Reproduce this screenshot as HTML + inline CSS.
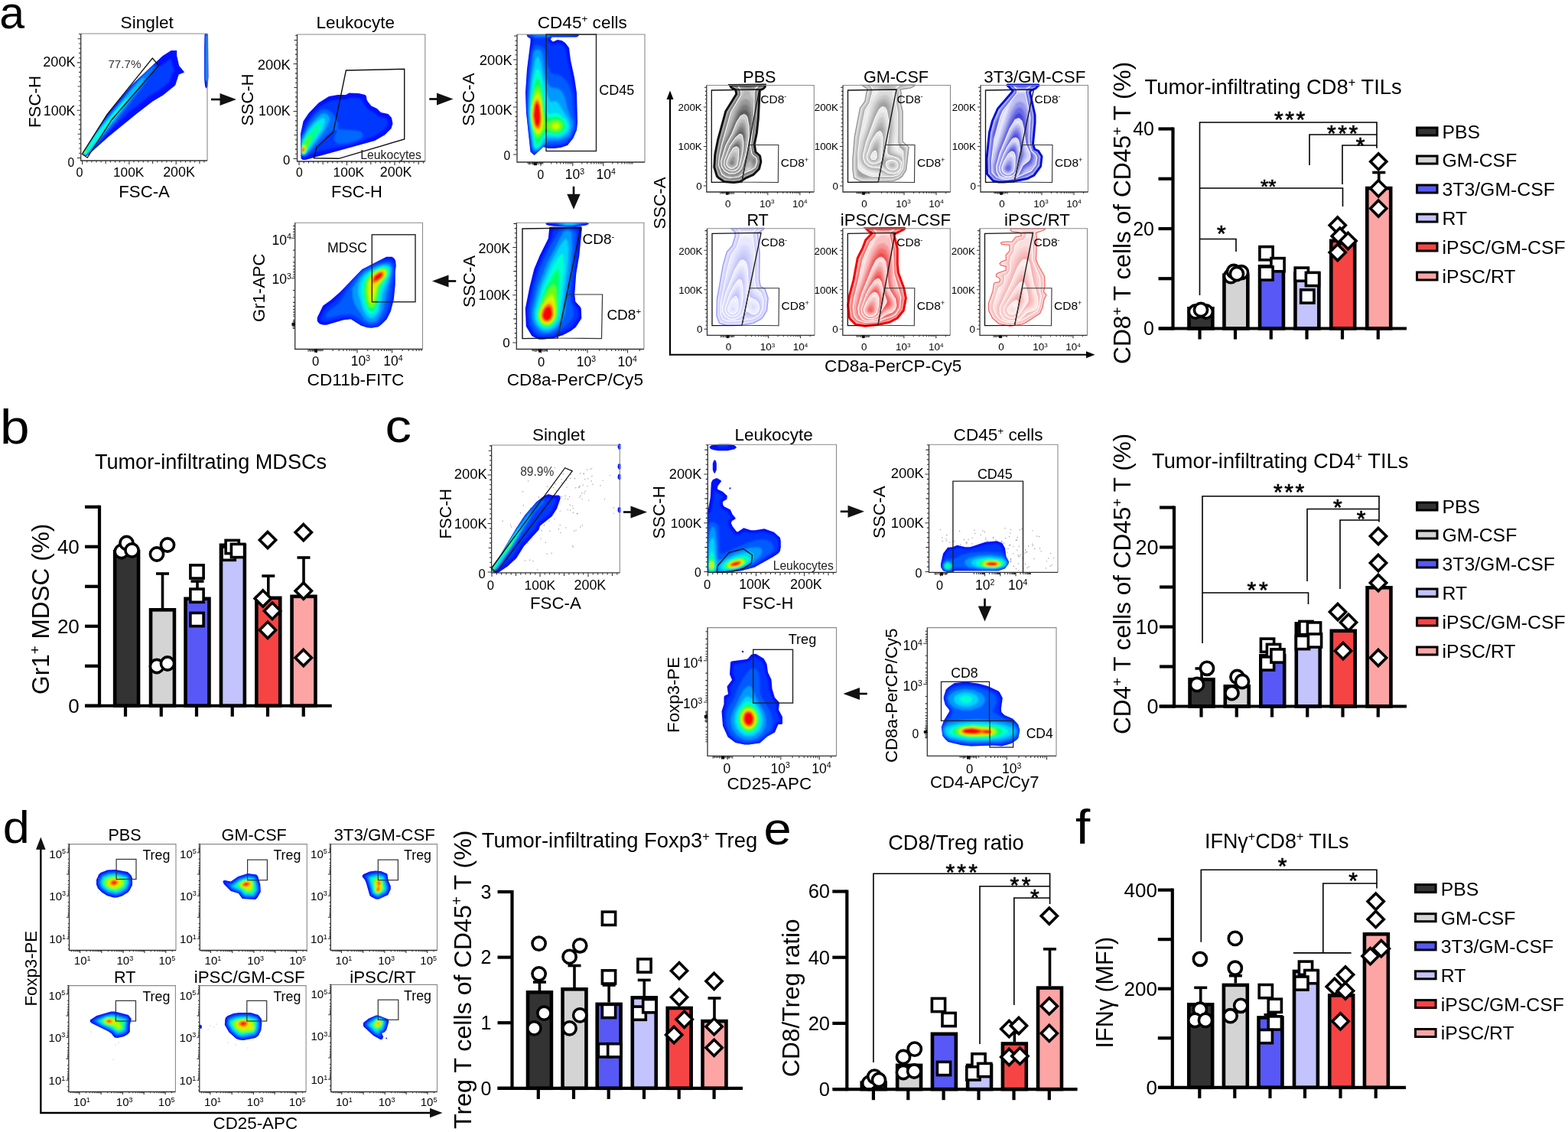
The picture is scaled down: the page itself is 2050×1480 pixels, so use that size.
<!DOCTYPE html><html><head><meta charset="utf-8"><title>Figure</title><style>html,body{margin:0;padding:0;background:#fff}svg{display:block}</style></head><body>
<svg width="2050" height="1480" viewBox="0 0 2050 1480" style="font-family:'Liberation Sans',Arial,sans-serif">
<rect width="2050" height="1480" fill="#fff"/>
<defs><filter id="bl" x="-5%" y="-5%" width="110%" height="110%"><feGaussianBlur stdDeviation="1.3"/></filter></defs>
<path d="M112.2 204.0 110.2 203.5 108.2 200.0 140.2 149.0 172.7 110.5 212.7 73.0 223.7 66.0 231.2 66.0 231.2 73.0 234.2 86.0 241.2 94.5 233.7 97.5 229.2 111.5 213.2 124.5 199.7 132.5 177.7 149.5 142.2 178.5 114.2 203.5 112.2 204.0Z" fill="#0010ff" fill-rule="evenodd"/>
<clipPath id="c1"><path d="M112.2 204.0 110.2 203.5 108.2 200.0 140.2 149.0 172.7 110.5 212.7 73.0 223.7 66.0 231.2 66.0 231.2 73.0 234.2 86.0 241.2 94.5 233.7 97.5 229.2 111.5 213.2 124.5 199.7 132.5 177.7 149.5 142.2 178.5 114.2 203.5 112.2 204.0Z" clip-rule="evenodd"/></clipPath>
<g clip-path="url(#c1)"><g filter="url(#bl)">
<path d="M112.2 203.8 110.2 203.4 108.3 200.0 137.1 154.5 173.2 110.5 203.7 82.5 208.2 86.1 210.2 86.3 223.2 76.5 226.3 88.5 227.9 91.5 225.4 95.5 221.5 107.0 208.7 117.2 194.7 125.8 166.7 148.1 146.7 167.5 118.3 199.5 114.2 203.2 112.2 203.8Z" fill="#003eff" fill-rule="evenodd"/>
<path d="M112.2 203.6 110.2 203.2 108.4 200.0 130.7 165.0 179.7 105.7 189.2 95.5 199.2 86.4 202.0 85.0 202.7 87.7 190.8 107.5 151.7 158.0 114.5 202.5 112.2 203.6Z" fill="#0077ff" fill-rule="evenodd"/>
<path d="M110.7 203.5 108.4 200.0 123.7 176.0 173.6 115.5 185.2 103.3 189.2 100.9 187.5 105.5 181.7 115.0 164.0 138.5 113.7 201.9 110.7 203.5Z" fill="#00c3ff" fill-rule="evenodd"/>
<path d="M111.2 202.6 110.2 202.7 108.5 200.0 117.7 185.5 147.2 149.1 161.2 133.3 168.2 126.7 166.2 131.1 153.3 149.5 113.4 201.0 111.2 202.6Z" fill="#00ffe0" fill-rule="evenodd"/>
<path d="M111.2 201.7 108.7 201.0 110.1 197.5 121.2 185.1 115.5 194.0 113.1 200.0 111.2 201.7Z" fill="#07ff55" fill-rule="evenodd"/>
<path d="M110.2 201.0 108.7 200.0 111.8 196.5 112.5 199.0 110.2 201.0Z" fill="#89ff00" fill-rule="evenodd"/>
<path d="M110.2 199.6 109.7 198.8 110.6 198.5 110.2 199.6Z" fill="#eff200" fill-rule="evenodd"/>
</g></g>
<path d="M270.0 115.5 269.0 115.0 268.0 112.0 267.0 102.0 267.0 64.5 267.5 45.5 268.5 44.0 271.0 44.0 272.0 45.5 272.5 100.0 271.5 113.0 270.0 115.5Z" fill="#0010ff" fill-rule="evenodd"/>
<clipPath id="c2"><path d="M270.0 115.5 269.0 115.0 268.0 112.0 267.0 102.0 267.0 64.5 267.5 45.5 268.5 44.0 271.0 44.0 272.0 45.5 272.5 100.0 271.5 113.0 270.0 115.5Z" clip-rule="evenodd"/></clipPath>
<g clip-path="url(#c2)"><g filter="url(#bl)">
<path d="M270.0 107.2 268.2 106.0 267.8 101.5 268.0 46.0 269.5 44.4 271.3 46.0 271.3 105.0 270.0 107.2Z" fill="#003eff" fill-rule="evenodd"/>
<path d="M270.0 106.3 268.6 105.5 268.4 101.0 268.5 46.0 269.5 44.9 270.8 46.5 270.8 105.0 270.0 106.3Z" fill="#0077ff" fill-rule="evenodd"/>
<path d="M270.0 105.7 269.0 105.0 268.8 101.0 269.5 45.4 270.3 46.5 270.0 105.7Z" fill="#00c3ff" fill-rule="evenodd"/>
</g></g>
<path d="M105.7,44.0 H271.0 V210.0" fill="none" stroke="#8a8a8a" stroke-width="1.1"/>
<path d="M105.7,44.0 V210.0 H271.0" fill="none" stroke="#333" stroke-width="1.3"/>
<path d="M107.6,210.0v5 M113.7,210.0v2.6 M119.9,210.0v2.6 M126.0,210.0v2.6 M132.1,210.0v2.6 M138.2,210.0v4 M144.4,210.0v2.6 M150.5,210.0v2.6 M156.6,210.0v2.6 M162.8,210.0v2.6 M168.9,210.0v5 M175.0,210.0v2.6 M181.2,210.0v2.6 M187.3,210.0v2.6 M193.4,210.0v2.6 M199.6,210.0v4 M205.7,210.0v2.6 M211.8,210.0v2.6 M217.9,210.0v2.6 M224.1,210.0v2.6 M230.2,210.0v5 M236.3,210.0v2.6 M242.5,210.0v2.6 M248.6,210.0v2.6 M254.7,210.0v2.6 M260.9,210.0v4 M267.0,210.0v2.6" stroke="#333" stroke-width="1.1" fill="none"/>
<path d="M105.7,206.5h-5 M105.7,200.3h-2.6 M105.7,194.0h-2.6 M105.7,187.8h-2.6 M105.7,181.6h-2.6 M105.7,175.3h-4 M105.7,169.1h-2.6 M105.7,162.9h-2.6 M105.7,156.7h-2.6 M105.7,150.4h-2.6 M105.7,144.2h-5 M105.7,138.0h-2.6 M105.7,131.7h-2.6 M105.7,125.5h-2.6 M105.7,119.3h-2.6 M105.7,113.0h-4 M105.7,106.8h-2.6 M105.7,100.6h-2.6 M105.7,94.4h-2.6 M105.7,88.1h-2.6 M105.7,81.9h-5 M105.7,75.7h-2.6 M105.7,69.4h-2.6 M105.7,63.2h-2.6 M105.7,57.0h-2.6 M105.7,50.7h-4 M105.7,44.5h-2.6" stroke="#333" stroke-width="1.1" fill="none"/>
<path d="M107.3,201.4 L140.2,149.4 L199.3,76.1 L207.6,85.5 L146.1,156.5 L114.2,206.2 Z" fill="none" stroke="#111" stroke-width="1.3"/>
<text x="141.4" y="88.5" font-size="15.19" fill="#333">77.7%</text>
<text x="56.3" y="87.0" font-size="18.11" fill="#000">200K</text>
<text x="56.8" y="151.0" font-size="17.89" fill="#000">100K</text>
<text x="88.4" y="217.5" font-size="15.59" fill="#000">0</text>
<text x="99.4" y="231.2" font-size="16.16" fill="#000">0</text>
<text x="147.9" y="231.2" font-size="17.31" fill="#000">100K</text>
<text x="213.2" y="231.2" font-size="17.87" fill="#000">200K</text>
<text x="155.3" y="257.8" font-size="22.19" fill="#000">FSC-A</text>
<text transform="translate(52.5,167.1) rotate(-90)" x="0.0" y="0" font-size="22.31" fill="#000">FSC-H</text>
<text x="157.6" y="37.0" font-size="22.63" fill="#000">Singlet</text>
<path d="M399.5 209.0 395.5 209.0 393.5 207.0 393.0 175.0 396.5 158.5 403.5 148.0 416.5 134.5 430.0 126.0 441.5 124.0 452.0 124.0 456.5 121.5 469.0 122.0 477.5 124.0 479.0 126.0 479.5 130.0 481.0 133.0 485.5 138.5 493.0 142.0 498.0 147.0 507.5 149.0 512.0 154.0 513.5 161.5 511.5 168.0 503.0 176.5 490.0 184.0 399.5 209.0Z" fill="#0010ff" fill-rule="evenodd"/>
<clipPath id="c3"><path d="M399.5 209.0 395.5 209.0 393.5 207.0 393.0 175.0 396.5 158.5 403.5 148.0 416.5 134.5 430.0 126.0 441.5 124.0 452.0 124.0 456.5 121.5 469.0 122.0 477.5 124.0 479.0 126.0 479.5 130.0 481.0 133.0 485.5 138.5 493.0 142.0 498.0 147.0 507.5 149.0 512.0 154.0 513.5 161.5 511.5 168.0 503.0 176.5 490.0 184.0 399.5 209.0Z" clip-rule="evenodd"/></clipPath>
<g clip-path="url(#c3)"><g filter="url(#bl)">
<path d="M398.0 206.1 396.0 206.1 393.9 204.5 393.3 181.0 393.5 176.5 399.7 161.5 407.5 150.0 414.6 142.5 418.9 139.0 432.0 131.8 443.5 129.9 453.0 129.9 458.5 127.5 467.0 128.0 473.0 129.5 475.8 136.0 481.5 143.0 489.9 147.5 494.0 151.8 504.4 154.5 506.0 156.1 507.1 160.5 506.0 165.0 500.0 171.0 488.5 178.3 461.0 188.8 421.0 196.6 406.0 201.9 398.0 206.1Z" fill="#0039ff" fill-rule="evenodd"/>
<path d="M398.5 204.2 394.0 203.2 393.5 181.5 403.7 160.5 410.5 151.8 419.0 143.9 423.0 143.1 427.5 143.6 431.5 145.5 434.9 148.5 438.4 153.5 441.6 161.0 442.0 169.1 466.5 170.7 471.9 172.5 474.3 175.0 474.3 177.5 472.4 180.5 465.5 183.7 454.5 186.9 442.5 188.1 438.5 185.7 437.0 182.0 437.6 178.0 440.9 170.0 436.0 170.4 427.5 176.2 409.5 194.9 398.5 204.2Z" fill="#0068ff" fill-rule="evenodd"/>
<path d="M398.0 203.1 394.0 202.1 393.7 197.5 394.1 184.5 397.7 176.5 403.5 166.1 414.0 154.2 420.5 148.7 424.0 148.2 427.0 149.0 430.1 152.0 431.1 156.5 425.5 169.0 417.1 181.0 401.0 201.0 398.0 203.1Z" fill="#00acff" fill-rule="evenodd"/>
<path d="M398.0 202.1 395.0 201.9 393.9 200.0 394.0 189.2 396.3 182.5 402.0 172.5 411.8 160.5 419.0 155.4 424.0 154.3 424.8 159.5 422.1 168.0 400.0 200.5 398.0 202.1Z" fill="#00e9f0" fill-rule="evenodd"/>
<path d="M397.5 201.5 394.0 200.2 393.8 197.0 394.0 191.3 397.4 183.5 401.0 177.4 414.4 163.0 416.0 162.3 418.0 162.8 419.0 165.5 416.0 171.5 399.8 199.5 397.5 201.5Z" fill="#00ff9a" fill-rule="evenodd"/>
<path d="M397.5 200.8 395.5 200.7 394.0 199.2 394.4 192.0 401.0 181.1 407.0 177.1 407.8 178.5 407.0 181.5 399.3 199.0 397.5 200.8Z" fill="#3bff31" fill-rule="evenodd"/>
<path d="M397.5 200.0 396.0 200.2 394.5 199.0 394.0 195.2 396.0 190.6 399.0 189.3 400.0 190.6 400.0 194.5 398.9 198.5 397.5 200.0Z" fill="#acff00" fill-rule="evenodd"/>
<path d="M397.0 199.5 395.0 198.7 394.4 196.5 395.5 192.5 397.5 191.1 398.8 192.0 399.2 195.0 398.4 198.0 397.0 199.5Z" fill="#f4e200" fill-rule="evenodd"/>
<path d="M397.0 198.7 395.5 198.3 394.9 196.5 395.5 193.8 397.0 192.4 398.5 195.0 397.0 198.7Z" fill="#ff7900" fill-rule="evenodd"/>
<path d="M397.0 197.6 396.0 197.6 395.6 196.5 397.0 193.9 397.7 195.5 397.0 197.6Z" fill="#ff0000" fill-rule="evenodd"/>
</g></g>
<path d="M388.5,45.0 H555.8 V211.0" fill="none" stroke="#8a8a8a" stroke-width="1.1"/>
<path d="M388.5,45.0 V211.0 H555.8" fill="none" stroke="#333" stroke-width="1.3"/>
<path d="M391.0,211.0v5 M397.2,211.0v2.6 M403.5,211.0v2.6 M409.8,211.0v2.6 M416.0,211.0v2.6 M422.2,211.0v4 M428.5,211.0v2.6 M434.8,211.0v2.6 M441.0,211.0v2.6 M447.2,211.0v2.6 M453.5,211.0v5 M459.8,211.0v2.6 M466.0,211.0v2.6 M472.2,211.0v2.6 M478.5,211.0v2.6 M484.8,211.0v4 M491.0,211.0v2.6 M497.2,211.0v2.6 M503.5,211.0v2.6 M509.8,211.0v2.6 M516.0,211.0v5 M522.2,211.0v2.6 M528.5,211.0v2.6 M534.8,211.0v2.6 M541.0,211.0v2.6 M547.2,211.0v4 M553.5,211.0v2.6" stroke="#333" stroke-width="1.1" fill="none"/>
<path d="M388.5,207.5h-5 M388.5,201.3h-2.6 M388.5,195.1h-2.6 M388.5,188.9h-2.6 M388.5,182.7h-2.6 M388.5,176.5h-4 M388.5,170.3h-2.6 M388.5,164.1h-2.6 M388.5,157.9h-2.6 M388.5,151.7h-2.6 M388.5,145.5h-5 M388.5,139.3h-2.6 M388.5,133.1h-2.6 M388.5,126.9h-2.6 M388.5,120.7h-2.6 M388.5,114.5h-4 M388.5,108.3h-2.6 M388.5,102.1h-2.6 M388.5,95.9h-2.6 M388.5,89.7h-2.6 M388.5,83.5h-5 M388.5,77.3h-2.6 M388.5,71.1h-2.6 M388.5,64.9h-2.6 M388.5,58.7h-2.6 M388.5,52.5h-4 M388.5,46.3h-2.6" stroke="#333" stroke-width="1.1" fill="none"/>
<path d="M410.4,206.7 L414.0,192.5 L435.8,172.4 L452.4,92.0 L528.7,90.3 L528.7,181.9 L442.9,207.3 Z" fill="none" stroke="#111" stroke-width="1.4"/>
<text x="471.3" y="207.9" font-size="15.75" fill="#222">Leukocytes</text>
<text x="336.8" y="90.5" font-size="18.44" fill="#000">200K</text>
<text x="338.0" y="151.2" font-size="17.89" fill="#000">100K</text>
<text x="370.1" y="215.0" font-size="16.63" fill="#000">0</text>
<text x="386.9" y="230.5" font-size="15.68" fill="#000">0</text>
<text x="435.6" y="230.5" font-size="17.35" fill="#000">100K</text>
<text x="496.8" y="230.5" font-size="17.89" fill="#000">200K</text>
<text x="432.9" y="257.5" font-size="21.90" fill="#000">FSC-H</text>
<text transform="translate(331.2,164.6) rotate(-90)" x="0.0" y="0" font-size="21.91" fill="#000">SSC-H</text>
<text x="413.6" y="37.0" font-size="22.47" fill="#000">Leukocyte</text>
<path d="M698.5 203.0 693.5 198.5 688.0 147.5 687.0 121.0 689.0 90.5 693.5 55.0 693.5 50.5 689.5 48.0 688.5 45.0 756.0 44.5 757.0 46.5 754.0 48.5 721.5 48.5 720.0 51.0 720.0 52.0 723.0 54.5 729.0 52.0 734.5 53.0 739.0 56.0 744.0 62.5 746.0 78.5 751.0 101.5 754.0 121.5 755.0 160.0 754.0 170.0 749.5 180.5 742.0 190.0 733.0 193.0 724.5 194.0 717.0 194.0 710.5 192.0 698.5 203.0Z" fill="#0010ff" fill-rule="evenodd"/>
<clipPath id="c4"><path d="M698.5 203.0 693.5 198.5 688.0 147.5 687.0 121.0 689.0 90.5 693.5 55.0 693.5 50.5 689.5 48.0 688.5 45.0 756.0 44.5 757.0 46.5 754.0 48.5 721.5 48.5 720.0 51.0 720.0 52.0 723.0 54.5 729.0 52.0 734.5 53.0 739.0 56.0 744.0 62.5 746.0 78.5 751.0 101.5 754.0 121.5 755.0 160.0 754.0 170.0 749.5 180.5 742.0 190.0 733.0 193.0 724.5 194.0 717.0 194.0 710.5 192.0 698.5 203.0Z" clip-rule="evenodd"/></clipPath>
<g clip-path="url(#c4)"><g filter="url(#bl)">
<path d="M700.0 201.5 698.5 201.8 696.4 200.5 694.0 197.4 688.4 147.5 687.6 127.0 689.5 98.5 692.8 70.0 697.2 52.0 696.0 49.5 690.0 48.0 689.1 45.0 755.8 45.0 756.6 46.5 754.0 48.0 721.5 48.2 717.0 50.0 716.0 52.0 716.9 54.5 721.0 58.1 725.0 58.5 729.5 56.5 733.0 57.1 737.0 59.8 739.9 64.0 742.1 79.0 747.8 103.0 751.3 122.5 754.1 162.0 753.3 169.5 748.3 180.0 741.0 187.9 729.0 191.4 715.0 192.9 710.5 191.8 700.0 201.5Z" fill="#0035ff" fill-rule="evenodd"/>
<path d="M715.0 49.0 699.5 49.2 691.5 46.0 693.2 45.0 716.5 44.8 744.8 45.0 751.7 46.0 743.5 47.2 721.0 47.7 715.0 49.0ZM700.5 199.0 698.5 199.3 696.4 197.5 693.9 189.5 690.0 157.0 689.6 127.0 692.4 92.0 695.8 67.0 699.0 59.7 703.0 58.9 708.5 60.7 712.6 65.5 716.5 86.8 719.5 94.2 722.5 96.5 730.5 98.1 735.5 100.7 740.2 105.5 744.1 112.0 748.0 123.5 749.1 142.5 751.4 161.0 751.3 166.5 749.6 172.0 746.1 178.5 740.0 185.0 731.5 187.9 715.5 189.3 709.5 192.1 703.0 198.4 700.5 199.0Z" fill="#005bff" fill-rule="evenodd"/>
<path d="M717.0 47.5 701.5 47.6 697.2 46.5 698.0 45.6 708.5 45.1 716.5 45.0 719.9 46.0 717.0 47.5ZM700.5 197.0 698.0 196.6 695.8 191.5 691.2 156.5 690.8 136.5 692.7 108.0 697.2 71.5 698.5 66.5 703.0 64.4 706.5 65.7 708.5 68.9 713.0 97.0 716.5 109.6 719.5 113.9 730.0 115.9 733.5 118.5 736.1 122.0 739.0 129.0 742.4 144.5 748.7 159.0 749.0 165.5 745.8 174.5 744.0 177.4 740.5 180.2 731.0 183.8 717.0 184.2 711.5 188.5 706.5 194.7 700.5 197.0Z" fill="#009aff" fill-rule="evenodd"/>
<path d="M702.0 195.1 699.0 194.9 697.4 191.5 692.6 161.0 691.7 146.0 692.8 123.0 695.6 100.0 699.5 80.5 701.5 75.0 703.0 73.8 704.5 75.5 706.5 81.6 714.0 118.0 718.0 131.1 720.0 133.4 726.0 132.3 729.5 134.2 743.3 156.5 745.5 165.0 743.7 171.5 738.6 177.0 730.0 180.3 715.0 180.2 712.6 182.5 706.6 192.5 702.0 195.1Z" fill="#00d5f9" fill-rule="evenodd"/>
<path d="M702.5 193.1 700.1 193.0 698.8 191.0 693.5 161.0 692.6 145.5 693.5 130.7 697.4 104.5 700.0 93.8 701.5 90.6 703.0 89.7 705.5 93.3 708.1 103.0 715.5 147.0 718.0 149.0 727.0 147.6 732.5 149.7 739.7 157.0 741.6 161.0 742.2 165.0 741.5 168.5 739.6 172.0 733.5 176.4 727.5 177.7 716.5 176.2 713.0 177.3 710.4 180.5 706.0 190.5 702.5 193.1Z" fill="#00ffd3" fill-rule="evenodd"/>
<path d="M703.5 190.0 702.5 190.0 701.0 187.0 696.0 170.0 693.8 156.0 693.5 145.5 694.4 133.5 698.5 111.4 700.9 103.5 703.0 101.5 705.5 105.0 708.0 114.3 712.5 147.4 714.0 152.8 716.5 154.7 726.0 152.6 731.5 153.7 737.0 158.5 739.1 164.5 737.1 170.5 731.5 174.4 725.0 175.0 715.5 172.6 712.5 173.5 709.0 178.0 703.5 190.0Z" fill="#00ff60" fill-rule="evenodd"/>
<path d="M703.5 180.6 702.0 180.2 700.5 178.2 697.0 169.4 695.1 160.5 694.2 149.5 694.8 139.0 697.0 126.8 700.5 114.6 703.0 111.7 705.2 114.5 707.6 123.0 711.5 152.8 713.5 159.5 715.5 161.0 723.0 156.9 728.5 156.4 733.8 159.5 735.9 164.5 734.0 169.5 728.0 172.4 722.5 171.7 714.0 167.3 703.5 180.6Z" fill="#66ff13" fill-rule="evenodd"/>
<path d="M704.0 175.5 701.0 174.4 698.0 168.4 695.9 160.0 695.0 151.0 695.4 141.5 697.0 132.4 700.0 123.2 702.5 120.1 705.0 122.4 707.7 131.5 710.6 160.5 709.0 168.5 706.5 173.1 704.0 175.5ZM727.0 169.0 723.4 168.0 721.4 165.0 722.6 162.0 726.5 160.3 730.2 161.5 731.8 164.5 730.5 167.7 727.0 169.0Z" fill="#c9ff00" fill-rule="evenodd"/>
<path d="M704.0 171.7 701.0 170.8 698.5 166.2 696.6 159.0 695.8 151.0 697.5 135.0 700.0 128.3 702.5 126.0 705.0 128.5 706.9 134.5 708.8 154.5 708.1 165.0 706.5 169.0 704.0 171.7Z" fill="#f8d500" fill-rule="evenodd"/>
<path d="M703.0 168.6 700.5 167.0 698.5 162.8 696.6 150.0 698.3 136.5 700.5 131.5 702.5 130.4 704.5 132.4 706.1 137.0 707.7 153.0 706.6 164.0 705.0 167.3 703.0 168.6Z" fill="#ff6d00" fill-rule="evenodd"/>
<path d="M703.5 165.2 701.5 165.0 699.5 162.1 697.4 151.5 698.5 139.8 700.0 135.9 702.0 134.1 703.5 134.9 705.0 138.0 706.6 148.5 706.2 159.5 703.5 165.2Z" fill="#ff0000" fill-rule="evenodd"/>
</g></g>
<path d="M676.0,45.0 H843.0 V212.0" fill="none" stroke="#8a8a8a" stroke-width="1.1"/>
<path d="M676.0,45.0 V212.0 H843.0" fill="none" stroke="#333" stroke-width="1.3"/>
<path d="M676.0,202.0h-5 M676.0,195.8h-2.6 M676.0,189.6h-2.6 M676.0,183.4h-2.6 M676.0,177.2h-2.6 M676.0,171.0h-4 M676.0,164.8h-2.6 M676.0,158.6h-2.6 M676.0,152.4h-2.6 M676.0,146.2h-2.6 M676.0,140.0h-5 M676.0,133.8h-2.6 M676.0,127.6h-2.6 M676.0,121.4h-2.6 M676.0,115.2h-2.6 M676.0,109.0h-4 M676.0,102.8h-2.6 M676.0,96.6h-2.6 M676.0,90.4h-2.6 M676.0,84.2h-2.6 M676.0,78.0h-5 M676.0,71.8h-2.6 M676.0,65.6h-2.6 M676.0,59.4h-2.6 M676.0,53.2h-2.6 M676.0,47.0h-4" stroke="#333" stroke-width="1.1" fill="none"/>
<path d="M720.8,212.0v2.6 M727.8,212.0v2.6 M732.8,212.0v2.6 M736.7,212.0v2.6 M739.9,212.0v2.6 M742.6,212.0v2.6 M744.9,212.0v2.6 M746.9,212.0v2.6 M760.8,212.0v2.6 M767.8,212.0v2.6 M772.8,212.0v2.6 M776.7,212.0v2.6 M779.9,212.0v2.6 M782.6,212.0v2.6 M784.9,212.0v2.6 M786.9,212.0v2.6 M800.8,212.0v2.6 M807.8,212.0v2.6 M812.8,212.0v2.6 M816.7,212.0v2.6 M819.9,212.0v2.6 M822.6,212.0v2.6 M824.9,212.0v2.6 M826.9,212.0v2.6 M748.8,212.0v5 M788.8,212.0v5 M707.0,212.0v5" stroke="#333" stroke-width="1.1" fill="none"/>
<path d="M690.0,212.0v2.4 M691.6,212.0v3.3 M692.7,212.0v2.9 M693.9,212.0v3.1 M695.5,212.0v2.3 M696.4,212.0v3.4 M697.6,212.0v3.3 M698.5,212.0v2.8 M700.0,212.0v2.5 M701.7,212.0v3.5 M702.6,212.0v2.2 M703.9,212.0v3.5 M705.1,212.0v2.5 M706.4,212.0v2.2 M707.5,212.0v2.8 M708.8,212.0v2.5 M709.8,212.0v2.5" stroke="#222" stroke-width="0.9" fill="none"/>
<rect x="698.0" y="212.0" width="4" height="4.2" fill="#111"/>
<rect x="714.00" y="45.00" width="65.50" height="152.50" fill="none" stroke="#222" stroke-width="1.4"/>
<text x="783.3" y="123.8" font-size="18.01" fill="#000">CD45</text>
<text x="626.8" y="85.0" font-size="18.44" fill="#000">200K</text>
<text x="626.8" y="150.0" font-size="18.44" fill="#000">100K</text>
<text x="658.6" y="208.8" font-size="15.68" fill="#000">0</text>
<text x="702.4" y="233.8" font-size="15.68" fill="#000">0</text>
<text x="738.8" y="233.8" font-size="17.50" fill="#000">10<tspan font-size="10.5" dy="-6.3">3</tspan></text>
<text x="779.5" y="233.8" font-size="17.50" fill="#000">10<tspan font-size="10.5" dy="-6.3">4</tspan></text>
<text transform="translate(619.5,164.7) rotate(-90)" x="0.0" y="0" font-size="22.72" fill="#000">SSC-A</text>
<text x="702.8" y="37.0" font-size="22.55" fill="#000">CD45<tspan font-size="13.5" dy="-8.1">+</tspan><tspan dy="8.1"> cells</tspan></text>
<path d="M485.7 428.8 480.2 428.3 472.2 425.8 458.7 417.3 449.2 418.3 427.2 424.8 422.2 424.8 417.7 423.3 415.7 421.3 414.7 419.3 414.7 415.3 422.2 399.8 432.7 392.3 444.7 381.8 473.2 352.3 505.2 335.8 512.7 335.8 515.7 338.3 517.2 341.3 517.7 347.8 516.7 355.3 516.7 372.3 514.7 392.3 510.7 407.3 505.7 417.3 499.7 423.3 494.7 427.3 485.7 428.8Z" fill="#0010ff" fill-rule="evenodd"/>
<clipPath id="c5"><path d="M485.7 428.8 480.2 428.3 472.2 425.8 458.7 417.3 449.2 418.3 427.2 424.8 422.2 424.8 417.7 423.3 415.7 421.3 414.7 419.3 414.7 415.3 422.2 399.8 432.7 392.3 444.7 381.8 473.2 352.3 505.2 335.8 512.7 335.8 515.7 338.3 517.2 341.3 517.7 347.8 516.7 355.3 516.7 372.3 514.7 392.3 510.7 407.3 505.7 417.3 499.7 423.3 494.7 427.3 485.7 428.8Z" clip-rule="evenodd"/></clipPath>
<g clip-path="url(#c5)"><g filter="url(#bl)">
<path d="M485.7 428.3 480.7 427.7 472.7 424.5 458.7 415.3 448.7 415.5 425.7 421.1 419.7 419.6 418.6 416.8 422.5 407.8 426.0 402.3 437.9 393.3 446.3 383.8 453.2 373.8 473.2 352.6 497.7 340.3 507.7 337.9 511.7 338.7 515.9 343.8 516.8 347.3 516.8 354.8 513.2 391.3 510.5 401.3 507.0 411.3 500.1 420.8 494.2 426.2 485.7 428.3Z" fill="#0035ff" fill-rule="evenodd"/>
<path d="M488.2 424.3 484.2 424.8 476.7 422.0 464.2 413.1 459.2 410.8 448.2 411.2 427.7 415.9 426.2 414.5 426.0 412.3 429.8 406.8 443.7 396.3 462.0 367.8 473.7 353.9 482.7 349.0 493.7 344.8 505.7 341.7 510.2 342.0 513.5 346.3 514.6 353.8 508.3 394.3 504.0 408.3 500.7 414.3 493.7 422.0 488.2 424.3Z" fill="#005bff" fill-rule="evenodd"/>
<path d="M484.7 421.3 481.2 420.5 476.7 417.6 464.3 398.8 461.1 388.8 460.6 377.3 469.9 362.8 476.2 356.0 484.7 351.1 495.2 346.6 503.2 344.6 508.2 344.5 509.9 345.3 512.0 349.3 512.3 356.3 500.9 403.3 497.8 411.3 494.5 416.8 490.7 420.2 484.7 421.3Z" fill="#009aff" fill-rule="evenodd"/>
<path d="M487.7 415.9 484.2 416.1 480.7 414.2 477.4 410.3 474.3 404.3 468.5 385.3 468.1 378.3 469.1 371.8 472.6 363.8 476.9 358.8 481.2 355.6 496.2 348.0 502.2 346.5 506.2 346.9 509.2 348.2 510.7 351.3 510.0 359.8 501.7 380.3 495.5 406.3 491.8 412.8 487.7 415.9Z" fill="#00d5f9" fill-rule="evenodd"/>
<path d="M486.7 411.3 483.7 411.0 480.7 408.6 476.0 399.3 472.5 382.8 473.5 370.8 477.5 362.3 483.9 355.8 496.7 349.2 501.2 348.3 505.2 348.7 509.2 351.9 508.7 359.3 499.3 377.3 493.2 404.3 490.2 409.1 486.7 411.3Z" fill="#00ffd3" fill-rule="evenodd"/>
<path d="M486.7 406.9 484.2 406.7 481.7 404.7 477.5 395.3 475.4 380.8 476.8 369.3 481.0 361.3 487.7 355.1 496.7 350.6 504.2 350.1 507.7 353.3 507.5 358.3 497.5 374.8 492.2 399.8 489.7 404.7 486.7 406.9Z" fill="#00ff60" fill-rule="evenodd"/>
<path d="M486.7 402.4 484.5 402.3 482.3 400.3 479.1 391.8 477.8 379.3 479.4 368.3 483.2 361.3 489.2 355.6 496.7 351.8 503.2 351.4 506.1 353.8 506.1 358.3 503.8 362.8 495.3 374.3 490.9 396.3 489.1 400.3 486.7 402.4Z" fill="#66ff13" fill-rule="evenodd"/>
<path d="M485.7 397.4 482.6 394.3 480.6 385.8 480.6 374.3 482.2 366.3 485.8 360.3 491.2 355.6 497.7 352.7 502.7 352.8 504.9 355.3 504.4 359.3 492.9 374.3 489.2 393.0 487.7 396.1 485.7 397.4Z" fill="#c9ff00" fill-rule="evenodd"/>
<path d="M486.2 388.0 484.6 387.3 483.6 382.3 483.5 369.8 484.8 364.3 487.9 359.8 492.7 355.8 497.7 353.8 501.7 354.0 503.5 356.3 502.9 359.8 499.7 364.3 489.9 374.3 486.2 388.0Z" fill="#f8d500" fill-rule="evenodd"/>
<path d="M488.7 370.3 486.7 369.5 486.1 366.8 489.0 360.3 495.7 355.5 498.7 354.9 501.2 355.7 501.8 358.8 499.6 362.8 494.2 367.5 488.7 370.3Z" fill="#ff6d00" fill-rule="evenodd"/>
<path d="M490.7 366.8 489.2 366.3 488.7 364.3 491.2 359.8 495.9 356.8 499.7 357.1 500.1 359.3 498.2 362.5 494.2 365.6 490.7 366.8Z" fill="#ff0000" fill-rule="evenodd"/>
</g></g>
<path d="M385.7,291.3 H552.5 V456.5" fill="none" stroke="#8a8a8a" stroke-width="1.1"/>
<path d="M385.7,291.3 V456.5 H552.5" fill="none" stroke="#333" stroke-width="1.3"/>
<path d="M385.7,295.4h-2.6 M385.7,299.6h-2.6 M385.7,303.1h-2.6 M385.7,306.2h-2.6 M385.7,308.8h-2.6 M385.7,327.1h-2.6 M385.7,336.3h-2.6 M385.7,342.9h-2.6 M385.7,347.9h-2.6 M385.7,352.1h-2.6 M385.7,355.6h-2.6 M385.7,358.7h-2.6 M385.7,361.3h-2.6 M385.7,379.6h-2.6 M385.7,388.8h-2.6 M385.7,395.4h-2.6 M385.7,400.4h-2.6 M385.7,404.6h-2.6 M385.7,408.1h-2.6 M385.7,411.2h-2.6 M385.7,413.8h-2.6 M385.7,311.2h-5 M385.7,363.8h-5" stroke="#333" stroke-width="1.1" fill="none"/>
<path d="M435.2,456.5v2.6 M443.2,456.5v2.6 M448.9,456.5v2.6 M453.3,456.5v2.6 M456.9,456.5v2.6 M460.0,456.5v2.6 M462.6,456.5v2.6 M464.9,456.5v2.6 M480.7,456.5v2.6 M488.7,456.5v2.6 M494.4,456.5v2.6 M498.8,456.5v2.6 M502.4,456.5v2.6 M505.5,456.5v2.6 M508.1,456.5v2.6 M510.4,456.5v2.6 M526.2,456.5v2.6 M534.2,456.5v2.6 M539.9,456.5v2.6 M544.3,456.5v2.6 M547.9,456.5v2.6 M551.0,456.5v2.6 M467.0,456.5v5 M512.5,456.5v5 M413.8,456.5v5" stroke="#333" stroke-width="1.1" fill="none"/>
<path d="M403.0,456.5v3.5 M404.7,456.5v2.2 M405.6,456.5v3.4 M407.1,456.5v3.1 M408.3,456.5v3.0 M409.6,456.5v3.0 M410.7,456.5v2.8 M411.9,456.5v3.2 M413.6,456.5v3.5 M414.9,456.5v2.8 M416.0,456.5v2.2 M417.0,456.5v2.8 M418.1,456.5v2.7 M419.7,456.5v2.9 M421.1,456.5v2.5 M422.0,456.5v2.6" stroke="#222" stroke-width="0.9" fill="none"/>
<rect x="411.0" y="456.5" width="4" height="4.2" fill="#111"/>
<path d="M385.7,418.0h-2.5 M385.7,419.3h-2.7 M385.7,420.7h-3.1 M385.7,421.7h-2.2 M385.7,423.2h-2.5 M385.7,424.3h-3.6 M385.7,425.6h-3.4 M385.7,426.9h-3.1 M385.7,427.9h-3.1 M385.7,429.5h-2.9" stroke="#222" stroke-width="0.9" fill="none"/>
<rect x="381.5" y="422.0" width="4.2" height="4" fill="#111"/>
<rect x="486.30" y="306.80" width="56.70" height="87.90" fill="none" stroke="#222" stroke-width="1.4"/>
<text x="428.0" y="329.8" font-size="17.67" fill="#000">MDSC</text>
<text x="355.5" y="319.5" font-size="17.50" fill="#000">10<tspan font-size="10.5" dy="-6.3">4</tspan></text>
<text x="355.5" y="371.2" font-size="17.50" fill="#000">10<tspan font-size="10.5" dy="-6.3">3</tspan></text>
<text x="408.1" y="478.0" font-size="16.63" fill="#000">0</text>
<text x="458.8" y="478.0" font-size="17.50" fill="#000">10<tspan font-size="10.5" dy="-6.3">3</tspan></text>
<text x="501.2" y="478.0" font-size="17.50" fill="#000">10<tspan font-size="10.5" dy="-6.3">4</tspan></text>
<text x="401.6" y="503.8" font-size="22.69" fill="#000">CD11b-FITC</text>
<text transform="translate(345.5,420.9) rotate(-90)" x="0.0" y="0" font-size="22.04" fill="#000">Gr1-APC</text>
<path d="M752.3 296.3 724.3 295.8 717.3 294.8 714.3 293.8 713.3 292.3 715.3 290.8 744.3 290.8 767.8 290.8 769.8 292.3 769.3 293.3 765.3 294.8 752.3 296.3ZM710.3 443.8 704.3 443.8 695.3 439.3 687.8 426.8 686.8 403.3 692.3 375.8 698.3 351.8 705.8 333.8 716.8 311.8 718.3 296.8 759.8 296.3 760.8 297.3 760.8 299.8 757.3 334.3 753.3 357.8 751.3 384.3 752.3 394.3 758.8 401.3 759.8 403.8 760.3 416.3 752.8 427.8 746.3 432.8 735.8 438.3 723.3 442.3 710.3 443.8Z" fill="#0010ff" fill-rule="evenodd"/>
<clipPath id="c6"><path d="M752.3 296.3 724.3 295.8 717.3 294.8 714.3 293.8 713.3 292.3 715.3 290.8 744.3 290.8 767.8 290.8 769.8 292.3 769.3 293.3 765.3 294.8 752.3 296.3ZM710.3 443.8 704.3 443.8 695.3 439.3 687.8 426.8 686.8 403.3 692.3 375.8 698.3 351.8 705.8 333.8 716.8 311.8 718.3 296.8 759.8 296.3 760.8 297.3 760.8 299.8 757.3 334.3 753.3 357.8 751.3 384.3 752.3 394.3 758.8 401.3 759.8 403.8 760.3 416.3 752.8 427.8 746.3 432.8 735.8 438.3 723.3 442.3 710.3 443.8Z" clip-rule="evenodd"/></clipPath>
<g clip-path="url(#c6)"><g filter="url(#bl)">
<path d="M750.8 295.8 734.4 295.8 721.3 293.3 718.3 291.3 761.3 291.0 766.8 291.3 767.9 292.3 764.8 293.9 750.8 295.8ZM709.3 441.4 705.3 441.0 698.3 437.2 690.9 425.3 689.4 404.3 696.0 372.8 702.8 350.3 707.9 337.8 721.0 311.3 722.9 301.3 736.5 296.8 747.8 296.8 756.5 300.8 755.0 327.8 748.7 384.3 749.6 395.3 755.7 405.3 756.0 414.8 748.2 426.8 735.3 434.4 720.3 440.5 709.3 441.4Z" fill="#0035ff" fill-rule="evenodd"/>
<path d="M744.8 295.3 731.8 294.3 726.0 292.8 725.6 291.8 753.8 291.1 762.5 291.3 763.3 292.3 757.8 294.1 744.8 295.3ZM717.3 437.8 706.3 437.8 700.3 434.5 698.5 432.3 694.1 424.8 692.5 414.3 692.9 402.8 699.0 373.8 705.1 353.8 711.0 339.3 722.3 316.8 730.2 303.3 738.3 299.4 744.3 299.1 753.1 303.3 751.9 327.3 745.6 381.8 746.2 395.3 749.3 402.3 749.6 412.3 746.4 419.3 733.4 431.3 722.8 436.4 717.3 437.8Z" fill="#005bff" fill-rule="evenodd"/>
<path d="M750.3 294.3 737.8 294.4 731.8 293.4 730.0 292.3 731.6 291.3 744.3 291.1 757.6 291.3 759.2 292.3 757.6 293.3 750.3 294.3ZM717.3 434.9 712.3 435.2 707.8 433.9 703.8 431.2 700.0 426.8 697.4 421.8 695.7 415.8 695.3 409.8 696.2 403.8 703.1 374.8 715.5 343.3 736.6 303.3 740.3 301.7 743.8 301.8 747.5 303.8 747.9 325.3 745.9 351.8 741.8 379.3 739.2 407.8 736.1 417.3 730.8 425.8 724.3 431.8 717.3 434.9Z" fill="#009aff" fill-rule="evenodd"/>
<path d="M749.8 293.8 739.3 293.9 733.4 292.3 736.1 291.3 744.3 291.2 752.6 291.3 755.6 292.3 749.8 293.8ZM716.3 431.8 708.8 430.8 702.3 424.9 698.7 415.8 698.9 405.8 706.9 375.8 719.3 345.3 731.8 321.7 737.3 314.0 740.3 312.5 741.9 315.3 743.2 324.8 741.6 350.8 734.1 410.3 732.0 417.8 728.1 424.3 722.3 429.5 716.3 431.8Z" fill="#00d5f9" fill-rule="evenodd"/>
<path d="M748.3 293.3 740.3 293.3 737.2 292.3 744.3 291.3 751.7 292.3 748.3 293.3ZM716.8 429.3 709.8 428.6 704.3 424.0 701.0 416.3 700.9 407.3 710.0 376.8 723.0 347.3 730.8 334.9 734.8 331.6 736.3 332.8 737.0 335.8 737.4 350.3 731.2 411.8 729.5 417.8 726.0 423.3 721.8 427.1 716.8 429.3Z" fill="#00ffd3" fill-rule="evenodd"/>
<path d="M716.8 427.3 710.8 426.9 705.7 422.8 702.6 415.8 702.5 408.3 713.3 377.2 724.3 357.4 727.3 353.2 729.3 352.0 730.8 354.8 731.3 365.3 729.4 411.3 727.9 416.8 724.9 421.8 721.2 425.3 716.8 427.3Z" fill="#00ff60" fill-rule="evenodd"/>
<path d="M714.8 425.8 709.8 424.4 706.2 420.8 704.1 415.3 704.0 408.8 707.0 399.3 716.6 378.8 720.8 373.5 723.8 371.9 726.1 374.3 727.4 380.8 728.3 402.3 727.5 412.3 725.9 417.3 722.8 421.8 718.8 424.8 714.8 425.8Z" fill="#66ff13" fill-rule="evenodd"/>
<path d="M716.8 423.9 712.3 423.8 708.3 421.1 705.8 416.3 705.2 410.3 707.1 403.3 710.8 395.8 716.8 387.3 720.8 384.6 723.2 386.8 725.0 392.8 726.4 401.8 726.3 409.8 725.4 414.8 723.4 418.8 720.3 422.1 716.8 423.9Z" fill="#c9ff00" fill-rule="evenodd"/>
<path d="M716.3 422.4 712.3 422.1 709.2 419.8 706.9 415.3 706.6 410.3 708.3 404.2 711.8 398.0 715.8 393.7 719.3 392.5 721.8 394.3 723.8 398.8 724.8 410.8 722.1 418.3 719.3 421.0 716.3 422.4Z" fill="#f8d500" fill-rule="evenodd"/>
<path d="M715.8 420.8 712.3 420.3 709.8 418.3 708.2 414.8 707.9 410.8 709.2 405.8 711.8 401.2 715.3 397.8 718.3 397.0 720.8 398.6 722.5 401.8 723.4 411.3 720.8 417.7 715.8 420.8Z" fill="#ff6d00" fill-rule="evenodd"/>
<path d="M716.8 418.9 713.8 419.1 711.3 417.6 709.7 414.8 709.2 411.3 712.3 403.5 714.8 401.2 717.3 400.4 719.3 401.3 720.7 403.3 722.0 409.8 720.7 415.3 716.8 418.9Z" fill="#ff0000" fill-rule="evenodd"/>
</g></g>
<path d="M675.3,291.3 H841.9 V456.5" fill="none" stroke="#8a8a8a" stroke-width="1.1"/>
<path d="M675.3,291.3 V456.5 H841.9" fill="none" stroke="#333" stroke-width="1.3"/>
<path d="M675.3,448.0h-5 M675.3,441.8h-2.6 M675.3,435.6h-2.6 M675.3,429.3h-2.6 M675.3,423.1h-2.6 M675.3,416.9h-4 M675.3,410.6h-2.6 M675.3,404.4h-2.6 M675.3,398.2h-2.6 M675.3,392.0h-2.6 M675.3,385.8h-5 M675.3,379.5h-2.6 M675.3,373.3h-2.6 M675.3,367.1h-2.6 M675.3,360.9h-2.6 M675.3,354.6h-4 M675.3,348.4h-2.6 M675.3,342.2h-2.6 M675.3,335.9h-2.6 M675.3,329.7h-2.6 M675.3,323.5h-5 M675.3,317.3h-2.6 M675.3,311.0h-2.6 M675.3,304.8h-2.6 M675.3,298.6h-2.6 M675.3,292.4h-4" stroke="#333" stroke-width="1.1" fill="none"/>
<path d="M731.3,456.5v2.6 M740.5,456.5v2.6 M747.1,456.5v2.6 M752.2,456.5v2.6 M756.4,456.5v2.6 M759.9,456.5v2.6 M762.9,456.5v2.6 M765.6,456.5v2.6 M783.8,456.5v2.6 M793.0,456.5v2.6 M799.6,456.5v2.6 M804.7,456.5v2.6 M808.9,456.5v2.6 M812.4,456.5v2.6 M815.4,456.5v2.6 M818.1,456.5v2.6 M836.3,456.5v2.6 M768.0,456.5v5 M820.5,456.5v5 M707.5,456.5v5" stroke="#333" stroke-width="1.1" fill="none"/>
<path d="M696.0,456.5v2.5 M697.0,456.5v2.7 M698.0,456.5v2.3 M699.2,456.5v3.5 M700.8,456.5v3.3 M701.8,456.5v2.9 M703.0,456.5v2.4 M704.0,456.5v2.5 M705.6,456.5v3.4 M707.1,456.5v3.3 M708.2,456.5v2.6 M709.6,456.5v3.2 M711.2,456.5v3.4 M712.1,456.5v3.0 M713.6,456.5v2.9 M714.6,456.5v2.8 M715.6,456.5v3.5" stroke="#222" stroke-width="0.9" fill="none"/>
<rect x="704.0" y="456.5" width="4" height="4.2" fill="#111"/>
<path d="M683.0,299.0 L759.2,297.9 L729.0,442.0 L683.0,442.6 Z" fill="none" stroke="#111" stroke-width="1.4"/>
<path d="M741.7,385.0 L787.6,385.0 L786.5,442.6 L729.0,442.0 Z" fill="none" stroke="#333" stroke-width="1.2"/>
<text x="761.5" y="319.4" font-size="19.00" fill="#000">CD8<tspan font-size="11.4" dy="-6.8">-</tspan></text>
<text x="793.4" y="417.6" font-size="19.00" fill="#000">CD8<tspan font-size="11.4" dy="-6.8">+</tspan></text>
<text x="625.5" y="331.2" font-size="17.89" fill="#000">200K</text>
<text x="625.5" y="391.8" font-size="17.89" fill="#000">100K</text>
<text x="657.3" y="453.8" font-size="17.11" fill="#000">0</text>
<text x="703.1" y="478.8" font-size="16.63" fill="#000">0</text>
<text x="753.8" y="478.8" font-size="17.50" fill="#000">10<tspan font-size="10.5" dy="-6.3">3</tspan></text>
<text x="807.5" y="478.8" font-size="17.50" fill="#000">10<tspan font-size="10.5" dy="-6.3">4</tspan></text>
<text x="662.8" y="503.8" font-size="22.58" fill="#000">CD8a-PerCP/Cy5</text>
<text transform="translate(621.2,402.1) rotate(-90)" x="0.0" y="0" font-size="22.30" fill="#000">SSC-A</text>
<line x1="276.00" y1="130.00" x2="289.50" y2="130.00" stroke="#000" stroke-width="2.6"/>
<path d="M287.5,122.0 L309.0,130.0 L287.5,138.0 Z" fill="#111"/>
<line x1="561.25" y1="129.50" x2="573.00" y2="129.50" stroke="#000" stroke-width="2.6"/>
<path d="M571.0,121.5 L592.5,129.5 L571.0,137.5 Z" fill="#111"/>
<line x1="750.00" y1="243.75" x2="750.00" y2="255.75" stroke="#000" stroke-width="2.6"/>
<path d="M741.3,253.8 L750.0,273.8 L758.7,253.8 Z" fill="#111"/>
<line x1="584.50" y1="367.50" x2="596.25" y2="367.50" stroke="#000" stroke-width="2.6"/>
<path d="M586.5,359.5 L565.0,367.5 L586.5,375.5 Z" fill="#111"/>
<path d="M959.3 238.5 946.8 237.5 938.8 232.0 937.3 230.0 933.8 218.5 934.8 202.0 938.8 182.0 948.8 145.5 962.8 123.0 961.8 117.5 956.3 114.5 954.3 111.5 1000.3 111.0 1000.3 113.5 997.8 116.0 993.3 118.0 991.3 155.0 989.3 174.0 986.3 188.5 987.8 198.5 993.3 203.5 993.8 205.0 994.8 211.5 992.8 219.5 992.3 221.0 984.8 228.5 975.3 232.5 967.8 237.5 959.3 238.5Z" fill="#d6d6d6" fill-rule="evenodd"/>
<clipPath id="c7"><path d="M959.3 238.5 946.8 237.5 938.8 232.0 937.3 230.0 933.8 218.5 934.8 202.0 938.8 182.0 948.8 145.5 962.8 123.0 961.8 117.5 956.3 114.5 954.3 111.5 1000.3 111.0 1000.3 113.5 997.8 116.0 993.3 118.0 991.3 155.0 989.3 174.0 986.3 188.5 987.8 198.5 993.3 203.5 993.8 205.0 994.8 211.5 992.8 219.5 992.3 221.0 984.8 228.5 975.3 232.5 967.8 237.5 959.3 238.5Z" clip-rule="evenodd"/></clipPath>
<g clip-path="url(#c7)"><g filter="url(#bl)">
<path d="M958.8 237.3 947.3 236.2 939.3 230.7 934.8 217.9 935.8 202.5 938.9 187.5 950.1 146.0 963.8 123.0 962.5 117.0 956.3 113.8 955.1 111.5 1000.0 111.5 998.4 114.5 992.4 117.5 991.6 121.0 990.5 154.5 988.6 173.5 985.8 188.5 987.4 198.5 992.9 203.5 993.4 205.0 994.4 211.5 992.4 219.5 991.9 221.0 984.7 227.5 976.8 230.3 967.3 236.2 958.8 237.3Z" fill="#b7b7b7" fill-rule="evenodd"/>
<path d="M958.3 236.0 947.8 234.9 940.3 229.7 936.5 219.5 936.0 215.0 937.1 203.0 941.2 183.0 951.5 146.5 965.0 123.5 963.6 116.5 956.7 111.5 998.7 111.5 997.3 113.9 991.3 116.9 990.3 120.5 989.2 154.0 987.4 173.0 984.7 188.5 986.6 199.0 991.1 203.0 992.4 205.5 993.4 211.0 991.6 219.0 989.8 221.8 983.8 226.4 977.3 228.6 966.8 234.9 958.3 236.0Z" fill="#989898" fill-rule="evenodd"/>
<path d="M958.3 234.6 948.3 233.7 941.3 228.8 937.1 215.5 938.2 203.5 941.3 188.5 953.2 145.5 966.4 123.5 965.1 116.5 958.4 111.5 997.2 111.5 996.3 112.9 990.3 116.3 989.0 120.0 988.0 153.5 986.2 172.5 983.5 188.5 985.3 199.5 990.4 204.0 991.4 206.0 992.2 211.0 990.5 218.5 988.8 221.0 983.3 225.0 976.4 227.5 966.8 233.4 958.3 234.6Z" fill="#7a7a7a" fill-rule="evenodd"/>
<path d="M957.8 233.5 948.3 232.3 942.3 228.0 938.3 215.5 939.4 203.5 942.6 188.5 954.5 146.0 967.7 124.0 967.1 117.5 961.1 111.5 995.4 111.5 989.1 116.0 987.6 120.0 986.8 153.5 985.1 172.5 982.4 188.5 984.0 200.0 989.7 205.0 990.3 206.5 991.0 211.0 989.9 216.0 988.6 219.5 982.3 223.9 975.8 226.3 966.3 232.3 957.8 233.5Z" fill="#5b5b5b" fill-rule="evenodd"/>
<path d="M959.8 232.0 954.3 232.4 948.8 231.3 943.8 227.8 939.3 216.0 940.4 204.0 943.7 189.0 955.7 146.5 969.1 124.0 968.5 117.5 963.6 111.5 992.4 111.5 987.6 116.0 986.2 120.0 985.6 153.0 981.2 191.0 982.8 200.6 984.3 202.9 989.0 206.5 989.8 210.5 989.2 214.0 987.3 218.9 981.8 222.5 975.3 225.1 965.8 231.2 959.8 232.0Z" fill="#d6d6d6" fill-rule="evenodd"/>
<path d="M959.3 231.5 954.3 231.8 948.8 230.7 944.3 227.5 939.8 216.0 940.9 204.0 944.2 189.0 954.6 155.0 959.0 142.5 969.1 126.0 972.0 119.5 969.3 117.6 964.7 111.5 991.1 111.5 986.3 116.9 982.0 118.0 980.1 119.5 982.5 126.0 985.3 130.4 985.5 134.5 983.9 168.0 980.7 192.0 982.3 201.1 983.9 203.5 988.3 206.5 989.2 210.5 988.7 213.5 987.1 218.0 985.3 219.5 981.8 221.6 979.8 218.9 978.3 218.4 973.0 225.5 969.0 228.5 965.3 230.7 959.3 231.5Z" fill="#b7b7b7" fill-rule="evenodd"/>
<path d="M982.3 116.0 968.8 115.7 965.6 111.5 989.9 111.5 986.8 115.4 982.3 116.0ZM958.8 231.0 950.3 229.8 943.3 224.8 940.3 216.5 941.4 204.0 945.3 187.3 952.4 172.5 961.9 145.0 968.8 132.6 972.3 130.0 975.8 129.6 978.8 131.1 981.1 134.0 984.3 144.5 983.3 168.0 980.2 192.0 981.7 201.5 983.4 204.0 987.8 207.0 988.5 211.5 986.5 217.5 984.3 219.2 980.8 210.9 979.3 209.9 970.1 225.5 964.8 229.4 958.8 231.0Z" fill="#989898" fill-rule="evenodd"/>
<path d="M981.8 115.0 970.8 114.8 968.0 114.0 967.1 112.5 971.1 111.5 983.9 111.5 988.3 112.8 987.2 114.0 981.8 115.0ZM958.8 229.5 950.8 228.4 944.3 223.7 940.8 216.5 941.2 208.5 946.0 190.0 954.2 173.5 964.7 146.0 970.3 138.1 974.8 136.4 977.1 137.5 979.0 140.0 982.2 149.5 982.8 167.5 979.8 188.0 979.4 199.5 970.6 222.5 965.3 227.4 958.8 229.5ZM985.8 216.8 984.2 211.0 985.3 206.4 987.1 207.5 987.9 210.5 985.8 216.8Z" fill="#7a7a7a" fill-rule="evenodd"/>
<path d="M979.8 114.0 974.4 114.0 972.0 113.0 977.3 112.1 982.9 113.0 979.8 114.0ZM960.3 228.1 952.8 227.8 946.3 224.1 942.4 218.0 941.8 210.5 947.4 190.5 955.9 174.0 962.8 156.0 968.4 146.0 973.8 143.2 975.8 144.1 978.6 147.5 980.4 158.0 980.8 178.5 979.0 190.5 977.2 200.5 970.7 220.0 966.3 225.3 960.3 228.1Z" fill="#5b5b5b" fill-rule="evenodd"/>
<path d="M960.3 227.0 953.3 226.9 947.2 223.5 943.3 217.5 942.8 210.5 948.8 190.5 957.4 174.5 963.3 159.9 968.3 152.2 972.8 149.8 975.3 151.4 976.8 154.0 978.9 165.0 979.1 179.0 976.2 198.5 969.6 220.0 965.8 224.4 960.3 227.0Z" fill="#d6d6d6" fill-rule="evenodd"/>
<path d="M960.3 226.1 953.8 226.1 947.9 223.0 944.3 217.5 943.7 211.0 950.2 190.0 958.8 175.0 965.3 160.8 968.8 156.4 971.8 155.2 973.8 156.2 975.3 158.7 977.3 169.0 977.7 178.5 975.1 198.0 968.8 219.5 965.3 223.6 960.3 226.1Z" fill="#b7b7b7" fill-rule="evenodd"/>
<path d="M958.8 225.5 952.8 225.0 947.8 221.7 944.8 216.5 944.6 210.5 951.3 190.2 965.8 164.4 968.8 161.1 971.3 160.5 973.3 162.2 974.6 165.5 976.2 177.5 973.9 198.5 968.2 219.0 964.3 223.4 958.8 225.5Z" fill="#989898" fill-rule="evenodd"/>
<path d="M959.8 224.6 953.8 224.5 948.8 221.6 945.6 216.5 945.3 211.0 952.3 190.5 965.8 168.7 968.3 166.2 970.3 165.8 972.8 168.7 974.7 177.5 973.0 198.0 967.6 218.5 964.3 222.4 959.8 224.6Z" fill="#7a7a7a" fill-rule="evenodd"/>
<path d="M958.8 224.1 953.8 223.7 949.2 221.0 946.4 216.5 946.0 211.0 953.1 191.0 964.1 175.0 967.3 171.6 969.3 171.0 971.3 173.0 972.9 177.5 972.0 198.0 967.0 218.0 963.7 222.0 958.8 224.1Z" fill="#5b5b5b" fill-rule="evenodd"/>
<path d="M957.3 223.5 952.8 222.6 948.8 219.6 946.8 215.5 946.8 210.5 954.2 191.0 961.8 180.3 966.7 176.0 968.3 175.6 970.3 177.4 971.8 186.5 971.2 197.0 968.9 208.5 966.9 216.5 965.3 219.5 961.8 222.4 957.3 223.5Z" fill="#d6d6d6" fill-rule="evenodd"/>
<path d="M959.3 222.6 954.3 222.5 950.3 220.2 947.6 216.0 947.3 211.5 955.0 191.5 961.8 182.5 966.8 179.9 969.0 181.5 970.3 186.0 970.3 196.5 969.3 202.5 965.8 217.5 963.3 220.6 959.3 222.6Z" fill="#b7b7b7" fill-rule="evenodd"/>
<path d="M958.8 222.0 954.3 221.8 950.5 219.5 948.3 216.0 947.9 211.5 955.8 192.0 961.8 184.8 965.8 182.9 968.0 184.5 969.2 189.0 969.4 196.5 968.1 205.0 965.0 217.5 962.3 220.5 958.8 222.0Z" fill="#989898" fill-rule="evenodd"/>
<path d="M957.8 221.5 953.8 220.9 950.4 218.5 948.7 215.0 948.7 211.0 956.7 192.5 961.8 187.1 965.3 186.0 967.3 188.5 968.3 196.0 965.8 212.5 963.3 218.8 957.8 221.5Z" fill="#7a7a7a" fill-rule="evenodd"/>
<path d="M959.3 220.6 955.3 220.7 951.8 219.0 949.7 216.0 949.1 212.0 957.7 193.0 961.3 189.8 963.8 188.9 965.8 190.4 967.2 195.5 966.3 206.0 964.1 216.5 962.2 219.0 959.3 220.6Z" fill="#5b5b5b" fill-rule="evenodd"/>
<path d="M958.8 220.0 955.3 220.1 952.3 218.5 950.2 215.5 949.8 212.0 953.8 202.4 958.7 194.0 962.8 191.9 964.8 193.3 965.8 195.5 965.1 208.5 963.4 216.5 958.8 220.0Z" fill="#d6d6d6" fill-rule="evenodd"/>
<path d="M958.8 218.7 955.8 218.8 953.3 217.7 951.6 215.5 951.1 212.5 956.3 201.9 958.8 198.9 961.3 197.9 963.4 201.5 963.2 211.0 962.1 216.0 958.8 218.7Z" fill="#b7b7b7" fill-rule="evenodd"/>
<path d="M958.8 217.1 954.8 216.9 952.5 213.0 955.8 206.7 959.3 204.0 961.0 206.0 961.5 211.5 961.0 215.0 958.8 217.1Z" fill="#989898" fill-rule="evenodd"/>
<path d="M958.3 215.0 956.3 215.3 954.6 213.5 954.9 212.0 957.3 210.2 959.2 212.5 958.3 215.0Z" fill="#7a7a7a" fill-rule="evenodd"/>
</g>
<path d="M959.8 232.0 954.3 232.4 948.8 231.3 943.8 227.8 939.3 216.0 940.4 204.0 943.7 189.0 955.7 146.5 969.1 124.0 968.5 117.5 963.6 111.5 992.4 111.5 987.6 116.0 986.2 120.0 985.6 153.0 981.2 191.0 982.8 200.6 984.3 202.9 989.0 206.5 989.8 210.5 989.2 214.0 987.3 218.9 981.8 222.5 975.3 225.1 965.8 231.2 959.8 232.0Z" fill="none" stroke="#ffffff" stroke-width="1.1"/>
<path d="M960.3 227.0 953.3 226.9 947.2 223.5 943.3 217.5 942.8 210.5 948.8 190.5 957.4 174.5 963.3 159.9 968.3 152.2 972.8 149.8 975.3 151.4 976.8 154.0 978.9 165.0 979.1 179.0 976.2 198.5 969.6 220.0 965.8 224.4 960.3 227.0Z" fill="none" stroke="#ffffff" stroke-width="1.1"/>
<path d="M957.3 223.5 952.8 222.6 948.8 219.6 946.8 215.5 946.8 210.5 954.2 191.0 961.8 180.3 966.7 176.0 968.3 175.6 970.3 177.4 971.8 186.5 971.2 197.0 968.9 208.5 966.9 216.5 965.3 219.5 961.8 222.4 957.3 223.5Z" fill="none" stroke="#ffffff" stroke-width="1.1"/>
<path d="M958.8 220.0 955.3 220.1 952.3 218.5 950.2 215.5 949.8 212.0 953.8 202.4 958.7 194.0 962.8 191.9 964.8 193.3 965.8 195.5 965.1 208.5 963.4 216.5 958.8 220.0Z" fill="none" stroke="#ffffff" stroke-width="1.1"/>
</g>
<path d="M959.3 238.5 946.8 237.5 938.8 232.0 937.3 230.0 933.8 218.5 934.8 202.0 938.8 182.0 948.8 145.5 962.8 123.0 961.8 117.5 956.3 114.5 954.3 111.5 1000.3 111.0 1000.3 113.5 997.8 116.0 993.3 118.0 991.3 155.0 989.3 174.0 986.3 188.5 987.8 198.5 993.3 203.5 993.8 205.0 994.8 211.5 992.8 219.5 992.3 221.0 984.8 228.5 975.3 232.5 967.8 237.5 959.3 238.5Z" fill="none" stroke="#111111" stroke-width="3.0"/>
<path d="M923.8,111.5 H1064.3 V251.0" fill="none" stroke="#8a8a8a" stroke-width="1.1"/>
<path d="M923.8,111.5 V251.0 H1064.3" fill="none" stroke="#333" stroke-width="1.3"/>
<path d="M923.8,243.0h-4 M923.8,237.8h-2 M923.8,232.7h-2 M923.8,227.6h-2 M923.8,222.4h-2 M923.8,217.2h-3 M923.8,212.1h-2 M923.8,206.9h-2 M923.8,201.8h-2 M923.8,196.7h-2 M923.8,191.5h-4 M923.8,186.3h-2 M923.8,181.2h-2 M923.8,176.1h-2 M923.8,170.9h-2 M923.8,165.8h-3 M923.8,160.6h-2 M923.8,155.4h-2 M923.8,150.3h-2 M923.8,145.2h-2 M923.8,140.0h-4 M923.8,134.8h-2 M923.8,129.7h-2 M923.8,124.6h-2 M923.8,119.4h-2 M923.8,114.2h-3" stroke="#333" stroke-width="1.1" fill="none"/>
<path d="M974.4,251.0v2 M981.8,251.0v2 M987.1,251.0v2 M991.2,251.0v2 M994.5,251.0v2 M997.3,251.0v2 M999.7,251.0v2 M1001.9,251.0v2 M1016.4,251.0v2 M1023.8,251.0v2 M1029.1,251.0v2 M1033.2,251.0v2 M1036.5,251.0v2 M1039.3,251.0v2 M1041.7,251.0v2 M1043.9,251.0v2 M1058.4,251.0v2 M1003.8,251.0v4 M1045.8,251.0v4 M950.8,251.0v4" stroke="#333" stroke-width="1.1" fill="none"/>
<path d="M941.8,251.0v2.7 M943.4,251.0v2.3 M944.5,251.0v1.9 M945.7,251.0v2.4 M946.8,251.0v2.1 M948.0,251.0v2.2 M949.4,251.0v2.1 M950.4,251.0v2.9 M951.6,251.0v2.8 M952.6,251.0v2.7 M953.8,251.0v2.9 M954.7,251.0v2.8 M956.3,251.0v2.9 M957.8,251.0v2.7 M959.4,251.0v2.9" stroke="#222" stroke-width="0.9" fill="none"/>
<rect x="948.8" y="251.0" width="4" height="3.6" fill="#111"/>
<path d="M930.3,118.0 L992.8,117.0 L969.8,238.0 L930.3,238.3 Z" fill="none" stroke="#111" stroke-width="1.3"/>
<path d="M979.3,189.5 L1017.8,189.5 L1017.3,238.5 L969.8,238.0 Z" fill="none" stroke="#333" stroke-width="1.1"/>
<text x="994.3" y="135.0" font-size="15.50" fill="#000">CD8<tspan font-size="9.3" dy="-5.6">-</tspan></text>
<text x="1020.8" y="217.5" font-size="15.50" fill="#000">CD8<tspan font-size="9.3" dy="-5.6">+</tspan></text>
<text x="886.5" y="145.3" font-size="13.40" fill="#000">200K</text>
<text x="886.5" y="196.3" font-size="13.40" fill="#000">100K</text>
<text x="910.3" y="247.8" font-size="13.40" fill="#000">0</text>
<text x="948.1" y="271.0" font-size="13.40" fill="#000">0</text>
<text x="993.1" y="271.0" font-size="13.40" fill="#000">10<tspan font-size="8.0" dy="-4.8">3</tspan></text>
<text x="1036.1" y="271.0" font-size="13.40" fill="#000">10<tspan font-size="8.0" dy="-4.8">4</tspan></text>
<text x="971.3" y="108.0" font-size="21.60" fill="#000">PBS</text>
<path d="M1148.0 237.5 1126.0 237.5 1116.5 232.5 1115.0 221.5 1115.0 208.0 1117.5 178.0 1124.5 141.5 1131.0 132.5 1133.0 120.5 1134.5 117.5 1133.5 115.5 1127.0 111.5 1195.5 111.0 1196.0 111.5 1195.0 112.5 1190.0 115.0 1177.0 117.0 1178.0 121.5 1177.5 135.0 1180.0 145.5 1180.0 185.0 1188.0 192.5 1184.5 222.5 1179.5 230.5 1175.5 233.5 1168.0 236.5 1148.0 237.5Z" fill="#f0f0f0" fill-rule="evenodd"/>
<clipPath id="c8"><path d="M1148.0 237.5 1126.0 237.5 1116.5 232.5 1115.0 221.5 1115.0 208.0 1117.5 178.0 1124.5 141.5 1131.0 132.5 1133.0 120.5 1134.5 117.5 1133.5 115.5 1127.0 111.5 1195.5 111.0 1196.0 111.5 1195.0 112.5 1190.0 115.0 1177.0 117.0 1178.0 121.5 1177.5 135.0 1180.0 145.5 1180.0 185.0 1188.0 192.5 1184.5 222.5 1179.5 230.5 1175.5 233.5 1168.0 236.5 1148.0 237.5Z" clip-rule="evenodd"/></clipPath>
<g clip-path="url(#c8)"><g filter="url(#bl)">
<path d="M1147.5 236.0 1127.0 236.1 1117.9 231.5 1116.4 220.5 1116.3 209.0 1118.9 178.5 1126.0 142.0 1132.1 133.0 1135.7 117.5 1135.3 116.0 1128.5 111.5 1194.6 111.5 1189.5 114.3 1176.5 116.5 1175.9 118.5 1176.8 122.5 1176.4 135.0 1178.8 146.5 1178.6 185.0 1179.5 187.0 1186.6 193.5 1184.1 222.5 1178.7 230.5 1172.5 233.7 1167.5 235.5 1147.5 236.0Z" fill="#dcdcdc" fill-rule="evenodd"/>
<path d="M1147.0 234.6 1127.5 234.6 1120.0 231.3 1117.8 220.0 1118.1 199.5 1120.2 179.0 1127.3 142.5 1133.4 133.5 1137.1 118.0 1136.5 115.5 1131.1 111.5 1191.4 111.5 1189.0 113.0 1176.2 115.5 1174.5 118.5 1175.4 122.5 1175.1 135.0 1177.4 146.5 1177.3 185.5 1178.5 188.0 1185.1 194.0 1183.0 222.0 1177.0 230.4 1169.5 233.5 1167.0 234.3 1147.0 234.6Z" fill="#c8c8c8" fill-rule="evenodd"/>
<path d="M1167.0 233.0 1127.5 233.2 1120.8 230.0 1119.2 220.0 1119.0 209.5 1121.6 179.5 1128.7 143.0 1134.7 134.0 1138.5 118.0 1137.6 115.0 1133.7 111.5 1187.4 111.5 1175.5 114.7 1173.6 116.5 1173.1 119.0 1174.0 123.0 1173.8 135.5 1176.0 147.0 1175.9 185.5 1177.5 189.0 1183.7 194.5 1182.7 218.0 1181.0 223.5 1176.5 229.3 1167.0 233.0Z" fill="#b4b4b4" fill-rule="evenodd"/>
<path d="M1166.5 232.0 1128.0 231.8 1122.2 229.0 1120.6 219.5 1120.2 210.0 1122.9 180.0 1130.1 143.5 1135.9 134.5 1139.8 119.0 1139.3 115.5 1136.3 111.5 1181.2 111.5 1174.0 114.5 1172.3 116.5 1171.8 119.5 1172.7 123.5 1172.5 135.5 1174.7 147.5 1174.5 185.5 1176.1 189.5 1182.2 195.0 1181.7 217.5 1180.7 222.0 1175.8 228.5 1166.5 232.0Z" fill="#a0a0a0" fill-rule="evenodd"/>
<path d="M1167.5 230.5 1140.6 230.5 1137.0 229.8 1128.0 225.9 1123.5 222.1 1122.0 219.5 1121.9 200.0 1124.2 180.0 1131.4 144.0 1137.1 135.0 1141.3 119.0 1140.9 116.0 1138.3 111.5 1175.9 111.5 1171.5 115.5 1170.4 119.0 1171.3 123.5 1171.2 135.5 1173.4 147.5 1173.1 186.0 1175.3 193.0 1180.5 197.4 1181.1 214.0 1180.1 221.0 1176.2 226.5 1174.0 228.4 1167.5 230.5Z" fill="#f0f0f0" fill-rule="evenodd"/>
<path d="M1167.5 230.0 1154.8 230.0 1148.0 226.7 1134.0 223.6 1126.9 218.5 1122.5 210.4 1122.5 200.5 1124.8 185.5 1131.6 165.0 1139.1 135.0 1144.4 125.5 1149.1 120.5 1148.1 118.0 1141.5 115.7 1139.2 111.5 1174.2 111.5 1167.0 120.0 1166.9 123.5 1169.8 130.0 1171.5 140.5 1171.1 171.0 1168.2 192.0 1170.4 197.0 1179.5 202.6 1180.6 214.0 1179.5 221.0 1176.8 225.0 1174.5 227.6 1167.5 230.0Z" fill="#dcdcdc" fill-rule="evenodd"/>
<path d="M1160.5 117.0 1151.0 116.2 1144.0 114.5 1141.6 113.0 1145.0 111.5 1173.0 111.5 1170.0 115.6 1160.5 117.0ZM1167.5 229.5 1159.0 229.5 1149.5 224.5 1139.0 222.8 1134.0 221.0 1127.2 215.0 1124.3 207.0 1124.3 202.5 1127.7 185.0 1134.4 166.0 1143.0 135.5 1149.5 126.8 1155.5 123.7 1159.5 124.3 1163.0 127.0 1167.7 138.0 1168.1 170.5 1165.3 190.0 1165.6 196.0 1167.5 198.8 1176.0 203.0 1179.5 206.0 1180.1 213.5 1179.0 221.0 1174.0 227.3 1167.5 229.5Z" fill="#c8c8c8" fill-rule="evenodd"/>
<path d="M1159.5 115.5 1151.0 114.7 1147.5 113.0 1152.3 111.5 1167.0 111.5 1171.6 112.5 1170.0 114.2 1159.5 115.5ZM1165.5 229.5 1159.5 228.0 1149.7 222.5 1139.5 221.1 1134.0 219.1 1128.3 213.5 1125.9 206.5 1129.7 185.5 1146.0 136.5 1149.0 132.4 1155.5 129.1 1158.0 129.5 1160.5 131.4 1163.6 135.5 1164.6 139.0 1165.8 170.5 1163.2 190.5 1163.2 197.5 1165.5 200.4 1176.5 205.3 1179.0 207.6 1179.4 209.5 1179.4 217.0 1177.2 223.0 1173.6 227.0 1165.5 229.5Z" fill="#b4b4b4" fill-rule="evenodd"/>
<path d="M1162.0 114.0 1156.5 114.0 1154.2 113.0 1159.5 112.3 1165.1 113.0 1162.0 114.0ZM1169.0 228.1 1161.0 227.1 1150.0 220.9 1140.5 219.9 1135.5 218.3 1130.3 214.0 1127.4 207.5 1127.4 202.5 1131.2 186.0 1143.5 150.4 1149.6 136.5 1154.0 133.6 1158.0 134.3 1160.7 137.0 1163.1 150.0 1163.9 170.5 1161.5 190.5 1161.3 199.0 1163.5 201.6 1174.5 205.6 1178.8 210.0 1179.0 217.0 1178.0 221.0 1173.5 226.6 1169.0 228.1Z" fill="#a0a0a0" fill-rule="evenodd"/>
<path d="M1168.5 227.0 1161.0 225.9 1150.8 219.5 1141.0 218.8 1136.0 217.2 1131.0 213.0 1128.6 207.0 1128.6 202.5 1132.7 186.0 1144.7 153.5 1149.5 143.8 1152.0 141.0 1154.5 139.9 1157.0 141.1 1159.0 144.3 1161.6 157.5 1162.2 170.5 1159.3 196.5 1159.7 200.5 1162.0 203.0 1174.0 206.7 1178.6 212.0 1177.5 221.1 1174.0 225.2 1168.5 227.0Z" fill="#f0f0f0" fill-rule="evenodd"/>
<path d="M1168.5 226.0 1161.0 224.7 1151.5 218.2 1141.5 217.8 1136.9 216.5 1132.4 213.0 1129.7 207.5 1129.7 202.5 1134.2 185.5 1147.0 153.9 1150.5 148.3 1153.5 146.4 1155.5 147.0 1157.5 150.0 1160.0 162.5 1160.5 170.5 1157.8 197.5 1158.3 202.0 1160.5 204.3 1169.0 205.8 1173.0 207.4 1176.1 210.0 1178.0 213.5 1178.1 217.0 1176.5 221.5 1173.0 224.6 1168.5 226.0Z" fill="#dcdcdc" fill-rule="evenodd"/>
<path d="M1168.5 225.0 1161.5 223.9 1152.0 216.7 1142.5 216.9 1137.5 215.7 1133.2 212.5 1130.7 207.5 1130.7 202.5 1135.4 186.0 1147.5 158.5 1150.0 154.7 1152.5 152.9 1154.5 153.4 1156.5 156.7 1158.9 169.5 1156.4 198.5 1156.9 203.5 1159.5 205.9 1167.5 206.5 1172.0 208.0 1175.2 210.5 1177.0 214.0 1177.1 217.5 1175.5 221.1 1172.5 223.7 1168.5 225.0Z" fill="#c8c8c8" fill-rule="evenodd"/>
<path d="M1168.5 224.1 1164.5 223.9 1161.0 222.5 1153.0 215.1 1143.0 215.9 1138.0 214.9 1134.0 212.0 1131.7 207.5 1131.7 202.5 1136.6 186.0 1147.5 163.9 1151.5 159.4 1153.0 159.5 1154.5 161.0 1157.0 169.5 1155.0 200.5 1155.9 206.0 1158.0 207.7 1166.0 207.3 1170.5 208.3 1174.0 210.7 1175.9 214.0 1176.0 217.5 1174.6 220.5 1172.0 222.8 1168.5 224.1Z" fill="#b4b4b4" fill-rule="evenodd"/>
<path d="M1169.0 223.0 1165.0 223.1 1161.0 221.3 1154.5 212.5 1145.5 214.8 1140.5 214.7 1135.8 212.5 1132.8 208.0 1132.5 203.0 1137.7 186.5 1145.0 172.3 1148.3 167.5 1151.0 165.7 1152.5 166.1 1154.4 168.5 1155.2 175.0 1155.0 190.5 1153.7 201.5 1154.3 208.0 1156.0 210.4 1166.0 208.3 1170.0 209.2 1173.0 211.1 1174.9 214.5 1174.8 218.0 1172.5 221.3 1169.0 223.0Z" fill="#a0a0a0" fill-rule="evenodd"/>
<path d="M1144.0 214.0 1139.5 213.6 1136.0 211.5 1133.7 208.0 1133.3 203.5 1138.8 187.0 1142.0 180.8 1147.0 173.4 1150.5 171.6 1152.8 174.5 1153.8 181.0 1152.4 209.0 1150.0 212.1 1144.0 214.0ZM1169.0 222.0 1164.5 222.0 1160.5 219.5 1158.1 215.0 1159.4 211.5 1162.5 209.9 1166.5 209.4 1170.0 210.2 1172.4 212.0 1173.9 215.0 1173.7 218.0 1171.9 220.5 1169.0 222.0Z" fill="#f0f0f0" fill-rule="evenodd"/>
<path d="M1144.5 213.0 1140.5 212.9 1136.8 211.0 1134.7 208.0 1134.2 204.0 1140.2 187.0 1145.5 178.9 1149.0 176.6 1151.1 178.5 1152.2 184.5 1151.0 207.5 1149.2 211.0 1144.5 213.0ZM1168.5 221.1 1164.5 220.9 1161.1 218.5 1159.8 215.0 1161.3 212.0 1167.0 210.5 1171.8 213.0 1172.9 215.5 1172.5 217.8 1171.0 219.8 1168.5 221.1Z" fill="#dcdcdc" fill-rule="evenodd"/>
<path d="M1144.5 212.1 1140.6 212.0 1137.5 210.4 1135.5 207.5 1135.1 204.0 1141.6 187.5 1145.5 182.7 1148.0 181.6 1149.9 184.0 1151.0 189.5 1149.8 207.0 1148.4 210.0 1144.5 212.1ZM1168.0 220.0 1164.5 219.6 1162.0 217.5 1161.5 214.5 1163.1 212.5 1167.5 211.7 1171.0 214.0 1171.3 217.5 1168.0 220.0Z" fill="#c8c8c8" fill-rule="evenodd"/>
<path d="M1144.5 211.0 1141.5 211.2 1138.5 210.0 1136.5 207.5 1136.0 204.5 1143.3 188.5 1146.5 186.6 1149.1 189.5 1148.7 206.5 1147.5 209.2 1144.5 211.0ZM1168.0 218.5 1166.0 218.6 1164.0 217.5 1163.3 215.5 1164.0 214.0 1166.5 213.1 1169.0 214.0 1169.9 216.5 1168.0 218.5Z" fill="#b4b4b4" fill-rule="evenodd"/>
<path d="M1144.0 210.0 1141.5 210.1 1139.0 209.0 1137.4 207.0 1137.1 204.5 1141.5 195.1 1143.5 192.7 1145.5 191.8 1147.4 196.0 1147.5 206.5 1146.5 208.5 1144.0 210.0Z" fill="#a0a0a0" fill-rule="evenodd"/>
<path d="M1144.0 208.6 1140.0 208.2 1138.3 205.0 1141.0 199.6 1144.0 197.3 1145.5 199.2 1146.1 205.5 1144.0 208.6Z" fill="#f0f0f0" fill-rule="evenodd"/>
</g>
<path d="M1167.5 230.5 1140.6 230.5 1137.0 229.8 1128.0 225.9 1123.5 222.1 1122.0 219.5 1121.9 200.0 1124.2 180.0 1131.4 144.0 1137.1 135.0 1141.3 119.0 1140.9 116.0 1138.3 111.5 1175.9 111.5 1171.5 115.5 1170.4 119.0 1171.3 123.5 1171.2 135.5 1173.4 147.5 1173.1 186.0 1175.3 193.0 1180.5 197.4 1181.1 214.0 1180.1 221.0 1176.2 226.5 1174.0 228.4 1167.5 230.5Z" fill="none" stroke="#ffffff" stroke-width="1.1"/>
<path d="M1168.5 227.0 1161.0 225.9 1150.8 219.5 1141.0 218.8 1136.0 217.2 1131.0 213.0 1128.6 207.0 1128.6 202.5 1132.7 186.0 1144.7 153.5 1149.5 143.8 1152.0 141.0 1154.5 139.9 1157.0 141.1 1159.0 144.3 1161.6 157.5 1162.2 170.5 1159.3 196.5 1159.7 200.5 1162.0 203.0 1174.0 206.7 1178.6 212.0 1177.5 221.1 1174.0 225.2 1168.5 227.0Z" fill="none" stroke="#ffffff" stroke-width="1.1"/>
<path d="M1144.0 214.0 1139.5 213.6 1136.0 211.5 1133.7 208.0 1133.3 203.5 1138.8 187.0 1142.0 180.8 1147.0 173.4 1150.5 171.6 1152.8 174.5 1153.8 181.0 1152.4 209.0 1150.0 212.1 1144.0 214.0ZM1169.0 222.0 1164.5 222.0 1160.5 219.5 1158.1 215.0 1159.4 211.5 1162.5 209.9 1166.5 209.4 1170.0 210.2 1172.4 212.0 1173.9 215.0 1173.7 218.0 1171.9 220.5 1169.0 222.0Z" fill="none" stroke="#ffffff" stroke-width="1.1"/>
<path d="M1144.0 208.6 1140.0 208.2 1138.3 205.0 1141.0 199.6 1144.0 197.3 1145.5 199.2 1146.1 205.5 1144.0 208.6Z" fill="none" stroke="#ffffff" stroke-width="1.1"/>
</g>
<path d="M1148.0 237.5 1126.0 237.5 1116.5 232.5 1115.0 221.5 1115.0 208.0 1117.5 178.0 1124.5 141.5 1131.0 132.5 1133.0 120.5 1134.5 117.5 1133.5 115.5 1127.0 111.5 1195.5 111.0 1196.0 111.5 1195.0 112.5 1190.0 115.0 1177.0 117.0 1178.0 121.5 1177.5 135.0 1180.0 145.5 1180.0 185.0 1188.0 192.5 1184.5 222.5 1179.5 230.5 1175.5 233.5 1168.0 236.5 1148.0 237.5Z" fill="none" stroke="#9a9a9a" stroke-width="1.6"/>
<path d="M1102.0,111.5 H1242.5 V251.0" fill="none" stroke="#8a8a8a" stroke-width="1.1"/>
<path d="M1102.0,111.5 V251.0 H1242.5" fill="none" stroke="#333" stroke-width="1.3"/>
<path d="M1102.0,243.0h-4 M1102.0,237.8h-2 M1102.0,232.7h-2 M1102.0,227.6h-2 M1102.0,222.4h-2 M1102.0,217.2h-3 M1102.0,212.1h-2 M1102.0,206.9h-2 M1102.0,201.8h-2 M1102.0,196.7h-2 M1102.0,191.5h-4 M1102.0,186.3h-2 M1102.0,181.2h-2 M1102.0,176.1h-2 M1102.0,170.9h-2 M1102.0,165.8h-3 M1102.0,160.6h-2 M1102.0,155.4h-2 M1102.0,150.3h-2 M1102.0,145.2h-2 M1102.0,140.0h-4 M1102.0,134.8h-2 M1102.0,129.7h-2 M1102.0,124.6h-2 M1102.0,119.4h-2 M1102.0,114.2h-3" stroke="#333" stroke-width="1.1" fill="none"/>
<path d="M1152.6,251.0v2 M1160.0,251.0v2 M1165.3,251.0v2 M1169.4,251.0v2 M1172.7,251.0v2 M1175.5,251.0v2 M1177.9,251.0v2 M1180.1,251.0v2 M1194.6,251.0v2 M1202.0,251.0v2 M1207.3,251.0v2 M1211.4,251.0v2 M1214.7,251.0v2 M1217.5,251.0v2 M1219.9,251.0v2 M1222.1,251.0v2 M1236.6,251.0v2 M1182.0,251.0v4 M1224.0,251.0v4 M1129.0,251.0v4" stroke="#333" stroke-width="1.1" fill="none"/>
<path d="M1120.0,251.0v2.4 M1121.3,251.0v2.0 M1122.7,251.0v2.3 M1124.0,251.0v2.5 M1124.9,251.0v2.1 M1126.1,251.0v2.8 M1127.6,251.0v2.2 M1128.5,251.0v2.2 M1129.9,251.0v2.5 M1131.6,251.0v2.3 M1132.9,251.0v2.8 M1134.1,251.0v2.3 M1135.5,251.0v2.5 M1136.8,251.0v2.5" stroke="#222" stroke-width="0.9" fill="none"/>
<rect x="1127.0" y="251.0" width="4" height="3.6" fill="#111"/>
<path d="M1108.5,118.0 L1172.0,117.0 L1148.2,238.0 L1108.5,238.3 Z" fill="none" stroke="#111" stroke-width="1.3"/>
<path d="M1157.5,189.5 L1196.0,189.5 L1195.5,238.5 L1148.2,238.0 Z" fill="none" stroke="#333" stroke-width="1.1"/>
<text x="1172.5" y="135.0" font-size="15.50" fill="#000">CD8<tspan font-size="9.3" dy="-5.6">-</tspan></text>
<text x="1199.0" y="217.5" font-size="15.50" fill="#000">CD8<tspan font-size="9.3" dy="-5.6">+</tspan></text>
<text x="1064.7" y="145.3" font-size="13.40" fill="#000">200K</text>
<text x="1064.7" y="196.3" font-size="13.40" fill="#000">100K</text>
<text x="1088.5" y="247.8" font-size="13.40" fill="#000">0</text>
<text x="1126.3" y="271.0" font-size="13.40" fill="#000">0</text>
<text x="1171.3" y="271.0" font-size="13.40" fill="#000">10<tspan font-size="8.0" dy="-4.8">3</tspan></text>
<text x="1214.3" y="271.0" font-size="13.40" fill="#000">10<tspan font-size="8.0" dy="-4.8">4</tspan></text>
<text x="1128.9" y="108.0" font-size="21.60" fill="#000">GM-CSF</text>
<path d="M1313.0 238.0 1305.5 238.0 1298.5 236.5 1290.5 227.5 1290.0 208.0 1293.5 173.0 1297.5 158.0 1304.5 142.0 1324.0 119.5 1324.0 118.5 1317.0 111.5 1317.5 111.0 1357.5 111.0 1358.0 111.5 1354.0 115.5 1347.5 118.5 1346.5 121.0 1353.0 150.5 1353.0 160.5 1350.5 188.0 1352.5 195.0 1357.5 197.5 1362.0 204.5 1360.5 217.5 1352.0 229.0 1343.0 233.5 1328.0 236.5 1313.0 238.0Z" fill="#e6e6fa" fill-rule="evenodd"/>
<clipPath id="c9"><path d="M1313.0 238.0 1305.5 238.0 1298.5 236.5 1290.5 227.5 1290.0 208.0 1293.5 173.0 1297.5 158.0 1304.5 142.0 1324.0 119.5 1324.0 118.5 1317.0 111.5 1317.5 111.0 1357.5 111.0 1358.0 111.5 1354.0 115.5 1347.5 118.5 1346.5 121.0 1353.0 150.5 1353.0 160.5 1350.5 188.0 1352.5 195.0 1357.5 197.5 1362.0 204.5 1360.5 217.5 1352.0 229.0 1343.0 233.5 1328.0 236.5 1313.0 238.0Z" clip-rule="evenodd"/></clipPath>
<g clip-path="url(#c9)"><g filter="url(#bl)">
<path d="M1313.0 237.7 1305.6 237.5 1299.0 235.4 1291.8 227.0 1291.3 209.0 1294.9 174.0 1299.0 158.5 1306.0 142.5 1324.8 120.0 1324.7 118.0 1317.5 111.4 1357.5 111.5 1354.0 115.1 1347.0 117.8 1345.5 119.5 1352.0 151.0 1350.1 188.0 1352.1 195.0 1357.8 199.0 1360.8 205.0 1359.2 217.0 1351.9 227.5 1342.5 232.3 1328.0 236.2 1313.0 237.7Z" fill="#bdbdf3" fill-rule="evenodd"/>
<path d="M1318.0 237.1 1306.5 236.5 1299.5 234.2 1293.1 226.5 1292.7 209.5 1296.4 174.5 1300.4 159.0 1307.4 143.0 1326.1 120.5 1326.0 117.5 1320.6 113.5 1319.3 111.5 1355.6 111.5 1353.5 114.1 1346.0 117.0 1344.2 120.0 1350.7 151.5 1348.7 182.0 1349.1 188.0 1351.5 195.6 1356.5 199.5 1359.5 205.5 1357.9 216.5 1352.0 225.5 1350.0 227.0 1342.0 231.0 1327.5 235.7 1318.0 237.1Z" fill="#9494ec" fill-rule="evenodd"/>
<path d="M1319.0 236.0 1309.5 235.9 1300.0 232.9 1294.4 226.0 1294.0 209.5 1297.8 174.5 1301.8 159.5 1308.6 144.0 1327.5 120.6 1327.1 117.0 1322.3 113.5 1321.1 111.5 1353.8 111.5 1352.0 113.5 1344.0 117.1 1342.8 120.0 1349.4 152.0 1347.5 181.5 1347.9 188.0 1350.5 196.1 1355.7 200.5 1358.2 206.0 1356.7 216.0 1349.5 225.7 1341.5 229.7 1327.0 234.8 1319.0 236.0Z" fill="#6c6ce4" fill-rule="evenodd"/>
<path d="M1321.0 235.0 1312.0 235.3 1307.0 234.4 1300.5 231.8 1295.8 226.0 1295.3 210.0 1299.2 175.0 1303.3 159.5 1309.9 144.5 1328.8 121.0 1328.6 117.0 1322.9 111.5 1351.9 111.5 1343.0 116.5 1341.4 120.0 1348.1 152.5 1346.3 181.5 1346.8 188.5 1349.8 197.0 1354.9 201.5 1356.9 206.0 1355.4 215.5 1349.0 224.5 1327.0 233.8 1321.0 235.0Z" fill="#4343dd" fill-rule="evenodd"/>
<path d="M1317.0 234.6 1309.5 233.9 1302.5 231.4 1297.0 225.5 1296.6 210.0 1300.0 182.1 1308.0 153.0 1311.0 145.5 1330.0 121.5 1330.0 117.0 1324.7 111.5 1349.3 111.5 1341.3 116.5 1340.0 120.0 1346.9 152.5 1345.2 181.5 1345.7 188.5 1348.8 197.5 1353.8 202.0 1355.6 206.0 1354.1 215.5 1348.0 223.6 1326.5 233.0 1317.0 234.6Z" fill="#e6e6fa" fill-rule="evenodd"/>
<path d="M1339.0 117.5 1331.0 117.4 1325.5 111.5 1347.9 111.5 1339.0 117.5ZM1317.5 234.1 1308.5 233.2 1301.1 230.0 1297.4 225.0 1297.0 215.2 1300.3 198.5 1319.7 139.5 1326.5 127.0 1330.5 122.3 1333.0 121.2 1336.5 121.1 1339.5 122.2 1340.0 123.5 1346.3 152.5 1344.6 181.5 1345.2 189.0 1348.5 198.0 1353.5 202.6 1355.0 206.0 1354.7 209.5 1353.5 215.3 1348.0 222.5 1326.5 232.5 1317.5 234.1Z" fill="#bdbdf3" fill-rule="evenodd"/>
<path d="M1340.5 115.8 1330.5 115.7 1326.4 111.5 1346.6 111.5 1340.5 115.8ZM1320.0 233.5 1311.0 233.4 1301.5 229.6 1299.1 224.0 1298.8 217.5 1302.9 199.0 1321.5 146.4 1327.9 135.5 1331.0 133.2 1334.5 132.5 1339.3 135.5 1342.6 143.0 1344.7 159.5 1344.5 188.5 1347.8 198.0 1353.1 203.0 1353.3 208.0 1352.2 212.5 1349.8 216.5 1340.0 222.5 1336.1 227.5 1326.5 232.1 1320.0 233.5Z" fill="#9494ec" fill-rule="evenodd"/>
<path d="M1341.5 114.6 1330.0 114.6 1327.6 112.0 1345.0 112.0 1341.5 114.6ZM1321.5 233.0 1311.0 233.0 1303.3 230.0 1300.8 224.5 1300.4 218.0 1304.7 199.5 1321.0 155.8 1327.5 143.6 1330.5 140.8 1333.5 140.0 1337.3 142.5 1340.0 149.0 1341.8 159.0 1344.1 189.0 1347.2 198.0 1351.3 202.5 1351.2 207.0 1348.5 213.8 1339.0 219.9 1334.4 227.5 1326.5 231.6 1321.5 233.0Z" fill="#6c6ce4" fill-rule="evenodd"/>
<path d="M1339.0 113.5 1332.9 113.0 1340.2 113.0 1339.0 113.5ZM1316.5 233.1 1311.0 232.5 1305.3 230.5 1302.0 224.0 1301.8 217.0 1306.3 199.5 1319.5 165.4 1327.5 150.7 1330.5 147.9 1333.0 147.6 1336.0 150.2 1338.8 158.0 1341.9 183.5 1345.7 196.0 1349.0 201.5 1349.0 207.0 1346.5 212.2 1337.5 218.4 1332.6 228.0 1326.0 231.4 1316.5 233.1Z" fill="#4343dd" fill-rule="evenodd"/>
<path d="M1318.0 232.5 1311.0 232.1 1306.6 230.5 1303.2 224.5 1302.7 217.5 1307.5 200.0 1320.5 168.2 1327.5 156.6 1332.0 155.1 1335.6 158.5 1338.1 168.5 1340.9 188.5 1346.4 200.5 1346.8 206.0 1344.8 210.0 1337.0 216.0 1330.9 228.5 1326.0 231.0 1318.0 232.5Z" fill="#e6e6fa" fill-rule="evenodd"/>
<path d="M1320.5 232.0 1316.0 232.3 1308.5 231.0 1304.3 225.0 1303.6 218.0 1308.7 200.0 1321.0 171.6 1326.0 163.8 1330.5 161.5 1333.5 163.4 1335.6 168.0 1339.1 189.0 1343.4 201.0 1343.7 204.5 1342.4 207.5 1336.0 214.5 1329.8 228.5 1320.5 232.0Z" fill="#bdbdf3" fill-rule="evenodd"/>
<path d="M1321.0 231.6 1315.5 231.9 1309.2 230.5 1305.2 225.0 1304.5 218.0 1309.9 200.0 1321.5 174.8 1326.0 168.1 1330.0 166.2 1332.8 168.5 1334.8 173.5 1339.6 203.0 1329.5 227.5 1326.0 230.2 1321.0 231.6Z" fill="#9494ec" fill-rule="evenodd"/>
<path d="M1317.0 231.5 1311.0 230.8 1308.0 228.2 1305.4 223.0 1305.3 217.5 1310.8 200.5 1316.5 188.2 1324.5 173.9 1327.0 171.5 1329.5 171.0 1332.5 174.3 1335.2 184.0 1336.9 199.0 1336.2 206.5 1330.2 224.5 1328.2 228.0 1325.0 230.1 1317.0 231.5Z" fill="#6c6ce4" fill-rule="evenodd"/>
<path d="M1320.0 231.0 1313.5 230.9 1309.8 229.0 1306.5 224.0 1306.0 218.0 1311.6 201.0 1316.7 190.5 1324.5 177.9 1328.5 175.6 1331.0 177.7 1333.5 184.0 1335.0 197.5 1334.6 206.0 1328.6 226.0 1325.6 229.5 1320.0 231.0Z" fill="#4343dd" fill-rule="evenodd"/>
<path d="M1321.0 230.5 1314.0 230.6 1310.5 228.7 1307.2 224.0 1306.6 218.5 1312.6 201.0 1317.5 191.5 1323.9 182.0 1328.0 180.3 1330.5 182.3 1331.6 184.5 1333.3 196.0 1333.2 206.0 1328.4 225.0 1325.0 229.1 1321.0 230.5Z" fill="#e6e6fa" fill-rule="evenodd"/>
<path d="M1316.5 230.5 1312.5 229.3 1309.0 226.0 1307.4 222.0 1307.5 217.5 1313.5 201.5 1318.0 193.1 1323.0 186.5 1327.5 184.4 1330.7 190.0 1332.0 199.5 1331.9 206.0 1328.6 222.5 1327.0 226.0 1324.0 229.0 1316.5 230.5Z" fill="#bdbdf3" fill-rule="evenodd"/>
<path d="M1319.5 230.0 1315.0 229.7 1311.0 227.4 1308.5 223.5 1307.9 218.5 1312.0 207.2 1317.5 196.3 1322.0 190.2 1326.0 188.2 1328.5 190.1 1330.2 195.5 1330.8 205.0 1329.9 212.0 1326.9 225.0 1323.6 228.5 1319.5 230.0Z" fill="#9494ec" fill-rule="evenodd"/>
<path d="M1318.5 229.5 1314.5 228.9 1311.0 226.5 1309.0 223.0 1308.6 218.5 1316.0 201.0 1321.5 193.3 1325.5 191.6 1327.0 192.6 1328.4 195.5 1329.7 204.5 1327.7 220.0 1325.0 226.5 1322.0 228.6 1318.5 229.5Z" fill="#6c6ce4" fill-rule="evenodd"/>
<path d="M1320.5 228.5 1316.5 228.8 1312.5 227.0 1309.8 223.5 1309.2 219.0 1316.9 201.5 1321.5 196.0 1324.5 194.9 1327.0 197.5 1328.4 204.0 1327.8 214.5 1326.0 224.0 1323.5 227.0 1320.5 228.5Z" fill="#4343dd" fill-rule="evenodd"/>
<path d="M1320.0 228.0 1316.0 228.0 1312.5 226.1 1310.3 223.0 1309.8 219.0 1313.0 210.9 1318.0 202.1 1321.5 198.8 1323.5 198.2 1325.5 199.7 1327.1 204.0 1326.7 217.0 1325.0 224.4 1320.0 228.0Z" fill="#e6e6fa" fill-rule="evenodd"/>
<path d="M1320.5 226.5 1317.0 226.9 1314.0 225.7 1311.7 223.0 1311.0 219.5 1316.0 209.1 1318.5 206.2 1322.0 204.0 1324.7 208.5 1325.2 217.5 1324.3 223.0 1320.5 226.5Z" fill="#bdbdf3" fill-rule="evenodd"/>
<path d="M1319.0 225.5 1316.5 225.4 1314.1 224.0 1312.4 219.5 1316.5 212.1 1320.5 209.6 1322.0 210.5 1323.0 212.7 1323.4 221.5 1322.0 224.0 1319.0 225.5Z" fill="#9494ec" fill-rule="evenodd"/>
<path d="M1318.0 224.0 1315.0 222.6 1314.0 219.5 1317.0 215.4 1319.5 214.5 1321.2 216.5 1321.9 221.0 1320.5 223.1 1318.0 224.0Z" fill="#6c6ce4" fill-rule="evenodd"/>
<path d="M1318.5 221.2 1317.0 220.9 1317.0 219.5 1319.0 219.9 1318.5 221.2Z" fill="#4343dd" fill-rule="evenodd"/>
</g>
<path d="M1317.0 234.6 1309.5 233.9 1302.5 231.4 1297.0 225.5 1296.6 210.0 1300.0 182.1 1308.0 153.0 1311.0 145.5 1330.0 121.5 1330.0 117.0 1324.7 111.5 1349.3 111.5 1341.3 116.5 1340.0 120.0 1346.9 152.5 1345.2 181.5 1345.7 188.5 1348.8 197.5 1353.8 202.0 1355.6 206.0 1354.1 215.5 1348.0 223.6 1326.5 233.0 1317.0 234.6Z" fill="none" stroke="#ffffff" stroke-width="1.1"/>
<path d="M1318.0 232.5 1311.0 232.1 1306.6 230.5 1303.2 224.5 1302.7 217.5 1307.5 200.0 1320.5 168.2 1327.5 156.6 1332.0 155.1 1335.6 158.5 1338.1 168.5 1340.9 188.5 1346.4 200.5 1346.8 206.0 1344.8 210.0 1337.0 216.0 1330.9 228.5 1326.0 231.0 1318.0 232.5Z" fill="none" stroke="#ffffff" stroke-width="1.1"/>
<path d="M1321.0 230.5 1314.0 230.6 1310.5 228.7 1307.2 224.0 1306.6 218.5 1312.6 201.0 1317.5 191.5 1323.9 182.0 1328.0 180.3 1330.5 182.3 1331.6 184.5 1333.3 196.0 1333.2 206.0 1328.4 225.0 1325.0 229.1 1321.0 230.5Z" fill="none" stroke="#ffffff" stroke-width="1.1"/>
<path d="M1320.0 228.0 1316.0 228.0 1312.5 226.1 1310.3 223.0 1309.8 219.0 1313.0 210.9 1318.0 202.1 1321.5 198.8 1323.5 198.2 1325.5 199.7 1327.1 204.0 1326.7 217.0 1325.0 224.4 1320.0 228.0Z" fill="none" stroke="#ffffff" stroke-width="1.1"/>
</g>
<path d="M1313.0 238.0 1305.5 238.0 1298.5 236.5 1290.5 227.5 1290.0 208.0 1293.5 173.0 1297.5 158.0 1304.5 142.0 1324.0 119.5 1324.0 118.5 1317.0 111.5 1317.5 111.0 1357.5 111.0 1358.0 111.5 1354.0 115.5 1347.5 118.5 1346.5 121.0 1353.0 150.5 1353.0 160.5 1350.5 188.0 1352.5 195.0 1357.5 197.5 1362.0 204.5 1360.5 217.5 1352.0 229.0 1343.0 233.5 1328.0 236.5 1313.0 238.0Z" fill="none" stroke="#0010d8" stroke-width="3.0"/>
<path d="M1282.0,111.5 H1422.5 V251.0" fill="none" stroke="#8a8a8a" stroke-width="1.1"/>
<path d="M1282.0,111.5 V251.0 H1422.5" fill="none" stroke="#333" stroke-width="1.3"/>
<path d="M1282.0,243.0h-4 M1282.0,237.8h-2 M1282.0,232.7h-2 M1282.0,227.6h-2 M1282.0,222.4h-2 M1282.0,217.2h-3 M1282.0,212.1h-2 M1282.0,206.9h-2 M1282.0,201.8h-2 M1282.0,196.7h-2 M1282.0,191.5h-4 M1282.0,186.3h-2 M1282.0,181.2h-2 M1282.0,176.1h-2 M1282.0,170.9h-2 M1282.0,165.8h-3 M1282.0,160.6h-2 M1282.0,155.4h-2 M1282.0,150.3h-2 M1282.0,145.2h-2 M1282.0,140.0h-4 M1282.0,134.8h-2 M1282.0,129.7h-2 M1282.0,124.6h-2 M1282.0,119.4h-2 M1282.0,114.2h-3" stroke="#333" stroke-width="1.1" fill="none"/>
<path d="M1332.6,251.0v2 M1340.0,251.0v2 M1345.3,251.0v2 M1349.4,251.0v2 M1352.7,251.0v2 M1355.5,251.0v2 M1357.9,251.0v2 M1360.1,251.0v2 M1374.6,251.0v2 M1382.0,251.0v2 M1387.3,251.0v2 M1391.4,251.0v2 M1394.7,251.0v2 M1397.5,251.0v2 M1399.9,251.0v2 M1402.1,251.0v2 M1416.6,251.0v2 M1362.0,251.0v4 M1404.0,251.0v4 M1309.0,251.0v4" stroke="#333" stroke-width="1.1" fill="none"/>
<path d="M1300.0,251.0v2.3 M1301.2,251.0v2.2 M1302.1,251.0v2.0 M1303.1,251.0v2.3 M1304.5,251.0v2.7 M1305.8,251.0v2.1 M1306.7,251.0v2.4 M1307.7,251.0v2.9 M1309.0,251.0v2.6 M1310.2,251.0v2.4 M1311.7,251.0v2.8 M1313.1,251.0v2.8 M1314.7,251.0v1.9 M1315.8,251.0v2.0 M1317.3,251.0v2.5" stroke="#222" stroke-width="0.9" fill="none"/>
<rect x="1307.0" y="251.0" width="4" height="3.6" fill="#111"/>
<path d="M1288.5,118.0 L1351.5,117.0 L1326.0,238.0 L1288.5,238.3 Z" fill="none" stroke="#111" stroke-width="1.3"/>
<path d="M1337.0,189.5 L1376.0,189.5 L1375.5,238.5 L1326.0,238.0 Z" fill="none" stroke="#333" stroke-width="1.1"/>
<text x="1352.5" y="135.0" font-size="15.50" fill="#000">CD8<tspan font-size="9.3" dy="-5.6">-</tspan></text>
<text x="1379.0" y="217.5" font-size="15.50" fill="#000">CD8<tspan font-size="9.3" dy="-5.6">+</tspan></text>
<text x="1244.7" y="145.3" font-size="13.40" fill="#000">200K</text>
<text x="1244.7" y="196.3" font-size="13.40" fill="#000">100K</text>
<text x="1268.5" y="247.8" font-size="13.40" fill="#000">0</text>
<text x="1306.3" y="271.0" font-size="13.40" fill="#000">0</text>
<text x="1351.3" y="271.0" font-size="13.40" fill="#000">10<tspan font-size="8.0" dy="-4.8">3</tspan></text>
<text x="1394.3" y="271.0" font-size="13.40" fill="#000">10<tspan font-size="8.0" dy="-4.8">4</tspan></text>
<text x="1286.3" y="108.0" font-size="22.40" fill="#000">3T3/GM-CSF</text>
<path d="M957.5 425.3 949.5 425.3 940.5 422.3 937.0 412.8 937.5 391.3 945.5 346.3 950.5 329.3 957.5 321.3 961.5 307.8 961.0 303.3 956.0 298.8 998.5 298.3 999.0 298.8 998.0 299.8 990.5 305.3 993.0 331.3 992.5 364.3 994.0 374.3 1000.0 377.8 1004.0 389.8 1002.5 405.8 997.5 414.3 994.5 417.3 985.0 422.3 971.0 424.8 957.5 425.3Z" fill="#f4f4ff" fill-rule="evenodd"/>
<clipPath id="c10"><path d="M957.5 425.3 949.5 425.3 940.5 422.3 937.0 412.8 937.5 391.3 945.5 346.3 950.5 329.3 957.5 321.3 961.5 307.8 961.0 303.3 956.0 298.8 998.5 298.3 999.0 298.8 998.0 299.8 990.5 305.3 993.0 331.3 992.5 364.3 994.0 374.3 1000.0 377.8 1004.0 389.8 1002.5 405.8 997.5 414.3 994.5 417.3 985.0 422.3 971.0 424.8 957.5 425.3Z" clip-rule="evenodd"/></clipPath>
<g clip-path="url(#c10)"><g filter="url(#bl)">
<path d="M957.5 424.4 950.0 424.4 941.0 421.1 937.9 412.3 937.6 404.8 939.3 385.3 947.3 344.8 951.8 329.8 958.8 320.8 962.6 307.8 962.3 303.8 958.5 301.3 956.5 298.8 998.2 298.8 990.2 303.8 989.3 305.3 989.3 308.8 991.9 331.8 991.4 364.3 993.0 374.8 999.2 379.3 1002.8 390.3 1001.8 405.3 997.0 414.3 994.5 416.9 985.0 421.8 957.5 424.4Z" fill="#e7e7fe" fill-rule="evenodd"/>
<path d="M956.5 423.4 950.5 423.2 942.0 419.9 939.1 411.8 938.8 402.8 941.1 382.8 948.6 345.3 953.1 330.3 960.0 321.3 963.9 308.3 963.7 303.8 958.1 298.8 995.9 298.8 989.5 302.9 987.9 305.3 990.6 332.3 990.0 364.3 991.7 375.3 997.8 379.8 1001.6 390.8 1000.6 404.8 995.8 413.8 994.0 415.7 987.5 419.3 982.0 421.0 956.5 423.4Z" fill="#dadafc" fill-rule="evenodd"/>
<path d="M956.0 422.3 951.0 422.0 943.0 419.0 940.2 411.3 939.9 402.8 942.2 383.3 949.9 345.8 954.3 331.3 961.2 321.8 965.3 308.3 964.9 303.3 960.0 298.8 993.5 298.8 988.0 302.8 986.5 305.3 989.3 332.8 988.8 364.8 990.5 375.8 992.6 378.3 996.8 380.8 1000.3 391.3 999.3 404.8 993.8 414.3 986.0 418.6 969.5 421.3 956.0 422.3Z" fill="#cecefb" fill-rule="evenodd"/>
<path d="M962.0 420.8 951.0 420.9 944.0 418.1 941.3 411.3 940.9 403.8 943.4 383.3 951.3 345.8 955.5 331.8 962.4 322.3 966.6 308.8 966.5 303.8 962.2 298.8 991.2 298.8 986.0 303.3 985.1 305.3 988.0 333.3 987.5 364.8 989.3 376.3 991.7 379.3 995.8 381.8 999.0 391.3 998.3 404.3 993.7 412.8 987.0 416.9 983.5 418.2 962.0 420.8Z" fill="#c1c1f9" fill-rule="evenodd"/>
<path d="M962.0 419.8 951.5 419.9 945.0 417.4 942.3 410.8 941.9 403.3 942.8 393.3 951.9 348.3 956.5 332.8 963.6 322.8 967.9 309.3 967.9 303.8 964.4 298.8 989.0 298.8 984.5 303.3 983.7 305.8 986.7 333.3 986.3 364.8 988.1 376.8 990.9 380.3 994.7 382.8 997.9 391.8 997.2 403.8 993.0 411.9 986.5 415.8 983.5 417.0 962.0 419.8Z" fill="#f4f4ff" fill-rule="evenodd"/>
<path d="M979.0 303.8 968.5 303.5 965.4 298.8 988.0 298.8 983.5 303.4 979.0 303.8ZM962.5 419.3 951.5 419.4 945.2 416.8 942.5 407.8 943.3 393.3 952.5 348.8 958.5 330.8 963.5 324.3 968.5 312.4 972.0 310.0 976.0 309.5 979.5 310.7 982.1 313.3 985.5 324.5 986.2 344.3 985.7 364.8 986.5 373.3 987.7 377.8 995.0 385.7 996.7 389.8 997.3 392.3 996.7 403.8 992.4 411.8 986.0 415.4 962.5 419.3Z" fill="#e7e7fe" fill-rule="evenodd"/>
<path d="M980.0 302.3 968.5 301.9 966.3 298.8 986.8 298.8 984.5 301.8 980.0 302.3ZM955.5 419.3 951.5 418.9 945.5 416.3 943.3 410.8 942.8 403.3 945.5 383.8 948.0 372.1 962.4 331.8 968.5 322.6 971.5 320.6 975.0 320.3 977.9 321.8 980.0 324.5 983.0 334.3 984.1 344.8 984.0 378.3 985.7 381.8 992.7 387.8 996.2 392.8 996.1 403.8 992.0 411.4 985.5 415.0 981.0 416.1 974.5 416.0 968.5 418.0 955.5 419.3Z" fill="#dadafc" fill-rule="evenodd"/>
<path d="M981.0 300.8 970.3 300.3 975.0 299.1 982.8 299.8 981.0 300.8ZM956.0 418.8 948.8 417.3 945.1 413.8 943.8 410.8 943.2 403.3 946.0 383.9 961.8 340.3 968.0 329.9 971.0 327.5 974.0 327.1 976.5 328.6 978.5 331.8 981.2 343.3 981.8 380.8 983.7 384.3 990.5 389.1 993.5 392.6 995.7 398.3 995.6 403.3 991.5 411.2 985.5 414.4 982.4 415.3 975.5 412.9 966.8 417.8 956.0 418.8Z" fill="#cecefb" fill-rule="evenodd"/>
<path d="M956.5 418.3 953.6 418.3 950.0 416.6 944.7 410.8 943.6 404.3 944.5 395.8 947.6 383.3 960.5 349.3 964.3 341.3 967.5 336.8 970.5 334.2 973.0 333.8 976.0 336.6 978.6 343.8 979.7 356.8 979.3 377.3 980.0 383.3 982.0 386.8 989.0 390.8 992.0 394.0 994.0 399.3 994.0 404.8 991.0 410.8 986.5 413.2 983.5 413.1 975.5 409.9 964.5 417.6 956.5 418.3Z" fill="#c1c1f9" fill-rule="evenodd"/>
<path d="M959.5 417.8 953.0 417.0 947.5 413.1 944.5 407.3 944.5 400.7 949.0 383.3 960.9 353.3 967.5 342.0 969.5 340.6 972.0 340.5 975.3 343.3 977.3 352.8 978.6 386.3 980.8 389.8 987.0 392.2 990.1 394.8 992.1 398.8 992.3 403.8 990.8 407.8 988.0 410.4 984.0 410.7 977.5 406.7 975.5 406.5 967.0 414.9 959.5 417.8Z" fill="#f4f4ff" fill-rule="evenodd"/>
<path d="M960.0 416.8 954.0 416.3 949.0 413.3 945.8 408.3 945.1 402.3 950.1 383.8 961.0 357.5 966.0 349.1 970.5 346.6 973.7 349.3 975.7 356.3 976.7 367.8 976.3 383.8 977.5 390.6 979.5 393.8 985.0 394.2 988.0 395.8 990.1 399.3 990.3 403.3 988.5 407.1 985.0 408.3 982.0 406.8 977.5 401.9 976.0 402.0 968.0 412.8 964.0 415.6 960.0 416.8Z" fill="#e7e7fe" fill-rule="evenodd"/>
<path d="M960.5 415.9 954.5 415.6 949.7 412.8 946.5 407.8 946.0 402.3 951.1 384.3 959.7 364.3 965.5 354.0 968.0 351.9 970.0 351.6 972.0 353.1 973.3 355.8 975.2 367.3 974.9 395.3 968.9 410.3 965.0 414.0 960.5 415.9ZM986.0 404.4 984.0 403.9 982.8 402.3 982.7 399.8 984.0 398.5 986.0 398.6 987.3 400.3 987.4 402.8 986.0 404.4Z" fill="#dadafc" fill-rule="evenodd"/>
<path d="M958.5 415.3 953.5 414.4 949.4 411.3 947.0 406.8 946.9 401.8 952.2 384.3 958.0 371.1 964.5 359.5 967.0 357.0 969.0 356.5 971.7 359.3 973.7 367.3 972.9 395.8 967.8 410.3 963.5 414.0 958.5 415.3Z" fill="#cecefb" fill-rule="evenodd"/>
<path d="M960.0 414.4 955.0 414.1 950.5 411.4 948.0 407.3 947.6 402.3 953.1 384.8 958.0 374.1 963.3 364.8 968.0 361.4 970.0 362.9 971.9 367.3 971.7 394.8 967.8 408.8 964.5 412.4 960.0 414.4Z" fill="#c1c1f9" fill-rule="evenodd"/>
<path d="M958.5 413.8 954.0 413.0 950.5 410.3 948.6 406.8 948.3 402.3 954.2 384.8 958.0 376.9 963.0 369.0 965.5 366.1 967.5 365.7 969.3 367.3 970.8 375.8 971.0 388.8 969.9 397.8 966.5 409.3 963.0 412.5 958.5 413.8Z" fill="#f4f4ff" fill-rule="evenodd"/>
<path d="M960.0 412.9 955.5 412.8 951.9 410.8 949.5 407.3 949.0 402.8 953.0 390.6 958.0 379.7 962.5 372.9 966.0 370.8 968.0 372.4 969.3 377.8 969.8 388.3 969.1 396.3 966.3 408.3 963.6 411.3 960.0 412.9Z" fill="#e7e7fe" fill-rule="evenodd"/>
<path d="M959.0 412.4 955.0 411.9 952.0 409.9 950.1 406.8 949.7 402.8 956.5 385.0 961.5 377.2 965.0 375.1 967.0 376.9 968.2 382.3 968.6 388.3 967.6 399.8 965.1 408.8 962.5 411.2 959.0 412.4Z" fill="#dadafc" fill-rule="evenodd"/>
<path d="M960.5 411.3 956.5 411.6 953.0 409.9 950.8 406.8 950.3 403.3 957.5 385.8 961.5 380.5 964.0 379.3 966.0 381.4 967.2 387.3 966.9 397.8 965.1 407.3 963.2 409.8 960.5 411.3Z" fill="#cecefb" fill-rule="evenodd"/>
<path d="M959.5 410.8 956.5 410.8 953.5 409.3 951.5 406.5 951.1 403.3 957.0 389.5 959.5 385.6 963.0 383.6 964.5 384.8 965.7 387.8 965.5 401.8 964.0 407.8 959.5 410.8Z" fill="#c1c1f9" fill-rule="evenodd"/>
<path d="M960.0 409.9 957.0 410.2 954.0 408.8 952.2 406.3 951.8 403.3 957.0 391.9 962.0 387.4 964.5 391.9 964.7 401.3 963.7 406.8 960.0 409.9Z" fill="#f4f4ff" fill-rule="evenodd"/>
<path d="M959.5 408.4 955.3 407.8 953.4 403.8 956.5 397.4 960.0 394.5 962.1 396.8 962.6 403.8 962.0 406.5 959.5 408.4Z" fill="#e7e7fe" fill-rule="evenodd"/>
<path d="M958.5 406.4 956.3 405.8 955.6 403.8 958.5 401.2 960.4 404.3 958.5 406.4Z" fill="#dadafc" fill-rule="evenodd"/>
</g>
<path d="M962.0 419.8 951.5 419.9 945.0 417.4 942.3 410.8 941.9 403.3 942.8 393.3 951.9 348.3 956.5 332.8 963.6 322.8 967.9 309.3 967.9 303.8 964.4 298.8 989.0 298.8 984.5 303.3 983.7 305.8 986.7 333.3 986.3 364.8 988.1 376.8 990.9 380.3 994.7 382.8 997.9 391.8 997.2 403.8 993.0 411.9 986.5 415.8 983.5 417.0 962.0 419.8Z" fill="none" stroke="#ffffff" stroke-width="1.1"/>
<path d="M959.5 417.8 953.0 417.0 947.5 413.1 944.5 407.3 944.5 400.7 949.0 383.3 960.9 353.3 967.5 342.0 969.5 340.6 972.0 340.5 975.3 343.3 977.3 352.8 978.6 386.3 980.8 389.8 987.0 392.2 990.1 394.8 992.1 398.8 992.3 403.8 990.8 407.8 988.0 410.4 984.0 410.7 977.5 406.7 975.5 406.5 967.0 414.9 959.5 417.8Z" fill="none" stroke="#ffffff" stroke-width="1.1"/>
<path d="M958.5 413.8 954.0 413.0 950.5 410.3 948.6 406.8 948.3 402.3 954.2 384.8 958.0 376.9 963.0 369.0 965.5 366.1 967.5 365.7 969.3 367.3 970.8 375.8 971.0 388.8 969.9 397.8 966.5 409.3 963.0 412.5 958.5 413.8Z" fill="none" stroke="#ffffff" stroke-width="1.1"/>
<path d="M960.0 409.9 957.0 410.2 954.0 408.8 952.2 406.3 951.8 403.3 957.0 391.9 962.0 387.4 964.5 391.9 964.7 401.3 963.7 406.8 960.0 409.9Z" fill="none" stroke="#ffffff" stroke-width="1.1"/>
</g>
<path d="M957.5 425.3 949.5 425.3 940.5 422.3 937.0 412.8 937.5 391.3 945.5 346.3 950.5 329.3 957.5 321.3 961.5 307.8 961.0 303.3 956.0 298.8 998.5 298.3 999.0 298.8 998.0 299.8 990.5 305.3 993.0 331.3 992.5 364.3 994.0 374.3 1000.0 377.8 1004.0 389.8 1002.5 405.8 997.5 414.3 994.5 417.3 985.0 422.3 971.0 424.8 957.5 425.3Z" fill="none" stroke="#a6a6ff" stroke-width="1.8"/>
<path d="M924.5,298.8 H1065.0 V438.3" fill="none" stroke="#8a8a8a" stroke-width="1.1"/>
<path d="M924.5,298.8 V438.3 H1065.0" fill="none" stroke="#333" stroke-width="1.3"/>
<path d="M924.5,430.3h-4 M924.5,425.2h-2 M924.5,420.0h-2 M924.5,414.9h-2 M924.5,409.7h-2 M924.5,404.6h-3 M924.5,399.4h-2 M924.5,394.2h-2 M924.5,389.1h-2 M924.5,383.9h-2 M924.5,378.8h-4 M924.5,373.6h-2 M924.5,368.5h-2 M924.5,363.4h-2 M924.5,358.2h-2 M924.5,353.1h-3 M924.5,347.9h-2 M924.5,342.8h-2 M924.5,337.6h-2 M924.5,332.5h-2 M924.5,327.3h-4 M924.5,322.1h-2 M924.5,317.0h-2 M924.5,311.9h-2 M924.5,306.7h-2 M924.5,301.6h-3" stroke="#333" stroke-width="1.1" fill="none"/>
<path d="M975.1,438.3v2 M982.5,438.3v2 M987.8,438.3v2 M991.9,438.3v2 M995.2,438.3v2 M998.0,438.3v2 M1000.4,438.3v2 M1002.6,438.3v2 M1017.1,438.3v2 M1024.5,438.3v2 M1029.8,438.3v2 M1033.9,438.3v2 M1037.2,438.3v2 M1040.0,438.3v2 M1042.4,438.3v2 M1044.6,438.3v2 M1059.1,438.3v2 M1004.5,438.3v4 M1046.5,438.3v4 M951.5,438.3v4" stroke="#333" stroke-width="1.1" fill="none"/>
<path d="M942.5,438.3v2.9 M943.9,438.3v2.4 M945.2,438.3v2.8 M946.7,438.3v2.8 M948.3,438.3v2.9 M949.8,438.3v2.0 M950.7,438.3v2.7 M952.4,438.3v2.7 M953.5,438.3v1.9 M954.9,438.3v2.9 M956.4,438.3v2.8 M957.4,438.3v2.6 M958.9,438.3v2.6 M959.8,438.3v2.2" stroke="#222" stroke-width="0.9" fill="none"/>
<rect x="949.5" y="438.3" width="4" height="3.6" fill="#111"/>
<path d="M931.0,305.3 L995.0,304.3 L970.0,425.3 L931.0,425.6 Z" fill="none" stroke="#111" stroke-width="1.3"/>
<path d="M980.0,376.8 L1018.5,376.8 L1018.0,425.8 L970.0,425.3 Z" fill="none" stroke="#333" stroke-width="1.1"/>
<text x="995.0" y="322.3" font-size="15.50" fill="#000">CD8<tspan font-size="9.3" dy="-5.6">-</tspan></text>
<text x="1021.5" y="404.8" font-size="15.50" fill="#000">CD8<tspan font-size="9.3" dy="-5.6">+</tspan></text>
<text x="887.2" y="332.6" font-size="13.40" fill="#000">200K</text>
<text x="887.2" y="383.6" font-size="13.40" fill="#000">100K</text>
<text x="911.0" y="435.1" font-size="13.40" fill="#000">0</text>
<text x="948.8" y="458.3" font-size="13.40" fill="#000">0</text>
<text x="993.8" y="458.3" font-size="13.40" fill="#000">10<tspan font-size="8.0" dy="-4.8">3</tspan></text>
<text x="1036.8" y="458.3" font-size="13.40" fill="#000">10<tspan font-size="8.0" dy="-4.8">4</tspan></text>
<text x="976.4" y="294.5" font-size="21.60" fill="#000">RT</text>
<path d="M1131.3 426.3 1118.8 424.3 1111.3 416.8 1110.3 414.3 1108.8 398.8 1110.8 385.3 1115.8 366.8 1121.3 337.3 1127.8 324.3 1131.8 313.8 1139.8 305.3 1139.3 303.8 1135.8 302.3 1132.3 298.8 1182.3 298.3 1182.8 298.8 1181.8 299.8 1168.8 306.3 1173.3 325.3 1173.3 345.3 1174.3 356.3 1181.8 376.8 1184.3 389.8 1181.3 405.8 1173.3 415.8 1162.8 421.3 1148.8 424.3 1131.3 426.3Z" fill="#fde8e8" fill-rule="evenodd"/>
<clipPath id="c11"><path d="M1131.3 426.3 1118.8 424.3 1111.3 416.8 1110.3 414.3 1108.8 398.8 1110.8 385.3 1115.8 366.8 1121.3 337.3 1127.8 324.3 1131.8 313.8 1139.8 305.3 1139.3 303.8 1135.8 302.3 1132.3 298.8 1182.3 298.3 1182.8 298.8 1181.8 299.8 1168.8 306.3 1173.3 325.3 1173.3 345.3 1174.3 356.3 1181.8 376.8 1184.3 389.8 1181.3 405.8 1173.3 415.8 1162.8 421.3 1148.8 424.3 1131.3 426.3Z" clip-rule="evenodd"/></clipPath>
<g clip-path="url(#c11)"><g filter="url(#bl)">
<path d="M1131.3 425.9 1119.3 423.2 1112.8 416.6 1111.6 413.8 1110.1 399.8 1112.1 385.8 1117.0 367.3 1122.7 337.8 1133.1 314.3 1140.7 305.8 1139.8 303.4 1135.8 301.9 1132.7 298.8 1182.3 298.8 1169.3 304.6 1167.8 306.3 1172.3 325.8 1173.3 356.3 1180.6 377.3 1183.3 390.3 1180.6 405.3 1173.3 415.3 1162.8 420.8 1148.8 423.9 1131.3 425.9Z" fill="#fac0c0" fill-rule="evenodd"/>
<path d="M1139.8 424.4 1130.3 424.7 1118.8 421.4 1113.4 414.8 1111.4 401.8 1113.4 386.3 1118.4 367.3 1124.1 338.3 1134.3 315.2 1142.2 305.8 1140.8 302.8 1136.1 300.8 1134.3 298.8 1179.3 298.8 1168.4 303.8 1166.4 306.3 1171.0 326.3 1172.0 356.8 1179.2 377.8 1182.0 390.8 1179.9 403.3 1178.8 406.2 1174.1 412.8 1168.3 416.7 1160.3 420.1 1139.8 424.4Z" fill="#f79898" fill-rule="evenodd"/>
<path d="M1139.3 423.4 1130.3 423.6 1119.3 420.1 1114.6 414.3 1112.7 401.3 1114.7 386.8 1119.7 367.8 1125.9 337.3 1135.6 315.8 1143.5 306.3 1142.8 303.3 1136.3 298.8 1176.5 298.8 1166.5 303.8 1165.1 306.8 1169.7 326.8 1170.8 357.2 1177.9 378.3 1180.6 390.8 1178.6 403.3 1172.9 412.3 1167.3 415.8 1160.3 418.8 1139.3 423.4Z" fill="#f47070" fill-rule="evenodd"/>
<path d="M1139.3 422.4 1130.3 422.5 1121.8 420.0 1118.8 417.8 1115.4 412.3 1114.0 400.8 1115.5 389.8 1126.9 338.8 1136.6 316.8 1144.8 306.8 1144.2 303.3 1138.5 298.8 1173.8 298.8 1165.3 303.3 1163.7 306.8 1168.4 327.3 1169.5 357.3 1176.5 378.3 1179.3 390.8 1177.5 402.8 1171.8 411.8 1166.8 414.8 1159.8 417.7 1139.3 422.4Z" fill="#f14848" fill-rule="evenodd"/>
<path d="M1139.8 421.3 1130.3 421.4 1120.9 418.3 1116.9 413.3 1116.0 408.3 1115.2 400.8 1116.8 389.8 1122.4 367.8 1128.2 339.3 1137.8 317.4 1144.3 310.4 1146.0 307.3 1146.0 303.8 1141.2 298.8 1171.1 298.8 1163.7 303.3 1162.3 307.3 1167.2 327.3 1168.4 357.8 1177.8 388.8 1176.3 402.8 1171.1 410.8 1166.1 413.8 1147.3 420.1 1139.8 421.3Z" fill="#fde8e8" fill-rule="evenodd"/>
<path d="M1156.3 305.3 1146.8 304.1 1142.5 298.8 1169.8 298.8 1161.8 304.5 1156.3 305.3ZM1140.3 420.8 1130.3 420.9 1121.2 417.8 1117.2 412.3 1115.9 400.8 1119.0 383.8 1125.9 364.8 1133.0 339.3 1137.5 327.3 1146.5 310.8 1150.8 307.6 1155.8 306.5 1161.8 309.2 1164.0 315.8 1166.5 327.3 1167.7 357.3 1170.4 370.3 1175.9 382.8 1177.5 390.8 1177.1 394.8 1175.5 403.8 1170.3 410.8 1160.8 415.6 1140.3 420.8Z" fill="#fac0c0" fill-rule="evenodd"/>
<path d="M1162.3 302.8 1146.8 302.6 1143.5 298.8 1168.4 298.8 1162.3 302.8ZM1134.3 420.8 1128.3 419.9 1121.9 417.3 1118.2 409.3 1118.2 400.8 1121.9 383.8 1140.1 331.8 1143.6 325.3 1147.3 320.8 1150.8 318.5 1155.3 317.8 1160.8 321.8 1164.2 329.8 1166.2 343.8 1166.7 368.8 1168.4 375.3 1174.5 385.3 1176.8 391.0 1175.4 402.3 1170.3 410.0 1164.3 413.4 1146.8 419.2 1134.3 420.8Z" fill="#f79898" fill-rule="evenodd"/>
<path d="M1161.8 301.8 1146.3 301.4 1144.7 299.3 1166.4 298.8 1164.8 300.9 1161.8 301.8ZM1138.3 420.3 1130.3 420.0 1124.4 417.8 1120.1 410.3 1119.6 401.8 1124.0 383.8 1131.1 365.8 1139.8 339.8 1147.3 327.3 1150.8 324.7 1154.3 324.3 1158.3 327.0 1161.3 333.6 1163.3 343.8 1163.9 365.8 1165.3 374.3 1174.0 389.8 1175.3 394.8 1175.3 399.7 1174.4 403.3 1169.8 409.8 1165.3 412.4 1146.8 418.8 1138.3 420.3Z" fill="#f47070" fill-rule="evenodd"/>
<path d="M1157.3 300.8 1151.3 300.3 1156.3 299.4 1161.4 300.3 1157.3 300.8ZM1138.8 419.9 1130.3 419.5 1125.8 417.3 1121.5 410.3 1120.9 402.3 1125.5 384.3 1142.2 340.8 1148.3 332.4 1150.8 330.8 1153.3 330.5 1157.3 333.9 1160.4 342.3 1163.0 374.3 1165.0 379.3 1172.2 390.8 1173.4 395.8 1173.3 400.3 1171.1 406.3 1166.9 410.3 1158.3 413.1 1146.8 418.4 1138.8 419.9Z" fill="#f14848" fill-rule="evenodd"/>
<path d="M1139.3 419.4 1130.3 419.0 1126.8 416.8 1122.7 410.3 1122.0 402.3 1126.9 384.3 1140.8 350.0 1145.8 340.3 1149.8 337.2 1152.3 336.7 1154.8 338.3 1157.7 342.8 1161.2 374.8 1163.3 380.3 1170.4 391.3 1171.5 399.8 1169.8 404.5 1166.3 408.1 1157.8 411.0 1149.3 417.0 1139.3 419.4Z" fill="#fde8e8" fill-rule="evenodd"/>
<path d="M1140.3 418.8 1131.5 418.8 1127.7 416.3 1123.7 410.3 1122.9 402.8 1128.0 384.8 1141.3 353.9 1148.5 342.8 1151.3 341.7 1153.9 343.3 1156.4 350.8 1160.2 377.8 1168.6 391.8 1169.8 398.8 1168.5 402.8 1165.7 405.8 1156.8 409.4 1148.4 416.8 1140.3 418.8Z" fill="#fac0c0" fill-rule="evenodd"/>
<path d="M1138.3 418.8 1132.8 418.4 1127.0 414.3 1124.1 408.8 1123.9 402.3 1129.2 384.8 1141.8 357.5 1146.3 350.6 1150.3 348.6 1152.5 349.8 1154.4 353.3 1158.7 378.3 1160.8 383.5 1166.9 392.8 1167.7 398.8 1165.1 403.3 1156.3 407.5 1147.3 416.4 1138.3 418.8Z" fill="#f79898" fill-rule="evenodd"/>
<path d="M1138.8 418.3 1133.3 417.7 1128.1 414.3 1125.0 408.8 1124.6 402.8 1130.2 385.3 1135.3 374.5 1144.3 357.7 1147.3 354.5 1149.8 354.0 1151.8 355.5 1153.2 358.3 1157.6 380.3 1164.8 393.3 1165.4 397.8 1163.8 400.9 1155.8 405.7 1147.4 415.3 1142.7 417.8 1138.8 418.3Z" fill="#f47070" fill-rule="evenodd"/>
<path d="M1138.3 417.8 1132.8 416.7 1128.3 413.3 1125.6 408.3 1125.4 402.8 1131.1 385.8 1136.0 375.8 1144.3 362.2 1146.8 359.7 1148.8 359.2 1150.4 360.3 1152.1 363.3 1156.6 382.3 1161.9 393.3 1162.4 396.3 1161.3 398.8 1154.8 404.4 1147.8 413.9 1143.3 416.8 1138.3 417.8Z" fill="#f14848" fill-rule="evenodd"/>
<path d="M1140.3 416.9 1134.8 416.6 1129.7 413.8 1126.6 408.8 1126.1 403.3 1132.2 385.8 1136.8 376.9 1143.8 366.8 1147.8 364.5 1149.4 365.3 1151.7 368.8 1155.3 383.4 1158.7 392.8 1158.7 395.3 1148.7 411.8 1144.8 415.2 1140.3 416.9Z" fill="#fde8e8" fill-rule="evenodd"/>
<path d="M1139.3 416.3 1134.3 415.7 1129.8 412.9 1127.1 408.3 1126.8 403.3 1133.0 386.3 1137.3 378.6 1142.3 371.9 1147.3 368.9 1150.1 372.3 1151.8 376.3 1155.9 391.3 1155.9 394.8 1148.2 411.3 1144.3 414.7 1139.3 416.3Z" fill="#fac0c0" fill-rule="evenodd"/>
<path d="M1140.8 415.4 1135.3 415.3 1130.8 412.9 1128.0 408.8 1127.4 403.8 1131.3 392.7 1137.3 381.0 1142.3 374.6 1146.3 372.9 1148.8 374.7 1150.8 378.9 1153.9 390.8 1153.7 394.8 1148.3 409.8 1145.1 413.3 1140.8 415.4Z" fill="#f79898" fill-rule="evenodd"/>
<path d="M1139.8 414.9 1134.8 414.5 1130.8 411.9 1128.4 407.8 1128.1 403.3 1135.6 385.8 1141.3 378.2 1143.8 376.4 1145.8 376.2 1148.3 378.2 1150.3 382.9 1152.3 390.8 1151.9 395.8 1147.4 409.8 1143.9 413.3 1139.8 414.9Z" fill="#f47070" fill-rule="evenodd"/>
<path d="M1138.8 414.3 1134.8 413.8 1131.1 411.3 1129.1 407.8 1128.8 403.3 1136.6 386.3 1141.3 380.8 1144.8 379.3 1147.8 381.8 1150.4 389.3 1150.1 397.8 1146.5 409.8 1143.3 412.9 1138.8 414.3Z" fill="#f14848" fill-rule="evenodd"/>
<path d="M1140.3 413.4 1135.8 413.4 1132.3 411.5 1129.8 407.8 1129.4 403.8 1132.8 395.5 1137.8 386.8 1141.8 383.1 1144.3 382.5 1146.6 384.3 1148.9 389.3 1148.8 398.3 1146.3 408.8 1143.8 411.7 1140.3 413.4Z" fill="#fde8e8" fill-rule="evenodd"/>
<path d="M1138.8 412.3 1135.3 411.8 1132.8 410.2 1131.0 407.3 1130.8 403.8 1136.3 393.2 1141.2 388.3 1142.8 387.9 1144.8 389.3 1146.3 394.4 1145.8 405.3 1143.8 409.9 1138.8 412.3Z" fill="#fac0c0" fill-rule="evenodd"/>
<path d="M1139.3 410.8 1136.3 410.7 1133.9 409.3 1132.4 406.8 1132.1 404.3 1136.3 397.0 1140.8 394.0 1142.5 394.8 1143.8 397.2 1144.1 405.8 1142.8 408.8 1139.3 410.8Z" fill="#f79898" fill-rule="evenodd"/>
<path d="M1139.8 408.9 1135.8 408.6 1133.8 405.3 1135.8 401.3 1139.3 399.0 1141.3 400.3 1142.3 404.8 1141.8 407.3 1139.8 408.9Z" fill="#f47070" fill-rule="evenodd"/>
<path d="M1138.8 406.5 1137.1 406.3 1136.4 404.8 1138.8 404.3 1139.7 405.3 1138.8 406.5Z" fill="#f14848" fill-rule="evenodd"/>
</g>
<path d="M1139.8 421.3 1130.3 421.4 1120.9 418.3 1116.9 413.3 1116.0 408.3 1115.2 400.8 1116.8 389.8 1122.4 367.8 1128.2 339.3 1137.8 317.4 1144.3 310.4 1146.0 307.3 1146.0 303.8 1141.2 298.8 1171.1 298.8 1163.7 303.3 1162.3 307.3 1167.2 327.3 1168.4 357.8 1177.8 388.8 1176.3 402.8 1171.1 410.8 1166.1 413.8 1147.3 420.1 1139.8 421.3Z" fill="none" stroke="#ffffff" stroke-width="1.1"/>
<path d="M1139.3 419.4 1130.3 419.0 1126.8 416.8 1122.7 410.3 1122.0 402.3 1126.9 384.3 1140.8 350.0 1145.8 340.3 1149.8 337.2 1152.3 336.7 1154.8 338.3 1157.7 342.8 1161.2 374.8 1163.3 380.3 1170.4 391.3 1171.5 399.8 1169.8 404.5 1166.3 408.1 1157.8 411.0 1149.3 417.0 1139.3 419.4Z" fill="none" stroke="#ffffff" stroke-width="1.1"/>
<path d="M1140.3 416.9 1134.8 416.6 1129.7 413.8 1126.6 408.8 1126.1 403.3 1132.2 385.8 1136.8 376.9 1143.8 366.8 1147.8 364.5 1149.4 365.3 1151.7 368.8 1155.3 383.4 1158.7 392.8 1158.7 395.3 1148.7 411.8 1144.8 415.2 1140.3 416.9Z" fill="none" stroke="#ffffff" stroke-width="1.1"/>
<path d="M1140.3 413.4 1135.8 413.4 1132.3 411.5 1129.8 407.8 1129.4 403.8 1132.8 395.5 1137.8 386.8 1141.8 383.1 1144.3 382.5 1146.6 384.3 1148.9 389.3 1148.8 398.3 1146.3 408.8 1143.8 411.7 1140.3 413.4Z" fill="none" stroke="#ffffff" stroke-width="1.1"/>
</g>
<path d="M1131.3 426.3 1118.8 424.3 1111.3 416.8 1110.3 414.3 1108.8 398.8 1110.8 385.3 1115.8 366.8 1121.3 337.3 1127.8 324.3 1131.8 313.8 1139.8 305.3 1139.3 303.8 1135.8 302.3 1132.3 298.8 1182.3 298.3 1182.8 298.8 1181.8 299.8 1168.8 306.3 1173.3 325.3 1173.3 345.3 1174.3 356.3 1181.8 376.8 1184.3 389.8 1181.3 405.8 1173.3 415.8 1162.8 421.3 1148.8 424.3 1131.3 426.3Z" fill="none" stroke="#f40000" stroke-width="3.0"/>
<path d="M1101.8,298.8 H1242.3 V438.3" fill="none" stroke="#8a8a8a" stroke-width="1.1"/>
<path d="M1101.8,298.8 V438.3 H1242.3" fill="none" stroke="#333" stroke-width="1.3"/>
<path d="M1101.8,430.3h-4 M1101.8,425.2h-2 M1101.8,420.0h-2 M1101.8,414.9h-2 M1101.8,409.7h-2 M1101.8,404.6h-3 M1101.8,399.4h-2 M1101.8,394.2h-2 M1101.8,389.1h-2 M1101.8,383.9h-2 M1101.8,378.8h-4 M1101.8,373.6h-2 M1101.8,368.5h-2 M1101.8,363.4h-2 M1101.8,358.2h-2 M1101.8,353.1h-3 M1101.8,347.9h-2 M1101.8,342.8h-2 M1101.8,337.6h-2 M1101.8,332.5h-2 M1101.8,327.3h-4 M1101.8,322.1h-2 M1101.8,317.0h-2 M1101.8,311.9h-2 M1101.8,306.7h-2 M1101.8,301.6h-3" stroke="#333" stroke-width="1.1" fill="none"/>
<path d="M1152.4,438.3v2 M1159.8,438.3v2 M1165.1,438.3v2 M1169.2,438.3v2 M1172.5,438.3v2 M1175.3,438.3v2 M1177.7,438.3v2 M1179.9,438.3v2 M1194.4,438.3v2 M1201.8,438.3v2 M1207.1,438.3v2 M1211.2,438.3v2 M1214.5,438.3v2 M1217.3,438.3v2 M1219.7,438.3v2 M1221.9,438.3v2 M1236.4,438.3v2 M1181.8,438.3v4 M1223.8,438.3v4 M1128.8,438.3v4" stroke="#333" stroke-width="1.1" fill="none"/>
<path d="M1119.8,438.3v2.0 M1121.1,438.3v2.8 M1122.7,438.3v2.1 M1124.2,438.3v2.7 M1125.6,438.3v2.3 M1127.0,438.3v1.9 M1128.4,438.3v2.1 M1129.8,438.3v2.3 M1130.9,438.3v2.0 M1132.2,438.3v3.0 M1133.2,438.3v2.6 M1134.7,438.3v2.5 M1135.8,438.3v3.0 M1136.7,438.3v2.1" stroke="#222" stroke-width="0.9" fill="none"/>
<rect x="1126.8" y="438.3" width="4" height="3.6" fill="#111"/>
<path d="M1108.3,305.3 L1170.3,304.3 L1147.8,425.3 L1108.3,425.6 Z" fill="none" stroke="#111" stroke-width="1.3"/>
<path d="M1156.3,376.8 L1195.8,376.8 L1195.3,425.8 L1147.8,425.3 Z" fill="none" stroke="#333" stroke-width="1.1"/>
<text x="1172.3" y="322.3" font-size="15.50" fill="#000">CD8<tspan font-size="9.3" dy="-5.6">-</tspan></text>
<text x="1198.8" y="404.8" font-size="15.50" fill="#000">CD8<tspan font-size="9.3" dy="-5.6">+</tspan></text>
<text x="1064.5" y="332.6" font-size="13.40" fill="#000">200K</text>
<text x="1064.5" y="383.6" font-size="13.40" fill="#000">100K</text>
<text x="1088.3" y="435.1" font-size="13.40" fill="#000">0</text>
<text x="1126.1" y="458.3" font-size="13.40" fill="#000">0</text>
<text x="1171.1" y="458.3" font-size="13.40" fill="#000">10<tspan font-size="8.0" dy="-4.8">3</tspan></text>
<text x="1214.1" y="458.3" font-size="13.40" fill="#000">10<tspan font-size="8.0" dy="-4.8">4</tspan></text>
<text x="1098.8" y="294.5" font-size="22.20" fill="#000">iPSC/GM-CSF</text>
<path d="M1321.0 426.3 1306.0 423.3 1297.5 415.8 1292.5 405.8 1292.5 396.3 1298.0 380.8 1299.5 370.8 1301.5 369.3 1306.5 368.8 1307.5 366.3 1307.0 363.8 1302.5 361.3 1302.5 358.8 1304.0 357.3 1315.0 353.3 1315.5 348.3 1308.5 346.8 1307.0 344.8 1309.0 342.3 1315.5 339.8 1315.0 333.8 1320.0 327.8 1320.0 320.3 1309.5 319.3 1308.5 317.3 1311.5 316.3 1323.5 315.8 1328.0 309.8 1335.5 308.3 1334.5 305.3 1332.5 303.8 1322.5 302.3 1321.0 300.3 1322.0 298.8 1366.0 298.8 1366.5 299.3 1365.0 300.8 1354.5 304.3 1355.5 314.3 1354.5 339.3 1357.0 345.8 1365.5 361.3 1366.0 373.3 1364.5 381.3 1368.0 385.8 1365.0 391.3 1363.0 402.3 1359.5 409.8 1340.0 422.3 1336.0 423.8 1321.0 426.3Z" fill="#fdf0f0" fill-rule="evenodd"/>
<clipPath id="c12"><path d="M1321.0 426.3 1306.0 423.3 1297.5 415.8 1292.5 405.8 1292.5 396.3 1298.0 380.8 1299.5 370.8 1301.5 369.3 1306.5 368.8 1307.5 366.3 1307.0 363.8 1302.5 361.3 1302.5 358.8 1304.0 357.3 1315.0 353.3 1315.5 348.3 1308.5 346.8 1307.0 344.8 1309.0 342.3 1315.5 339.8 1315.0 333.8 1320.0 327.8 1320.0 320.3 1309.5 319.3 1308.5 317.3 1311.5 316.3 1323.5 315.8 1328.0 309.8 1335.5 308.3 1334.5 305.3 1332.5 303.8 1322.5 302.3 1321.0 300.3 1322.0 298.8 1366.0 298.8 1366.5 299.3 1365.0 300.8 1354.5 304.3 1355.5 314.3 1354.5 339.3 1357.0 345.8 1365.5 361.3 1366.0 373.3 1364.5 381.3 1368.0 385.8 1365.0 391.3 1363.0 402.3 1359.5 409.8 1340.0 422.3 1336.0 423.8 1321.0 426.3Z" clip-rule="evenodd"/></clipPath>
<g clip-path="url(#c12)"><g filter="url(#bl)">
<path d="M1321.0 426.0 1306.0 422.5 1298.8 415.8 1293.8 405.3 1293.8 396.8 1299.2 381.3 1300.9 371.3 1307.0 369.7 1308.5 366.3 1308.5 363.8 1304.4 361.3 1303.9 359.3 1314.5 354.9 1316.2 350.8 1315.5 347.1 1308.7 344.8 1316.3 340.3 1316.2 334.3 1320.8 328.3 1321.6 320.8 1319.0 318.6 1312.0 317.8 1324.0 316.8 1328.5 310.8 1336.0 308.8 1335.3 304.8 1334.0 303.3 1324.5 301.4 1323.0 300.2 1361.5 300.2 1354.5 302.7 1353.4 304.3 1354.8 315.8 1354.2 339.3 1364.5 361.8 1365.1 372.8 1364.0 381.3 1367.1 386.3 1364.6 391.3 1363.1 400.8 1360.1 408.8 1348.5 416.9 1338.0 422.9 1321.0 426.0Z" fill="#fbdfdf" fill-rule="evenodd"/>
<path d="M1323.5 424.9 1320.0 425.2 1308.5 422.1 1300.1 415.3 1295.1 404.8 1295.2 397.3 1300.6 381.3 1302.3 372.3 1307.5 371.0 1309.3 368.8 1309.8 363.3 1306.1 359.8 1315.0 356.1 1316.9 353.8 1317.4 347.3 1316.0 345.7 1311.9 344.3 1316.0 342.5 1317.6 340.8 1317.5 334.8 1322.2 328.3 1323.0 320.8 1322.1 318.8 1325.0 317.8 1329.2 312.3 1335.5 310.8 1337.3 309.3 1336.7 304.3 1334.5 301.6 1353.0 301.5 1352.0 304.3 1353.4 312.3 1353.5 339.3 1363.2 362.3 1363.8 372.3 1362.8 381.3 1365.6 386.3 1363.6 390.8 1362.3 400.3 1359.3 408.3 1354.0 412.3 1337.5 421.7 1323.5 424.9Z" fill="#f9cece" fill-rule="evenodd"/>
<path d="M1323.0 423.9 1318.0 423.7 1311.0 421.7 1307.3 420.3 1304.5 417.9 1300.9 414.3 1296.5 404.8 1296.5 397.8 1301.9 381.8 1303.3 373.8 1308.0 372.2 1310.5 369.3 1311.2 363.3 1309.0 360.3 1315.5 357.4 1318.0 354.3 1318.8 347.8 1316.4 343.8 1319.0 340.8 1319.0 334.8 1323.5 328.8 1324.3 319.8 1330.0 313.5 1336.0 312.1 1338.3 310.3 1339.1 307.3 1337.6 302.8 1350.5 302.8 1352.0 312.8 1352.3 339.8 1361.9 362.8 1362.5 371.8 1361.6 381.3 1364.1 386.3 1362.5 390.3 1361.2 399.8 1358.0 407.8 1353.5 411.2 1337.0 420.7 1323.0 423.9Z" fill="#f8bcbc" fill-rule="evenodd"/>
<path d="M1323.0 422.8 1318.5 422.7 1311.5 420.7 1305.5 417.3 1301.7 413.3 1297.7 404.3 1297.9 397.8 1303.1 382.3 1304.4 374.8 1308.5 373.5 1310.8 371.3 1312.4 366.3 1311.4 360.8 1316.5 358.3 1319.1 354.8 1320.1 347.8 1318.6 343.8 1320.3 340.8 1320.2 335.3 1324.7 329.3 1325.7 320.8 1330.7 314.8 1336.6 313.3 1339.2 311.3 1340.5 308.3 1340.0 304.1 1349.0 304.1 1350.7 313.3 1351.1 339.8 1360.6 363.3 1361.2 371.3 1360.4 381.3 1362.8 386.3 1361.4 390.3 1360.1 399.3 1357.3 406.8 1353.0 410.1 1336.5 419.6 1323.0 422.8Z" fill="#f6abab" fill-rule="evenodd"/>
<path d="M1323.0 421.8 1316.0 421.1 1309.0 418.6 1306.0 416.2 1302.5 412.3 1298.9 403.8 1299.0 398.3 1305.7 376.3 1309.6 374.3 1312.0 371.8 1313.7 366.8 1313.4 361.3 1317.5 359.0 1320.2 355.3 1321.3 347.8 1320.3 343.8 1321.6 340.8 1321.7 335.8 1325.9 329.8 1327.1 321.3 1331.8 315.8 1337.0 314.6 1340.2 312.3 1341.8 309.3 1342.0 305.5 1347.5 305.5 1349.3 313.3 1349.9 339.8 1359.4 363.3 1360.0 371.3 1359.3 381.3 1361.4 386.8 1359.0 399.3 1356.2 406.3 1352.5 409.0 1336.5 418.5 1323.0 421.8Z" fill="#fdf0f0" fill-rule="evenodd"/>
<path d="M1323.0 421.3 1316.0 420.6 1309.0 418.1 1306.5 416.0 1302.0 409.8 1299.5 403.6 1299.8 400.3 1309.4 375.3 1313.2 370.8 1314.5 361.8 1318.1 359.3 1320.8 355.3 1321.9 347.8 1321.0 343.9 1322.1 341.3 1322.5 335.8 1326.1 330.8 1327.5 324.8 1332.7 318.8 1333.3 316.3 1339.0 314.3 1342.5 309.7 1345.0 309.8 1348.0 310.9 1348.6 313.3 1349.4 340.3 1358.7 363.3 1359.4 371.3 1358.8 381.3 1360.8 386.8 1358.5 399.3 1355.9 405.8 1352.0 408.7 1336.5 417.9 1323.0 421.3Z" fill="#fbdfdf" fill-rule="evenodd"/>
<path d="M1323.0 420.9 1316.0 420.1 1309.0 417.5 1306.6 415.3 1302.5 409.4 1302.4 400.8 1316.8 366.3 1318.7 359.8 1321.2 355.8 1322.5 347.7 1325.9 337.8 1330.8 329.3 1334.5 325.0 1339.0 322.4 1343.5 322.2 1348.0 324.5 1348.8 340.3 1356.5 360.3 1358.5 372.6 1358.3 381.8 1360.1 386.8 1358.1 398.8 1355.5 405.4 1351.5 408.3 1336.0 417.6 1323.0 420.9Z" fill="#f9cece" fill-rule="evenodd"/>
<path d="M1323.5 420.3 1316.5 419.8 1309.5 417.2 1307.3 415.3 1304.3 408.8 1304.2 401.3 1319.2 366.8 1328.9 339.3 1336.0 330.4 1339.5 328.5 1342.5 328.4 1347.5 332.0 1348.2 340.3 1353.0 353.5 1354.8 368.8 1357.9 382.8 1359.5 386.3 1357.5 398.8 1355.0 405.1 1351.5 407.7 1336.0 417.1 1323.5 420.3Z" fill="#f8bcbc" fill-rule="evenodd"/>
<path d="M1325.0 419.8 1319.0 420.0 1310.0 416.8 1306.1 409.8 1305.7 401.8 1321.1 367.8 1331.7 340.8 1337.5 335.5 1341.5 334.6 1344.0 335.8 1347.3 339.3 1349.0 344.3 1352.5 368.8 1358.1 388.3 1357.0 398.8 1354.6 404.8 1351.0 407.3 1342.5 411.0 1336.0 416.5 1325.0 419.8Z" fill="#f6abab" fill-rule="evenodd"/>
<path d="M1325.0 419.4 1319.0 419.5 1311.5 416.5 1307.5 409.8 1307.1 401.8 1322.9 368.3 1330.5 350.0 1336.0 341.1 1338.5 339.6 1341.0 339.5 1344.0 341.1 1345.5 343.8 1350.5 369.3 1356.4 389.3 1356.5 398.6 1355.0 402.4 1352.5 405.1 1342.5 408.6 1334.2 416.8 1325.0 419.4Z" fill="#fdf0f0" fill-rule="evenodd"/>
<path d="M1325.5 418.8 1319.0 419.1 1315.0 417.8 1312.5 415.8 1308.5 409.3 1308.3 401.8 1331.0 354.5 1335.5 348.6 1340.0 347.0 1343.0 349.3 1345.5 355.0 1350.1 376.3 1354.5 389.8 1354.7 397.3 1352.0 402.4 1341.5 407.1 1332.5 416.8 1325.5 418.8Z" fill="#fbdfdf" fill-rule="evenodd"/>
<path d="M1322.0 418.9 1316.5 417.4 1311.7 413.3 1309.3 407.8 1309.5 401.3 1331.5 358.8 1335.5 353.9 1339.0 352.7 1342.0 355.1 1344.2 360.3 1348.4 377.8 1352.4 389.8 1352.5 396.8 1350.0 400.7 1340.5 405.7 1331.5 416.2 1328.0 417.9 1322.0 418.9Z" fill="#f9cece" fill-rule="evenodd"/>
<path d="M1325.0 417.8 1318.8 417.3 1313.5 413.9 1310.4 408.3 1310.3 402.3 1332.0 363.0 1335.5 359.1 1338.5 358.5 1341.5 361.5 1345.1 370.8 1349.8 389.8 1350.0 395.3 1348.0 398.7 1339.5 404.5 1332.0 414.5 1325.0 417.8Z" fill="#f8bcbc" fill-rule="evenodd"/>
<path d="M1325.0 416.9 1319.0 416.3 1314.3 413.3 1311.4 408.3 1311.3 402.3 1331.0 368.7 1335.0 364.7 1337.5 364.1 1340.0 366.0 1342.9 371.3 1346.7 388.8 1346.7 394.8 1345.2 397.3 1339.0 402.8 1331.8 413.3 1328.5 415.7 1325.0 416.9Z" fill="#f6abab" fill-rule="evenodd"/>
<path d="M1325.5 415.8 1320.0 415.7 1315.1 412.8 1312.3 407.8 1312.3 402.3 1328.0 376.5 1334.0 369.6 1337.0 368.8 1339.7 370.8 1342.0 378.8 1343.8 387.8 1343.7 394.3 1331.9 411.8 1329.0 414.4 1325.5 415.8Z" fill="#fdf0f0" fill-rule="evenodd"/>
<path d="M1325.5 414.8 1320.5 414.8 1315.9 412.3 1313.2 407.8 1313.1 402.8 1316.5 396.3 1328.0 379.6 1332.0 375.5 1335.5 374.4 1338.0 376.2 1340.0 380.8 1341.2 393.8 1331.4 410.8 1328.9 413.3 1325.5 414.8Z" fill="#fbdfdf" fill-rule="evenodd"/>
<path d="M1325.5 413.9 1320.5 413.9 1316.5 411.5 1314.1 407.3 1314.1 402.8 1318.0 395.9 1328.0 382.8 1331.5 379.6 1334.5 379.0 1336.5 380.5 1338.0 383.8 1339.0 393.8 1331.0 409.8 1328.5 412.4 1325.5 413.9Z" fill="#f9cece" fill-rule="evenodd"/>
<path d="M1325.5 412.9 1321.0 413.0 1317.1 410.8 1315.0 407.0 1315.0 402.8 1319.0 396.4 1326.0 388.1 1330.0 384.4 1333.0 383.6 1335.6 386.3 1336.9 393.3 1330.1 409.3 1325.5 412.9Z" fill="#f8bcbc" fill-rule="evenodd"/>
<path d="M1325.5 411.8 1321.5 412.1 1318.0 410.3 1316.0 406.9 1315.9 403.3 1324.0 392.7 1328.3 388.8 1331.5 388.3 1334.0 390.2 1334.5 392.8 1329.5 408.3 1325.5 411.8Z" fill="#f6abab" fill-rule="evenodd"/>
<path d="M1325.0 410.9 1321.5 411.0 1318.6 409.3 1317.0 406.3 1317.1 403.3 1324.0 395.1 1327.0 393.2 1329.5 392.9 1331.1 395.8 1330.4 401.8 1328.3 408.3 1325.0 410.9Z" fill="#fdf0f0" fill-rule="evenodd"/>
<path d="M1324.0 408.4 1320.8 407.8 1319.4 404.8 1321.0 402.3 1324.5 400.6 1326.0 401.5 1326.4 404.8 1326.0 407.0 1324.0 408.4Z" fill="#fbdfdf" fill-rule="evenodd"/>
</g>
<path d="M1323.0 421.8 1316.0 421.1 1309.0 418.6 1306.0 416.2 1302.5 412.3 1298.9 403.8 1299.0 398.3 1305.7 376.3 1309.6 374.3 1312.0 371.8 1313.7 366.8 1313.4 361.3 1317.5 359.0 1320.2 355.3 1321.3 347.8 1320.3 343.8 1321.6 340.8 1321.7 335.8 1325.9 329.8 1327.1 321.3 1331.8 315.8 1337.0 314.6 1340.2 312.3 1341.8 309.3 1342.0 305.5 1347.5 305.5 1349.3 313.3 1349.9 339.8 1359.4 363.3 1360.0 371.3 1359.3 381.3 1361.4 386.8 1359.0 399.3 1356.2 406.3 1352.5 409.0 1336.5 418.5 1323.0 421.8Z" fill="none" stroke="#ffffff" stroke-width="1.1"/>
<path d="M1325.0 419.4 1319.0 419.5 1311.5 416.5 1307.5 409.8 1307.1 401.8 1322.9 368.3 1330.5 350.0 1336.0 341.1 1338.5 339.6 1341.0 339.5 1344.0 341.1 1345.5 343.8 1350.5 369.3 1356.4 389.3 1356.5 398.6 1355.0 402.4 1352.5 405.1 1342.5 408.6 1334.2 416.8 1325.0 419.4Z" fill="none" stroke="#ffffff" stroke-width="1.1"/>
<path d="M1325.5 415.8 1320.0 415.7 1315.1 412.8 1312.3 407.8 1312.3 402.3 1328.0 376.5 1334.0 369.6 1337.0 368.8 1339.7 370.8 1342.0 378.8 1343.8 387.8 1343.7 394.3 1331.9 411.8 1329.0 414.4 1325.5 415.8Z" fill="none" stroke="#ffffff" stroke-width="1.1"/>
<path d="M1325.0 410.9 1321.5 411.0 1318.6 409.3 1317.0 406.3 1317.1 403.3 1324.0 395.1 1327.0 393.2 1329.5 392.9 1331.1 395.8 1330.4 401.8 1328.3 408.3 1325.0 410.9Z" fill="none" stroke="#ffffff" stroke-width="1.1"/>
</g>
<path d="M1321.0 426.3 1306.0 423.3 1297.5 415.8 1292.5 405.8 1292.5 396.3 1298.0 380.8 1299.5 370.8 1301.5 369.3 1306.5 368.8 1307.5 366.3 1307.0 363.8 1302.5 361.3 1302.5 358.8 1304.0 357.3 1315.0 353.3 1315.5 348.3 1308.5 346.8 1307.0 344.8 1309.0 342.3 1315.5 339.8 1315.0 333.8 1320.0 327.8 1320.0 320.3 1309.5 319.3 1308.5 317.3 1311.5 316.3 1323.5 315.8 1328.0 309.8 1335.5 308.3 1334.5 305.3 1332.5 303.8 1322.5 302.3 1321.0 300.3 1322.0 298.8 1366.0 298.8 1366.5 299.3 1365.0 300.8 1354.5 304.3 1355.5 314.3 1354.5 339.3 1357.0 345.8 1365.5 361.3 1366.0 373.3 1364.5 381.3 1368.0 385.8 1365.0 391.3 1363.0 402.3 1359.5 409.8 1340.0 422.3 1336.0 423.8 1321.0 426.3Z" fill="none" stroke="#f46a6a" stroke-width="1.3"/>
<path d="M1281.0,298.8 H1421.5 V438.3" fill="none" stroke="#8a8a8a" stroke-width="1.1"/>
<path d="M1281.0,298.8 V438.3 H1421.5" fill="none" stroke="#333" stroke-width="1.3"/>
<path d="M1281.0,430.3h-4 M1281.0,425.2h-2 M1281.0,420.0h-2 M1281.0,414.9h-2 M1281.0,409.7h-2 M1281.0,404.6h-3 M1281.0,399.4h-2 M1281.0,394.2h-2 M1281.0,389.1h-2 M1281.0,383.9h-2 M1281.0,378.8h-4 M1281.0,373.6h-2 M1281.0,368.5h-2 M1281.0,363.4h-2 M1281.0,358.2h-2 M1281.0,353.1h-3 M1281.0,347.9h-2 M1281.0,342.8h-2 M1281.0,337.6h-2 M1281.0,332.5h-2 M1281.0,327.3h-4 M1281.0,322.1h-2 M1281.0,317.0h-2 M1281.0,311.9h-2 M1281.0,306.7h-2 M1281.0,301.6h-3" stroke="#333" stroke-width="1.1" fill="none"/>
<path d="M1331.6,438.3v2 M1339.0,438.3v2 M1344.3,438.3v2 M1348.4,438.3v2 M1351.7,438.3v2 M1354.5,438.3v2 M1356.9,438.3v2 M1359.1,438.3v2 M1373.6,438.3v2 M1381.0,438.3v2 M1386.3,438.3v2 M1390.4,438.3v2 M1393.7,438.3v2 M1396.5,438.3v2 M1398.9,438.3v2 M1401.1,438.3v2 M1415.6,438.3v2 M1361.0,438.3v4 M1403.0,438.3v4 M1308.0,438.3v4" stroke="#333" stroke-width="1.1" fill="none"/>
<path d="M1299.0,438.3v3.0 M1300.5,438.3v2.4 M1301.8,438.3v2.8 M1303.1,438.3v2.7 M1304.1,438.3v2.0 M1305.3,438.3v2.6 M1306.6,438.3v1.8 M1308.1,438.3v2.2 M1309.5,438.3v2.0 M1310.9,438.3v2.4 M1312.6,438.3v1.9 M1314.2,438.3v1.8 M1315.2,438.3v2.0 M1316.4,438.3v2.6" stroke="#222" stroke-width="0.9" fill="none"/>
<rect x="1306.0" y="438.3" width="4" height="3.6" fill="#111"/>
<path d="M1287.5,305.3 L1350.5,304.3 L1326.5,425.3 L1287.5,425.6 Z" fill="none" stroke="#111" stroke-width="1.3"/>
<path d="M1336.5,376.8 L1375.0,376.8 L1374.5,425.8 L1326.5,425.3 Z" fill="none" stroke="#333" stroke-width="1.1"/>
<text x="1351.5" y="322.3" font-size="15.50" fill="#000">CD8<tspan font-size="9.3" dy="-5.6">-</tspan></text>
<text x="1378.0" y="404.8" font-size="15.50" fill="#000">CD8<tspan font-size="9.3" dy="-5.6">+</tspan></text>
<text x="1243.7" y="332.6" font-size="13.40" fill="#000">200K</text>
<text x="1243.7" y="383.6" font-size="13.40" fill="#000">100K</text>
<text x="1267.5" y="435.1" font-size="13.40" fill="#000">0</text>
<text x="1305.3" y="458.3" font-size="13.40" fill="#000">0</text>
<text x="1350.3" y="458.3" font-size="13.40" fill="#000">10<tspan font-size="8.0" dy="-4.8">3</tspan></text>
<text x="1393.3" y="458.3" font-size="13.40" fill="#000">10<tspan font-size="8.0" dy="-4.8">4</tspan></text>
<text x="1313.0" y="295.0" font-size="22.20" fill="#000">iPSC/RT</text>
<line x1="876.00" y1="464.50" x2="876.00" y2="128.00" stroke="#000" stroke-width="2.2"/>
<path d="M871.5,130 L876,118.5 L880.5,130 Z" fill="#000"/>
<line x1="875.00" y1="463.75" x2="1422.00" y2="463.75" stroke="#000" stroke-width="2.2"/>
<path d="M1420,459.2 L1431.5,463.75 L1420,468.3 Z" fill="#000"/>
<text transform="translate(870.0,299.6) rotate(-90)" x="0.0" y="0" font-size="22.30" fill="#000">SSC-A</text>
<text x="1078.1" y="486.0" font-size="22.55" fill="#000">CD8a-PerCP-Cy5</text>
<g fill="#9a9a9a"><circle cx="724.8" cy="678.6" r="0.7"/><circle cx="682.7" cy="679.1" r="0.7"/><circle cx="773.9" cy="622.7" r="0.7"/><circle cx="668.6" cy="719.3" r="0.7"/><circle cx="753.1" cy="693.1" r="0.7"/><circle cx="657.3" cy="681.3" r="0.7"/><circle cx="683.5" cy="642.7" r="0.7"/><circle cx="724.6" cy="669.5" r="0.7"/><circle cx="732.9" cy="696.4" r="0.7"/><circle cx="754.4" cy="671.7" r="0.7"/><circle cx="761.2" cy="652.6" r="0.7"/><circle cx="715.1" cy="724.3" r="0.7"/><circle cx="686.5" cy="732.9" r="0.7"/><circle cx="802.1" cy="663.7" r="0.7"/><circle cx="749.4" cy="715.1" r="0.7"/><circle cx="768.7" cy="625.9" r="0.7"/><circle cx="681.7" cy="685.5" r="0.7"/><circle cx="683.6" cy="708.8" r="0.7"/><circle cx="751.6" cy="625.7" r="0.7"/><circle cx="704.3" cy="650.0" r="0.7"/><circle cx="668.5" cy="688.7" r="0.7"/><circle cx="745.2" cy="660.2" r="0.7"/><circle cx="785.0" cy="634.7" r="0.7"/><circle cx="683.5" cy="709.8" r="0.7"/><circle cx="745.5" cy="666.9" r="0.7"/><circle cx="660.8" cy="740.0" r="0.7"/><circle cx="760.7" cy="644.7" r="0.7"/><circle cx="744.5" cy="649.6" r="0.7"/><circle cx="763.1" cy="619.3" r="0.7"/><circle cx="697.0" cy="733.8" r="0.7"/><circle cx="740.8" cy="627.8" r="0.7"/><circle cx="758.7" cy="688.9" r="0.7"/><circle cx="702.8" cy="744.9" r="0.7"/><circle cx="748.7" cy="661.6" r="0.7"/><circle cx="746.3" cy="620.8" r="0.7"/><circle cx="713.3" cy="709.2" r="0.7"/><circle cx="721.1" cy="723.2" r="0.7"/><circle cx="767.5" cy="614.0" r="0.7"/><circle cx="727.1" cy="641.1" r="0.7"/><circle cx="756.7" cy="637.3" r="0.7"/><circle cx="742.5" cy="652.7" r="0.7"/><circle cx="680.4" cy="670.8" r="0.7"/><circle cx="729.1" cy="652.6" r="0.7"/><circle cx="802.3" cy="671.1" r="0.7"/><circle cx="659.7" cy="727.8" r="0.7"/><circle cx="761.3" cy="687.0" r="0.7"/><circle cx="773.7" cy="612.6" r="0.7"/><circle cx="690.6" cy="629.0" r="0.7"/><circle cx="749.4" cy="670.3" r="0.7"/><circle cx="757.7" cy="636.9" r="0.7"/><circle cx="762.1" cy="634.2" r="0.7"/><circle cx="706.9" cy="704.1" r="0.7"/><circle cx="711.5" cy="686.8" r="0.7"/><circle cx="752.7" cy="637.7" r="0.7"/><circle cx="659.3" cy="719.2" r="0.7"/><circle cx="775.0" cy="633.3" r="0.7"/><circle cx="773.2" cy="629.0" r="0.7"/><circle cx="797.4" cy="621.6" r="0.7"/><circle cx="734.0" cy="649.2" r="0.7"/><circle cx="739.0" cy="652.1" r="0.7"/><circle cx="740.9" cy="637.1" r="0.7"/><circle cx="730.5" cy="691.7" r="0.7"/><circle cx="758.6" cy="618.9" r="0.7"/><circle cx="695.4" cy="673.9" r="0.7"/><circle cx="726.5" cy="652.8" r="0.7"/><circle cx="771.9" cy="613.1" r="0.7"/><circle cx="689.1" cy="702.7" r="0.7"/><circle cx="708.3" cy="693.7" r="0.7"/><circle cx="764.6" cy="626.6" r="0.7"/><circle cx="720.5" cy="660.7" r="0.7"/><circle cx="734.4" cy="631.6" r="0.7"/><circle cx="689.9" cy="710.0" r="0.7"/><circle cx="790.4" cy="652.6" r="0.7"/><circle cx="788.1" cy="628.1" r="0.7"/><circle cx="764.0" cy="645.0" r="0.7"/><circle cx="757.9" cy="635.5" r="0.7"/><circle cx="732.2" cy="686.8" r="0.7"/><circle cx="664.3" cy="738.5" r="0.7"/><circle cx="769.7" cy="654.1" r="0.7"/><circle cx="732.3" cy="668.1" r="0.7"/><circle cx="715.8" cy="636.3" r="0.7"/><circle cx="749.4" cy="664.6" r="0.7"/><circle cx="763.4" cy="619.5" r="0.7"/><circle cx="725.3" cy="611.4" r="0.7"/><circle cx="750.8" cy="694.2" r="0.7"/><circle cx="693.5" cy="664.2" r="0.7"/><circle cx="684.3" cy="660.7" r="0.7"/><circle cx="692.6" cy="732.3" r="0.7"/><circle cx="661.8" cy="735.6" r="0.7"/><circle cx="725.8" cy="632.8" r="0.7"/><circle cx="718.1" cy="681.1" r="0.7"/><circle cx="739.1" cy="648.3" r="0.7"/><circle cx="666.0" cy="732.2" r="0.7"/><circle cx="745.5" cy="625.5" r="0.7"/><circle cx="723.4" cy="637.5" r="0.7"/><circle cx="734.2" cy="626.8" r="0.7"/><circle cx="755.2" cy="671.5" r="0.7"/><circle cx="742.3" cy="666.6" r="0.7"/><circle cx="765.1" cy="642.2" r="0.7"/><circle cx="739.7" cy="689.9" r="0.7"/><circle cx="768.0" cy="635.6" r="0.7"/><circle cx="718.8" cy="694.2" r="0.7"/><circle cx="736.2" cy="619.8" r="0.7"/><circle cx="711.0" cy="674.6" r="0.7"/><circle cx="748.6" cy="713.8" r="0.7"/><circle cx="703.8" cy="684.1" r="0.7"/><circle cx="669.6" cy="728.1" r="0.7"/><circle cx="667.5" cy="686.2" r="0.7"/><circle cx="757.8" cy="650.3" r="0.7"/><circle cx="759.1" cy="648.2" r="0.7"/></g>
<path d="M651.1 749.0 645.6 749.0 643.6 747.0 642.1 743.0 653.6 726.5 674.6 691.0 686.6 673.0 701.6 656.0 711.1 648.5 717.1 646.0 722.1 647.5 730.6 647.5 732.6 649.5 732.6 652.0 728.1 665.0 721.6 675.0 706.1 687.5 704.6 692.5 685.1 714.0 675.1 730.0 663.6 740.5 651.1 749.0Z" fill="#0010ff" fill-rule="evenodd"/>
<clipPath id="c13"><path d="M651.1 749.0 645.6 749.0 643.6 747.0 642.1 743.0 653.6 726.5 674.6 691.0 686.6 673.0 701.6 656.0 711.1 648.5 717.1 646.0 722.1 647.5 730.6 647.5 732.6 649.5 732.6 652.0 728.1 665.0 721.6 675.0 706.1 687.5 704.6 692.5 685.1 714.0 675.1 730.0 663.6 740.5 651.1 749.0Z" clip-rule="evenodd"/></clipPath>
<g clip-path="url(#c13)"><g filter="url(#bl)">
<path d="M646.1 748.1 643.8 747.0 642.2 743.0 653.7 726.5 674.9 691.0 686.9 673.0 693.9 664.5 701.6 656.4 708.6 650.9 718.1 650.7 721.6 652.0 727.3 652.0 723.5 663.5 717.2 673.0 702.7 684.5 700.2 690.5 681.6 711.1 670.7 728.0 648.1 747.6 646.1 748.1Z" fill="#0039ff" fill-rule="evenodd"/>
<path d="M646.1 747.1 644.0 747.0 642.3 743.0 653.8 726.5 675.3 691.0 693.6 665.6 704.6 656.0 708.6 653.7 710.6 654.0 712.0 655.5 711.7 656.5 699.1 670.5 664.8 723.5 653.1 740.0 646.1 747.1Z" fill="#0068ff" fill-rule="evenodd"/>
<path d="M645.6 746.6 644.1 746.9 642.4 743.0 654.0 726.5 673.6 695.0 689.2 674.0 695.1 669.0 694.2 673.5 669.8 714.0 650.8 741.0 645.6 746.6Z" fill="#00acff" fill-rule="evenodd"/>
<path d="M645.1 746.2 643.5 746.0 642.5 743.0 650.7 732.0 671.1 700.0 677.1 692.3 683.1 687.0 678.7 697.0 668.9 714.0 647.9 743.5 645.1 746.2Z" fill="#00e9f0" fill-rule="evenodd"/>
<path d="M645.1 745.6 643.6 745.7 642.6 743.0 651.8 732.5 668.4 705.0 676.6 696.0 675.6 700.2 668.3 713.5 653.0 733.5 645.1 745.6Z" fill="#00ff9a" fill-rule="evenodd"/>
<path d="M658.1 724.7 658.7 722.0 664.9 711.0 672.1 703.2 667.7 713.0 658.1 724.7ZM644.6 745.2 643.6 745.1 642.8 743.5 648.6 737.6 647.7 741.0 644.6 745.2Z" fill="#3bff31" fill-rule="evenodd"/>
<path d="M664.6 714.8 665.6 711.6 667.5 710.5 664.6 714.8ZM644.1 744.3 645.0 743.0 644.1 744.3Z" fill="#acff00" fill-rule="evenodd"/>
</g></g>
<path d="M810.5 587.9 809.0 587.4 807.5 584.9 808.0 581.4 809.5 579.9 811.5 580.9 811.5 586.9 810.5 587.9Z" fill="#0010ff" fill-rule="evenodd"/>
<path d="M810.5 613.9 809.0 613.4 807.5 610.9 808.0 607.4 809.5 605.9 811.5 606.9 811.5 612.9 810.5 613.9Z" fill="#0010ff" fill-rule="evenodd"/>
<path d="M810.5 627.5 809.0 627.0 807.5 624.5 808.0 621.0 809.5 619.5 811.5 620.5 811.5 626.5 810.5 627.5Z" fill="#0010ff" fill-rule="evenodd"/>
<path d="M810.5 670.7 809.0 670.2 807.5 667.7 808.0 664.2 809.5 662.7 811.5 663.7 811.5 669.7 810.5 670.7Z" fill="#0010ff" fill-rule="evenodd"/>
<path d="M642.6,582.0 H810.3 V748.9" fill="none" stroke="#8a8a8a" stroke-width="1.1"/>
<path d="M642.6,582.0 V748.9 H810.3" fill="none" stroke="#333" stroke-width="1.3"/>
<path d="M643.0,748.9v5 M649.3,748.9v2.6 M655.6,748.9v2.6 M661.9,748.9v2.6 M668.2,748.9v2.6 M674.5,748.9v4 M680.8,748.9v2.6 M687.1,748.9v2.6 M693.4,748.9v2.6 M699.7,748.9v2.6 M706.0,748.9v5 M712.3,748.9v2.6 M718.6,748.9v2.6 M724.9,748.9v2.6 M731.2,748.9v2.6 M737.5,748.9v4 M743.8,748.9v2.6 M750.1,748.9v2.6 M756.4,748.9v2.6 M762.7,748.9v2.6 M769.0,748.9v5 M775.3,748.9v2.6 M781.6,748.9v2.6 M787.9,748.9v2.6 M794.2,748.9v2.6 M800.5,748.9v4 M806.8,748.9v2.6" stroke="#333" stroke-width="1.1" fill="none"/>
<path d="M642.6,748.0h-5 M642.6,741.6h-2.6 M642.6,735.3h-2.6 M642.6,729.0h-2.6 M642.6,722.6h-2.6 M642.6,716.2h-4 M642.6,709.9h-2.6 M642.6,703.5h-2.6 M642.6,697.2h-2.6 M642.6,690.9h-2.6 M642.6,684.5h-5 M642.6,678.1h-2.6 M642.6,671.8h-2.6 M642.6,665.5h-2.6 M642.6,659.1h-2.6 M642.6,652.8h-4 M642.6,646.4h-2.6 M642.6,640.0h-2.6 M642.6,633.7h-2.6 M642.6,627.4h-2.6 M642.6,621.0h-5 M642.6,614.6h-2.6 M642.6,608.3h-2.6 M642.6,602.0h-2.6 M642.6,595.6h-2.6 M642.6,589.2h-4 M642.6,582.9h-2.6" stroke="#333" stroke-width="1.1" fill="none"/>
<path d="M642.4,743.0 L738.7,611.7 L748.2,615.8 L648.9,748.3 Z" fill="none" stroke="#111" stroke-width="1.3"/>
<text x="680.2" y="622.0" font-size="15.58" fill="#333">89.9%</text>
<text x="593.8" y="626.2" font-size="18.44" fill="#000">200K</text>
<text x="593.8" y="691.2" font-size="18.44" fill="#000">100K</text>
<text x="625.6" y="755.5" font-size="16.63" fill="#000">0</text>
<text x="636.8" y="771.2" font-size="16.63" fill="#000">0</text>
<text x="685.6" y="771.2" font-size="17.35" fill="#000">100K</text>
<text x="750.5" y="771.2" font-size="17.89" fill="#000">200K</text>
<text x="692.9" y="796.2" font-size="22.31" fill="#000">FSC-A</text>
<text transform="translate(589.5,704.6) rotate(-90)" x="0.0" y="0" font-size="21.49" fill="#000">FSC-H</text>
<text x="696.1" y="576.2" font-size="22.46" fill="#000">Singlet</text>
<path d="M951.3 589.3 938.8 589.3 932.8 588.3 928.8 586.8 927.3 584.3 930.8 581.8 940.8 580.8 954.8 580.8 960.3 582.3 962.8 584.3 962.8 585.3 960.3 587.3 951.3 589.3ZM934.8 618.8 933.3 618.3 931.8 614.3 931.8 605.8 933.8 601.3 935.8 602.3 936.8 605.8 936.8 614.3 934.8 618.8ZM953.8 748.8 924.8 748.3 924.8 667.8 925.8 666.3 928.8 650.3 929.8 631.3 931.8 627.3 936.3 625.3 937.8 625.3 942.8 628.3 942.8 629.8 938.8 634.8 937.8 638.3 938.3 639.8 944.8 642.8 950.8 648.3 950.3 652.8 945.8 655.3 944.8 656.8 945.3 660.3 946.8 662.3 954.8 666.3 957.8 672.8 961.3 676.8 961.8 678.3 956.8 681.3 955.8 683.8 957.8 688.3 963.3 695.3 964.8 695.3 972.3 690.3 981.8 693.3 987.3 693.3 999.3 691.3 1011.8 695.8 1019.8 702.8 1020.8 707.3 1020.8 715.8 1019.8 720.8 1017.3 723.8 1011.3 727.8 986.3 741.8 969.3 746.3 955.3 747.8 953.8 748.8ZM954.8 639.8 953.3 639.3 953.8 637.3 955.8 637.8 954.8 639.8Z" fill="#0010ff" fill-rule="evenodd"/>
<clipPath id="c14"><path d="M951.3 589.3 938.8 589.3 932.8 588.3 928.8 586.8 927.3 584.3 930.8 581.8 940.8 580.8 954.8 580.8 960.3 582.3 962.8 584.3 962.8 585.3 960.3 587.3 951.3 589.3ZM934.8 618.8 933.3 618.3 931.8 614.3 931.8 605.8 933.8 601.3 935.8 602.3 936.8 605.8 936.8 614.3 934.8 618.8ZM953.8 748.8 924.8 748.3 924.8 667.8 925.8 666.3 928.8 650.3 929.8 631.3 931.8 627.3 936.3 625.3 937.8 625.3 942.8 628.3 942.8 629.8 938.8 634.8 937.8 638.3 938.3 639.8 944.8 642.8 950.8 648.3 950.3 652.8 945.8 655.3 944.8 656.8 945.3 660.3 946.8 662.3 954.8 666.3 957.8 672.8 961.3 676.8 961.8 678.3 956.8 681.3 955.8 683.8 957.8 688.3 963.3 695.3 964.8 695.3 972.3 690.3 981.8 693.3 987.3 693.3 999.3 691.3 1011.8 695.8 1019.8 702.8 1020.8 707.3 1020.8 715.8 1019.8 720.8 1017.3 723.8 1011.3 727.8 986.3 741.8 969.3 746.3 955.3 747.8 953.8 748.8ZM954.8 639.8 953.3 639.3 953.8 637.3 955.8 637.8 954.8 639.8Z" clip-rule="evenodd"/></clipPath>
<g clip-path="url(#c14)"><g filter="url(#bl)">
<path d="M950.3 584.9 940.3 585.1 937.7 584.3 939.0 581.3 949.3 581.1 951.1 581.3 952.4 584.3 950.3 584.9ZM934.3 635.2 934.7 630.8 936.8 630.1 934.3 635.2ZM953.8 748.5 925.0 748.3 925.2 672.3 925.3 671.5 928.3 670.2 929.8 667.3 932.9 650.8 933.8 639.9 935.8 643.1 942.8 646.7 946.4 649.8 942.3 652.9 940.9 655.3 941.3 661.3 944.3 665.6 951.3 669.1 955.4 676.3 955.5 677.3 951.9 680.8 951.8 684.8 954.3 690.5 960.8 698.6 965.8 699.2 973.3 694.8 981.8 697.2 998.3 695.2 1010.5 699.3 1016.8 704.5 1017.8 708.8 1017.9 714.3 1016.3 720.6 993.8 735.6 985.8 740.3 975.3 744.2 966.3 746.4 955.3 747.6 953.8 748.5Z" fill="#0035ff" fill-rule="evenodd"/>
<path d="M952.8 748.3 925.2 748.3 925.3 686.8 929.3 683.1 932.3 682.6 935.3 683.4 939.1 687.8 940.6 720.3 942.3 724.3 945.8 723.7 976.3 709.7 989.3 705.9 996.8 705.3 1003.3 706.3 1008.1 708.8 1010.9 712.8 1011.3 716.8 1009.8 721.3 987.3 736.6 970.3 744.1 952.8 748.3Z" fill="#005bff" fill-rule="evenodd"/>
<path d="M948.8 748.3 926.3 748.3 925.3 746.3 925.3 710.9 928.1 695.3 931.3 688.2 933.8 689.3 935.3 694.8 936.9 709.8 937.2 726.3 938.3 730.8 939.8 732.4 942.3 732.0 960.8 722.5 979.3 716.3 990.8 715.4 994.3 716.8 996.2 719.3 996.2 722.3 994.2 726.3 984.5 735.8 968.3 743.5 952.8 746.7 948.8 748.3Z" fill="#009aff" fill-rule="evenodd"/>
<path d="M933.3 748.3 928.1 748.3 925.3 742.6 927.4 714.3 929.3 706.3 931.3 703.1 932.8 704.6 933.9 708.8 935.1 726.8 937.8 740.8 933.3 748.3ZM948.8 746.4 942.8 744.8 940.2 741.3 942.9 736.8 949.3 731.7 959.8 726.6 972.3 722.8 980.8 722.2 984.8 724.3 985.2 726.8 983.9 730.8 978.7 737.3 964.8 743.6 948.8 746.4Z" fill="#00d5f9" fill-rule="evenodd"/>
<path d="M931.3 748.0 929.8 747.9 928.2 746.3 926.0 740.3 927.8 727.0 930.8 719.5 933.6 727.8 935.5 740.3 934.5 744.3 931.3 748.0ZM956.8 744.3 947.3 744.2 944.8 742.3 944.7 739.3 946.9 736.3 950.8 733.4 961.8 728.5 972.8 726.8 976.8 727.5 979.0 729.3 979.7 731.3 979.1 733.8 974.9 738.3 967.3 742.0 956.8 744.3Z" fill="#00ffd3" fill-rule="evenodd"/>
<path d="M931.3 746.4 929.8 746.3 928.3 744.9 926.8 740.3 928.3 730.3 930.8 726.9 933.1 731.3 934.4 739.8 933.6 743.8 931.3 746.4ZM958.8 743.3 949.8 743.4 947.5 741.8 947.2 739.3 952.3 734.2 961.8 730.2 970.8 729.1 974.3 729.8 976.3 731.3 976.3 734.8 972.3 738.8 964.8 742.1 958.8 743.3Z" fill="#00ff60" fill-rule="evenodd"/>
<path d="M931.3 745.0 929.0 744.3 927.5 740.8 928.3 734.2 930.3 730.4 932.3 732.5 933.5 738.8 933.2 742.3 931.3 745.0ZM957.8 742.8 950.8 742.2 949.2 740.3 949.6 738.3 954.8 734.0 962.8 731.1 970.3 730.6 974.3 732.6 974.0 735.8 970.3 739.0 964.3 741.6 957.8 742.8Z" fill="#66ff13" fill-rule="evenodd"/>
<path d="M960.8 741.8 953.0 741.8 951.3 740.6 951.1 738.8 954.5 735.3 961.3 732.5 968.3 731.7 972.4 733.3 972.4 735.8 969.9 738.3 960.8 741.8ZM930.8 743.8 929.0 742.8 928.3 740.3 928.9 735.8 930.3 733.3 931.8 734.7 932.7 739.8 932.3 742.3 930.8 743.8Z" fill="#c9ff00" fill-rule="evenodd"/>
<path d="M960.3 741.3 954.3 741.0 952.8 739.8 953.0 738.3 956.3 735.3 961.8 733.2 967.8 732.7 970.8 734.1 970.6 736.3 968.5 738.3 960.3 741.3ZM931.3 741.8 930.3 742.3 929.3 740.8 930.3 736.5 931.6 738.8 931.3 741.8Z" fill="#f8d500" fill-rule="evenodd"/>
<path d="M961.8 740.3 956.3 740.5 954.9 739.8 954.6 738.3 957.2 735.8 961.8 734.0 966.3 733.6 969.2 734.8 967.7 737.8 961.8 740.3Z" fill="#ff6d00" fill-rule="evenodd"/>
<path d="M960.3 739.8 956.8 739.3 956.6 737.8 961.8 734.9 967.2 735.3 966.0 737.8 960.3 739.8Z" fill="#ff0000" fill-rule="evenodd"/>
</g></g>
<path d="M925.3,581.3 H1093.5 V748.3" fill="none" stroke="#8a8a8a" stroke-width="1.1"/>
<path d="M925.3,581.3 V748.3 H1093.5" fill="none" stroke="#333" stroke-width="1.3"/>
<path d="M925.5,748.3v5 M931.8,748.3v2.6 M938.1,748.3v2.6 M944.4,748.3v2.6 M950.7,748.3v2.6 M957.0,748.3v4 M963.3,748.3v2.6 M969.6,748.3v2.6 M975.9,748.3v2.6 M982.2,748.3v2.6 M988.5,748.3v5 M994.8,748.3v2.6 M1001.1,748.3v2.6 M1007.4,748.3v2.6 M1013.7,748.3v2.6 M1020.0,748.3v4 M1026.3,748.3v2.6 M1032.6,748.3v2.6 M1038.9,748.3v2.6 M1045.2,748.3v2.6 M1051.5,748.3v5 M1057.8,748.3v2.6 M1064.1,748.3v2.6 M1070.4,748.3v2.6 M1076.7,748.3v2.6 M1083.0,748.3v4 M1089.3,748.3v2.6" stroke="#333" stroke-width="1.1" fill="none"/>
<path d="M925.3,747.5h-5 M925.3,741.1h-2.6 M925.3,734.8h-2.6 M925.3,728.4h-2.6 M925.3,722.0h-2.6 M925.3,715.6h-4 M925.3,709.2h-2.6 M925.3,702.9h-2.6 M925.3,696.5h-2.6 M925.3,690.1h-2.6 M925.3,683.8h-5 M925.3,677.4h-2.6 M925.3,671.0h-2.6 M925.3,664.6h-2.6 M925.3,658.2h-2.6 M925.3,651.9h-4 M925.3,645.5h-2.6 M925.3,639.1h-2.6 M925.3,632.8h-2.6 M925.3,626.4h-2.6 M925.3,620.0h-5 M925.3,613.6h-2.6 M925.3,607.2h-2.6 M925.3,600.9h-2.6 M925.3,594.5h-2.6 M925.3,588.1h-4 M925.3,581.8h-2.6" stroke="#333" stroke-width="1.1" fill="none"/>
<path d="M937.4,748.3 L938.0,740.0 L953.3,722.3 L971.7,717.5 L983.5,725.8 L982.3,736.4 L971.7,743.5 L957.5,747.0 Z" fill="none" stroke="#111" stroke-width="1.4"/>
<text x="1010.7" y="744.7" font-size="15.63" fill="#222">Leukocytes</text>
<text x="874.8" y="625.5" font-size="18.22" fill="#000">200K</text>
<text x="876.8" y="690.0" font-size="17.35" fill="#000">100K</text>
<text x="908.1" y="753.8" font-size="15.68" fill="#000">0</text>
<text x="920.1" y="770.0" font-size="16.63" fill="#000">0</text>
<text x="966.3" y="770.0" font-size="17.57" fill="#000">100K</text>
<text x="1033.0" y="770.0" font-size="17.89" fill="#000">200K</text>
<text x="970.4" y="796.2" font-size="21.90" fill="#000">FSC-H</text>
<text transform="translate(868.8,704.6) rotate(-90)" x="0.0" y="0" font-size="22.31" fill="#000">SSC-H</text>
<text x="960.4" y="576.2" font-size="22.47" fill="#000">Leukocyte</text>
<g fill="#8a8a8a"><circle cx="1321.4" cy="731.5" r="0.65"/><circle cx="1325.3" cy="740.5" r="0.65"/><circle cx="1298.4" cy="703.8" r="0.65"/><circle cx="1314.1" cy="690.7" r="0.65"/><circle cx="1320.6" cy="697.1" r="0.65"/><circle cx="1358.7" cy="701.7" r="0.65"/><circle cx="1375.4" cy="738.9" r="0.65"/><circle cx="1373.0" cy="740.0" r="0.65"/><circle cx="1282.2" cy="699.3" r="0.65"/><circle cx="1237.8" cy="706.9" r="0.65"/><circle cx="1340.5" cy="737.3" r="0.65"/><circle cx="1229.4" cy="692.6" r="0.65"/><circle cx="1367.4" cy="742.8" r="0.65"/><circle cx="1241.7" cy="709.1" r="0.65"/><circle cx="1309.8" cy="707.5" r="0.65"/><circle cx="1254.6" cy="694.4" r="0.65"/><circle cx="1331.4" cy="745.8" r="0.65"/><circle cx="1288.9" cy="703.3" r="0.65"/><circle cx="1337.7" cy="743.2" r="0.65"/><circle cx="1337.4" cy="716.8" r="0.65"/><circle cx="1302.9" cy="709.0" r="0.65"/><circle cx="1332.2" cy="727.2" r="0.65"/><circle cx="1321.6" cy="733.4" r="0.65"/><circle cx="1336.1" cy="691.5" r="0.65"/><circle cx="1330.9" cy="725.3" r="0.65"/><circle cx="1298.7" cy="702.7" r="0.65"/><circle cx="1248.0" cy="707.8" r="0.65"/><circle cx="1288.8" cy="705.6" r="0.65"/><circle cx="1309.8" cy="709.0" r="0.65"/><circle cx="1290.3" cy="707.9" r="0.65"/><circle cx="1301.8" cy="706.0" r="0.65"/><circle cx="1368.3" cy="733.8" r="0.65"/><circle cx="1324.7" cy="723.8" r="0.65"/><circle cx="1308.0" cy="708.8" r="0.65"/><circle cx="1339.8" cy="723.1" r="0.65"/><circle cx="1361.2" cy="720.6" r="0.65"/><circle cx="1344.8" cy="714.0" r="0.65"/><circle cx="1334.2" cy="725.4" r="0.65"/><circle cx="1355.8" cy="701.0" r="0.65"/><circle cx="1332.2" cy="714.2" r="0.65"/><circle cx="1345.1" cy="741.0" r="0.65"/><circle cx="1349.8" cy="693.8" r="0.65"/><circle cx="1377.8" cy="729.3" r="0.65"/><circle cx="1370.8" cy="729.9" r="0.65"/><circle cx="1319.6" cy="713.2" r="0.65"/><circle cx="1321.4" cy="692.4" r="0.65"/><circle cx="1284.9" cy="694.0" r="0.65"/><circle cx="1318.0" cy="717.4" r="0.65"/><circle cx="1340.6" cy="719.0" r="0.65"/><circle cx="1263.2" cy="710.8" r="0.65"/><circle cx="1359.5" cy="716.9" r="0.65"/><circle cx="1330.2" cy="702.5" r="0.65"/><circle cx="1263.3" cy="708.7" r="0.65"/><circle cx="1280.3" cy="711.6" r="0.65"/><circle cx="1316.9" cy="722.1" r="0.65"/><circle cx="1287.3" cy="695.4" r="0.65"/><circle cx="1266.1" cy="705.5" r="0.65"/><circle cx="1271.1" cy="703.2" r="0.65"/><circle cx="1328.3" cy="706.3" r="0.65"/><circle cx="1337.4" cy="699.1" r="0.65"/><circle cx="1231.7" cy="702.9" r="0.65"/><circle cx="1337.9" cy="730.2" r="0.65"/><circle cx="1324.9" cy="714.1" r="0.65"/><circle cx="1237.0" cy="704.3" r="0.65"/><circle cx="1273.9" cy="692.9" r="0.65"/><circle cx="1321.8" cy="730.6" r="0.65"/><circle cx="1274.9" cy="697.3" r="0.65"/><circle cx="1314.5" cy="703.7" r="0.65"/><circle cx="1333.1" cy="692.7" r="0.65"/><circle cx="1270.9" cy="710.9" r="0.65"/><circle cx="1291.1" cy="707.6" r="0.65"/><circle cx="1342.0" cy="722.2" r="0.65"/><circle cx="1337.2" cy="729.3" r="0.65"/><circle cx="1349.8" cy="711.4" r="0.65"/><circle cx="1237.9" cy="699.5" r="0.65"/><circle cx="1329.4" cy="706.0" r="0.65"/><circle cx="1342.6" cy="721.2" r="0.65"/><circle cx="1352.0" cy="730.7" r="0.65"/><circle cx="1245.7" cy="707.8" r="0.65"/><circle cx="1343.1" cy="742.4" r="0.65"/><circle cx="1373.4" cy="723.4" r="0.65"/><circle cx="1350.1" cy="713.5" r="0.65"/><circle cx="1260.3" cy="705.5" r="0.65"/><circle cx="1312.4" cy="710.0" r="0.65"/><circle cx="1264.2" cy="709.7" r="0.65"/><circle cx="1320.7" cy="712.4" r="0.65"/><circle cx="1352.8" cy="717.4" r="0.65"/><circle cx="1321.5" cy="734.8" r="0.65"/><circle cx="1255.7" cy="711.8" r="0.65"/><circle cx="1232.1" cy="707.5" r="0.65"/><circle cx="1331.9" cy="727.5" r="0.65"/><circle cx="1329.9" cy="719.2" r="0.65"/><circle cx="1328.5" cy="743.6" r="0.65"/><circle cx="1331.2" cy="736.9" r="0.65"/><circle cx="1319.6" cy="701.7" r="0.65"/></g>
<path d="M1241.5 748.8 1233.0 746.3 1230.0 741.3 1230.0 737.3 1233.0 723.8 1239.0 715.8 1245.5 715.3 1251.5 712.8 1262.0 715.3 1268.0 715.3 1288.0 708.8 1303.5 707.3 1310.5 710.3 1314.0 716.8 1315.5 727.8 1319.0 734.3 1318.5 737.3 1314.0 743.3 1305.5 746.3 1248.5 746.3 1241.5 748.8Z" fill="#0010ff" fill-rule="evenodd"/>
<clipPath id="c15"><path d="M1241.5 748.8 1233.0 746.3 1230.0 741.3 1230.0 737.3 1233.0 723.8 1239.0 715.8 1245.5 715.3 1251.5 712.8 1262.0 715.3 1268.0 715.3 1288.0 708.8 1303.5 707.3 1310.5 710.3 1314.0 716.8 1315.5 727.8 1319.0 734.3 1318.5 737.3 1314.0 743.3 1305.5 746.3 1248.5 746.3 1241.5 748.8Z" clip-rule="evenodd"/></clipPath>
<g clip-path="url(#c15)"><g filter="url(#bl)">
<path d="M1241.0 748.3 1234.0 746.4 1232.1 744.8 1230.6 740.8 1231.5 735.8 1236.4 724.3 1240.0 719.3 1246.5 718.3 1252.5 716.1 1261.5 718.1 1268.5 718.0 1289.5 712.1 1302.5 710.8 1308.4 713.3 1318.8 734.3 1318.3 737.3 1314.0 743.0 1305.5 746.0 1267.5 745.8 1250.0 744.4 1241.0 748.3Z" fill="#0035ff" fill-rule="evenodd"/>
<path d="M1240.5 746.9 1234.5 745.2 1232.2 741.3 1232.9 736.3 1237.0 731.0 1247.0 730.9 1257.0 725.7 1270.0 722.4 1289.5 720.9 1309.5 722.5 1318.6 734.3 1318.1 737.3 1314.5 742.3 1305.0 745.1 1283.0 745.2 1250.5 741.6 1248.0 742.2 1240.5 746.9Z" fill="#005bff" fill-rule="evenodd"/>
<path d="M1300.0 744.3 1285.0 744.0 1266.4 741.3 1262.3 738.3 1261.3 734.8 1262.8 732.3 1266.6 729.8 1279.0 726.4 1295.5 725.6 1310.5 727.7 1317.2 734.8 1316.4 738.3 1314.8 740.3 1311.5 742.0 1300.0 744.3ZM1241.5 745.4 1236.5 745.2 1233.8 742.8 1233.4 738.3 1236.5 734.0 1241.5 733.9 1245.4 737.3 1245.7 741.8 1241.5 745.4Z" fill="#009aff" fill-rule="evenodd"/>
<path d="M1301.5 743.3 1290.0 743.3 1276.1 741.3 1270.9 738.3 1269.7 735.3 1271.5 732.8 1276.6 730.3 1292.0 728.1 1308.5 730.1 1311.5 731.1 1315.1 734.8 1314.8 737.8 1313.0 740.1 1307.5 742.3 1301.5 743.3ZM1241.0 744.6 1237.0 744.4 1234.6 742.3 1234.2 738.8 1236.5 735.7 1240.5 735.3 1243.6 737.8 1243.8 742.3 1241.0 744.6Z" fill="#00d5f9" fill-rule="evenodd"/>
<path d="M1298.5 742.8 1282.4 741.3 1276.8 738.3 1276.0 735.3 1278.0 733.3 1282.0 731.6 1294.0 730.1 1306.5 731.6 1313.5 735.3 1312.9 738.3 1311.0 739.9 1305.5 742.0 1298.5 742.8ZM1240.0 743.8 1237.0 743.4 1235.4 741.8 1235.2 738.8 1237.5 736.6 1240.5 736.7 1242.6 738.8 1242.5 742.0 1240.0 743.8Z" fill="#00ffd3" fill-rule="evenodd"/>
<path d="M1303.0 741.8 1295.0 742.2 1286.7 741.3 1281.5 739.1 1280.0 736.3 1281.5 734.3 1284.5 732.9 1294.5 731.5 1305.0 732.6 1311.2 735.8 1311.6 737.3 1310.8 738.8 1303.0 741.8ZM1239.5 742.9 1236.3 741.3 1236.4 739.3 1238.0 737.8 1240.0 737.9 1241.5 739.6 1241.1 741.8 1239.5 742.9Z" fill="#00ff60" fill-rule="evenodd"/>
<path d="M1302.5 741.3 1289.0 741.0 1284.5 739.3 1282.7 736.8 1286.4 733.8 1294.5 732.4 1303.5 733.2 1309.1 735.8 1309.7 737.3 1308.9 738.8 1302.5 741.3ZM1239.5 740.8 1238.2 740.8 1238.3 739.8 1239.5 739.8 1239.5 740.8Z" fill="#66ff13" fill-rule="evenodd"/>
<path d="M1301.5 740.9 1290.0 740.5 1285.9 738.8 1284.9 736.8 1288.3 734.3 1295.5 733.2 1303.0 733.9 1307.7 736.3 1307.2 738.8 1301.5 740.9Z" fill="#c9ff00" fill-rule="evenodd"/>
<path d="M1301.0 740.4 1291.0 740.1 1287.8 738.8 1286.8 736.8 1289.7 734.8 1295.5 733.9 1302.0 734.4 1306.0 736.3 1306.4 737.8 1305.5 738.8 1301.0 740.4Z" fill="#f8d500" fill-rule="evenodd"/>
<path d="M1301.0 739.8 1292.6 739.8 1289.7 738.8 1288.5 737.3 1290.5 735.4 1295.0 734.5 1300.5 734.8 1304.4 736.3 1304.5 738.3 1301.0 739.8Z" fill="#ff6d00" fill-rule="evenodd"/>
<path d="M1300.0 739.4 1293.2 739.3 1290.2 737.3 1291.8 735.8 1296.0 735.1 1300.5 735.4 1303.2 736.8 1302.9 738.3 1300.0 739.4Z" fill="#ff0000" fill-rule="evenodd"/>
</g></g>
<path d="M1214.5,581.3 H1383.0 V748.3" fill="none" stroke="#8a8a8a" stroke-width="1.1"/>
<path d="M1214.5,581.3 V748.3 H1383.0" fill="none" stroke="#333" stroke-width="1.3"/>
<path d="M1214.5,747.5h-5 M1214.5,741.1h-2.6 M1214.5,734.8h-2.6 M1214.5,728.4h-2.6 M1214.5,722.0h-2.6 M1214.5,715.6h-4 M1214.5,709.2h-2.6 M1214.5,702.9h-2.6 M1214.5,696.5h-2.6 M1214.5,690.1h-2.6 M1214.5,683.8h-5 M1214.5,677.4h-2.6 M1214.5,671.0h-2.6 M1214.5,664.6h-2.6 M1214.5,658.2h-2.6 M1214.5,651.9h-4 M1214.5,645.5h-2.6 M1214.5,639.1h-2.6 M1214.5,632.8h-2.6 M1214.5,626.4h-2.6 M1214.5,620.0h-5 M1214.5,613.6h-2.6 M1214.5,607.2h-2.6 M1214.5,600.9h-2.6 M1214.5,594.5h-2.6 M1214.5,588.1h-4 M1214.5,581.8h-2.6" stroke="#333" stroke-width="1.1" fill="none"/>
<path d="M1273.3,748.3v2.6 M1276.9,748.3v2.6 M1279.4,748.3v2.6 M1281.4,748.3v2.6 M1283.0,748.3v2.6 M1284.4,748.3v2.6 M1285.5,748.3v2.6 M1286.6,748.3v2.6 M1293.6,748.3v2.6 M1297.2,748.3v2.6 M1299.7,748.3v2.6 M1301.7,748.3v2.6 M1303.3,748.3v2.6 M1304.6,748.3v2.6 M1305.8,748.3v2.6 M1306.8,748.3v2.6 M1313.8,748.3v2.6 M1317.4,748.3v2.6 M1319.9,748.3v2.6 M1321.9,748.3v2.6 M1323.5,748.3v2.6 M1324.9,748.3v2.6 M1326.0,748.3v2.6 M1327.1,748.3v2.6 M1334.1,748.3v2.6 M1337.7,748.3v2.6 M1340.2,748.3v2.6 M1342.2,748.3v2.6 M1343.8,748.3v2.6 M1345.1,748.3v2.6 M1346.3,748.3v2.6 M1347.3,748.3v2.6 M1287.5,748.3v5 M1307.8,748.3v5 M1328.0,748.3v5 M1229.5,748.3v5" stroke="#333" stroke-width="1.1" fill="none"/>
<path d="M1222.0,748.3v3.1 M1223.5,748.3v3.3 M1225.1,748.3v3.2 M1226.8,748.3v2.2 M1228.1,748.3v3.5 M1229.5,748.3v3.5 M1230.5,748.3v2.8 M1231.6,748.3v2.9 M1232.9,748.3v2.2 M1234.0,748.3v2.6 M1235.6,748.3v3.3 M1236.7,748.3v3.3 M1237.7,748.3v3.0 M1238.7,748.3v2.2" stroke="#222" stroke-width="0.9" fill="none"/>
<rect x="1229.0" y="748.3" width="4" height="4.2" fill="#111"/>
<path d="M1245.9,748.3 V629.1 H1337.5 V748.3" fill="none" stroke="#222" stroke-width="1.4"/>
<text x="1277.9" y="625.5" font-size="17.93" fill="#000">CD45</text>
<text x="1164.8" y="624.5" font-size="18.44" fill="#000">200K</text>
<text x="1164.8" y="690.0" font-size="18.44" fill="#000">100K</text>
<text x="1196.4" y="754.5" font-size="16.16" fill="#000">0</text>
<text x="1223.9" y="771.2" font-size="16.16" fill="#000">0</text>
<text x="1275.0" y="771.2" font-size="17.50" fill="#000">10<tspan font-size="10.5" dy="-6.3">2</tspan></text>
<text x="1318.0" y="771.2" font-size="17.50" fill="#000">10<tspan font-size="10.5" dy="-6.3">4</tspan></text>
<text transform="translate(1157.0,703.9) rotate(-90)" x="0.0" y="0" font-size="22.47" fill="#000">SSC-A</text>
<text x="1246.6" y="576.2" font-size="22.55" fill="#000">CD45<tspan font-size="13.5" dy="-8.1">+</tspan><tspan dy="8.1"> cells</tspan></text>
<path d="M971.5 853.6 969.5 852.1 970.5 850.6 972.5 851.6 971.5 853.6ZM979.0 973.6 973.5 973.6 961.5 971.1 951.5 963.6 945.0 949.1 943.5 930.1 946.5 920.6 946.5 911.1 947.5 909.6 952.0 907.6 950.5 897.6 957.0 889.1 954.0 881.6 955.0 866.1 956.5 864.6 975.5 862.1 978.0 861.1 982.0 856.1 984.5 855.1 988.5 855.1 998.5 861.1 1002.5 868.1 1004.0 879.1 1008.5 888.6 1009.5 900.6 1012.0 909.1 1013.0 912.1 1019.0 918.6 1018.0 928.1 1023.0 937.6 1023.0 946.1 1022.0 947.1 1017.5 947.1 1013.0 957.6 1003.0 963.1 993.5 971.6 979.0 973.6Z" fill="#0010ff" fill-rule="evenodd"/>
<clipPath id="c16"><path d="M971.5 853.6 969.5 852.1 970.5 850.6 972.5 851.6 971.5 853.6ZM979.0 973.6 973.5 973.6 961.5 971.1 951.5 963.6 945.0 949.1 943.5 930.1 946.5 920.6 946.5 911.1 947.5 909.6 952.0 907.6 950.5 897.6 957.0 889.1 954.0 881.6 955.0 866.1 956.5 864.6 975.5 862.1 978.0 861.1 982.0 856.1 984.5 855.1 988.5 855.1 998.5 861.1 1002.5 868.1 1004.0 879.1 1008.5 888.6 1009.5 900.6 1012.0 909.1 1013.0 912.1 1019.0 918.6 1018.0 928.1 1023.0 937.6 1023.0 946.1 1022.0 947.1 1017.5 947.1 1013.0 957.6 1003.0 963.1 993.5 971.6 979.0 973.6Z" clip-rule="evenodd"/></clipPath>
<g clip-path="url(#c16)"><g filter="url(#bl)">
<path d="M978.5 972.8 974.0 972.7 962.0 969.5 953.0 962.1 946.9 948.1 946.5 931.1 949.5 921.1 950.2 913.1 953.9 910.6 955.4 908.1 954.5 899.1 960.7 889.6 960.7 887.1 958.1 880.1 959.1 869.1 978.0 865.1 980.5 863.8 984.0 859.7 987.0 859.1 996.0 864.4 998.8 869.6 1000.6 880.1 1004.6 890.1 1005.5 901.1 1008.2 910.1 1009.7 914.1 1015.1 920.1 1014.6 928.6 1019.3 939.1 1019.3 943.1 1016.2 944.1 1014.3 946.1 1010.0 956.5 993.2 970.1 978.5 972.8Z" fill="#0035ff" fill-rule="evenodd"/>
<path d="M982.0 969.6 975.0 969.9 965.5 967.5 962.5 966.4 956.2 961.1 950.5 949.6 949.3 938.6 950.5 928.9 959.5 913.4 964.3 900.1 969.1 891.1 973.7 883.6 980.4 875.6 985.0 873.6 989.0 875.0 991.1 878.1 992.9 889.6 993.3 905.1 996.9 913.6 1007.4 931.1 1009.4 938.1 1009.9 945.1 1008.0 953.8 991.5 967.7 982.0 969.6Z" fill="#005bff" fill-rule="evenodd"/>
<path d="M981.5 967.1 972.0 966.3 963.5 961.6 957.5 953.6 955.2 943.6 955.7 937.6 957.6 931.1 971.8 902.6 976.5 897.9 979.5 896.7 981.5 897.4 982.9 899.1 988.7 912.6 998.7 930.1 1000.8 936.1 1001.7 942.6 1000.5 951.1 996.4 958.6 989.5 964.4 981.5 967.1Z" fill="#009aff" fill-rule="evenodd"/>
<path d="M980.5 962.6 973.0 961.7 966.4 957.6 961.8 951.1 959.9 942.6 960.8 934.1 964.3 926.1 972.5 913.9 975.5 911.1 978.0 910.3 983.0 913.2 991.8 925.1 995.5 932.6 997.1 940.6 996.2 948.6 993.0 955.2 987.5 960.2 980.5 962.6Z" fill="#00d5f9" fill-rule="evenodd"/>
<path d="M981.5 959.2 975.0 958.9 969.1 955.6 965.1 950.1 963.1 942.6 963.6 934.6 966.2 928.1 972.0 920.3 977.5 917.1 982.5 918.7 988.0 924.2 992.2 931.1 994.0 938.6 993.7 945.6 991.2 952.1 987.0 956.7 981.5 959.2Z" fill="#00ffd3" fill-rule="evenodd"/>
<path d="M981.5 956.7 976.0 956.6 971.0 953.9 967.1 948.6 965.4 942.1 965.6 935.6 967.7 929.6 972.5 923.6 977.5 921.1 982.0 922.1 986.5 925.8 990.0 931.1 991.8 937.6 991.7 944.1 989.9 949.6 986.4 954.1 981.5 956.7Z" fill="#00ff60" fill-rule="evenodd"/>
<path d="M981.0 954.7 976.5 954.6 972.0 952.1 968.8 947.6 967.2 942.1 967.4 935.6 969.4 930.1 973.5 925.6 977.5 923.8 981.5 924.5 985.6 927.6 988.7 932.1 990.2 937.6 990.0 943.6 988.3 948.6 985.1 952.6 981.0 954.7Z" fill="#66ff13" fill-rule="evenodd"/>
<path d="M979.0 953.1 975.0 952.1 971.5 949.1 969.3 944.6 968.6 939.6 969.2 934.6 971.3 930.1 975.0 926.9 978.5 925.9 982.5 927.2 985.8 930.1 988.1 934.6 988.9 939.6 988.3 944.6 986.1 949.1 983.0 952.0 979.0 953.1Z" fill="#c9ff00" fill-rule="evenodd"/>
<path d="M981.0 951.1 977.5 951.3 974.1 949.6 971.5 946.3 970.1 942.1 970.1 937.1 971.5 932.6 974.0 929.5 977.5 927.9 981.0 928.2 984.0 930.2 986.3 933.6 987.4 937.6 987.4 942.1 986.3 946.1 984.0 949.3 981.0 951.1Z" fill="#f8d500" fill-rule="evenodd"/>
<path d="M980.5 949.6 977.5 949.7 974.5 948.0 972.4 945.1 971.3 941.1 971.5 936.6 972.8 933.1 975.0 930.6 978.0 929.4 981.0 929.9 983.4 931.6 986.2 938.1 985.0 945.6 983.0 948.2 980.5 949.6Z" fill="#ff6d00" fill-rule="evenodd"/>
<path d="M980.0 948.1 977.5 948.0 975.1 946.6 972.6 941.1 973.6 934.6 975.5 932.1 978.0 931.1 982.5 932.7 985.1 938.6 984.0 944.7 980.0 948.1Z" fill="#ff0000" fill-rule="evenodd"/>
</g></g>
<path d="M925.0,820.6 H1093.5 V988.3" fill="none" stroke="#8a8a8a" stroke-width="1.1"/>
<path d="M925.0,820.6 V988.3 H1093.5" fill="none" stroke="#333" stroke-width="1.3"/>
<path d="M925.0,825.8h-2.6 M925.0,835.4h-2.6 M925.0,842.2h-2.6 M925.0,847.4h-2.6 M925.0,851.7h-2.6 M925.0,855.3h-2.6 M925.0,858.5h-2.6 M925.0,861.3h-2.6 M925.0,880.1h-2.6 M925.0,889.6h-2.6 M925.0,896.4h-2.6 M925.0,901.7h-2.6 M925.0,906.0h-2.6 M925.0,909.6h-2.6 M925.0,912.7h-2.6 M925.0,915.5h-2.6 M925.0,934.3h-2.6 M925.0,943.9h-2.6 M925.0,950.7h-2.6 M925.0,955.9h-2.6 M925.0,960.2h-2.6 M925.0,963.8h-2.6 M925.0,967.0h-2.6 M925.0,969.8h-2.6 M925.0,863.8h-5 M925.0,918.0h-5" stroke="#333" stroke-width="1.1" fill="none"/>
<path d="M985.5,988.3v2.6 M994.3,988.3v2.6 M1000.7,988.3v2.6 M1005.5,988.3v2.6 M1009.5,988.3v2.6 M1012.9,988.3v2.6 M1015.9,988.3v2.6 M1018.4,988.3v2.6 M1036.0,988.3v2.6 M1044.8,988.3v2.6 M1051.2,988.3v2.6 M1056.0,988.3v2.6 M1060.0,988.3v2.6 M1063.4,988.3v2.6 M1066.4,988.3v2.6 M1068.9,988.3v2.6 M1086.5,988.3v2.6 M1020.8,988.3v5 M1071.2,988.3v5 M951.2,988.3v5" stroke="#333" stroke-width="1.1" fill="none"/>
<path d="M932.0,988.3v3.3 M933.6,988.3v2.9 M934.7,988.3v2.2 M936.1,988.3v2.8 M937.6,988.3v2.7 M939.1,988.3v2.6 M940.7,988.3v3.2 M941.9,988.3v2.9 M943.3,988.3v2.4 M944.7,988.3v3.3 M945.8,988.3v3.3 M947.2,988.3v3.4 M948.4,988.3v2.3 M950.0,988.3v3.3 M951.2,988.3v2.3 M952.3,988.3v3.1 M953.4,988.3v3.5 M954.8,988.3v2.4 M956.2,988.3v2.7 M957.8,988.3v3.5" stroke="#222" stroke-width="0.9" fill="none"/>
<rect x="943.0" y="988.3" width="4" height="4.2" fill="#111"/>
<path d="M925.0,930.0h-2.6 M925.0,931.0h-3.1 M925.0,932.0h-2.9 M925.0,933.2h-2.2 M925.0,934.5h-2.2 M925.0,935.7h-2.3 M925.0,936.7h-2.8 M925.0,938.3h-2.3 M925.0,939.3h-3.1 M925.0,941.0h-3.0 M925.0,942.2h-3.6 M925.0,943.1h-3.4" stroke="#222" stroke-width="0.9" fill="none"/>
<rect x="920.8" y="935.0" width="4.2" height="4" fill="#111"/>
<rect x="984.70" y="849.30" width="51.80" height="69.80" fill="none" stroke="#222" stroke-width="1.4"/>
<text x="1030.7" y="842.2" font-size="18.10" fill="#000">Treg</text>
<text x="893.0" y="872.5" font-size="17.50" fill="#000">10<tspan font-size="10.5" dy="-6.3">4</tspan></text>
<text x="893.0" y="926.2" font-size="17.50" fill="#000">10<tspan font-size="10.5" dy="-6.3">3</tspan></text>
<text x="945.5" y="1010.5" font-size="17.58" fill="#000">0</text>
<text x="1007.5" y="1010.5" font-size="17.50" fill="#000">10<tspan font-size="10.5" dy="-6.3">3</tspan></text>
<text x="1061.2" y="1010.5" font-size="17.50" fill="#000">10<tspan font-size="10.5" dy="-6.3">4</tspan></text>
<text x="950.4" y="1032.0" font-size="22.38" fill="#000">CD25-APC</text>
<text transform="translate(887.5,957.9) rotate(-90)" x="0.0" y="0" font-size="22.25" fill="#000">Foxp3-PE</text>
<path d="M1309.8 975.6 1298.8 974.6 1269.3 975.6 1256.3 974.1 1239.8 970.1 1235.8 966.6 1232.3 962.1 1230.8 950.6 1234.3 941.6 1241.3 930.1 1241.3 928.6 1235.8 921.6 1233.8 914.1 1233.8 911.1 1236.8 901.6 1239.8 898.6 1247.8 893.1 1263.3 891.6 1278.3 893.6 1291.3 897.1 1305.3 903.6 1306.8 905.1 1310.8 912.6 1308.8 927.1 1309.3 931.1 1313.3 935.1 1323.8 939.6 1328.3 944.1 1331.3 947.6 1333.3 955.1 1331.3 965.1 1328.8 967.6 1322.3 972.1 1309.8 975.6Z" fill="#0010ff" fill-rule="evenodd"/>
<clipPath id="c17"><path d="M1309.8 975.6 1298.8 974.6 1269.3 975.6 1256.3 974.1 1239.8 970.1 1235.8 966.6 1232.3 962.1 1230.8 950.6 1234.3 941.6 1241.3 930.1 1241.3 928.6 1235.8 921.6 1233.8 914.1 1233.8 911.1 1236.8 901.6 1239.8 898.6 1247.8 893.1 1263.3 891.6 1278.3 893.6 1291.3 897.1 1305.3 903.6 1306.8 905.1 1310.8 912.6 1308.8 927.1 1309.3 931.1 1313.3 935.1 1323.8 939.6 1328.3 944.1 1331.3 947.6 1333.3 955.1 1331.3 965.1 1328.8 967.6 1322.3 972.1 1309.8 975.6Z" clip-rule="evenodd"/></clipPath>
<g clip-path="url(#c17)"><g filter="url(#bl)">
<path d="M1282.8 974.6 1269.8 974.9 1247.8 972.1 1238.8 969.2 1232.5 962.1 1231.0 950.6 1234.8 941.6 1239.7 936.1 1242.2 930.1 1241.8 928.4 1236.2 921.6 1234.3 911.1 1238.3 902.1 1246.8 896.3 1261.8 893.9 1277.3 895.7 1293.3 900.5 1304.0 906.1 1308.2 913.6 1306.3 927.1 1307.2 932.1 1312.3 936.5 1323.8 940.8 1331.0 947.6 1333.1 955.1 1331.5 963.6 1328.8 967.2 1323.3 970.9 1308.8 974.4 1282.8 974.6Z" fill="#0035ff" fill-rule="evenodd"/>
<path d="M1282.8 972.1 1270.8 972.5 1248.8 970.0 1239.3 967.4 1232.7 962.1 1231.3 950.6 1242.7 938.1 1245.9 931.6 1244.8 927.4 1238.9 920.6 1237.0 912.1 1241.0 903.6 1248.3 898.8 1261.8 896.9 1276.3 898.5 1290.8 903.0 1299.2 907.6 1302.2 912.1 1303.0 916.6 1301.9 921.1 1298.1 928.6 1298.4 931.1 1310.3 938.8 1323.8 944.2 1328.7 947.6 1332.3 953.1 1332.8 957.6 1330.3 963.0 1327.8 965.4 1321.8 968.6 1308.3 971.8 1282.8 972.1Z" fill="#005bff" fill-rule="evenodd"/>
<path d="M1268.8 928.6 1256.8 928.3 1245.8 924.2 1240.9 918.1 1239.8 912.6 1241.3 909.1 1248.8 903.7 1260.3 901.1 1272.3 902.1 1282.3 906.4 1285.7 909.6 1287.3 912.6 1287.7 916.1 1286.6 919.1 1283.8 922.4 1279.8 925.1 1268.8 928.6ZM1286.8 970.1 1266.8 970.2 1253.8 968.8 1241.3 965.9 1234.6 961.1 1232.9 956.6 1233.0 953.1 1235.5 949.1 1239.8 945.0 1259.3 941.4 1277.8 940.4 1300.8 941.9 1320.8 945.5 1326.5 949.1 1329.4 954.1 1329.9 956.6 1327.6 962.1 1320.3 966.6 1308.3 969.4 1286.8 970.1Z" fill="#009aff" fill-rule="evenodd"/>
<path d="M1267.3 923.7 1258.3 923.6 1250.8 920.8 1246.9 916.1 1247.8 911.1 1252.8 907.2 1260.3 905.3 1268.3 905.7 1275.3 908.5 1279.0 912.6 1278.8 917.1 1274.8 921.1 1267.3 923.7ZM1291.3 968.1 1265.3 968.0 1244.3 964.5 1241.3 963.6 1237.3 960.5 1235.6 955.6 1236.1 952.6 1237.3 950.8 1240.3 949.4 1253.3 946.0 1267.3 944.3 1282.8 944.0 1298.8 945.2 1312.3 947.6 1321.9 951.1 1326.3 955.1 1326.5 957.1 1325.3 959.2 1318.3 963.2 1306.3 966.3 1291.3 968.1Z" fill="#00d5f9" fill-rule="evenodd"/>
<path d="M1265.3 919.1 1260.3 919.1 1256.3 917.6 1254.4 915.1 1254.9 912.6 1257.4 910.6 1261.3 909.6 1265.3 909.8 1269.0 911.1 1271.0 913.1 1271.1 915.6 1268.8 917.9 1265.3 919.1ZM1287.8 966.1 1268.8 966.1 1253.3 964.0 1242.9 960.1 1240.7 958.1 1240.2 955.6 1243.8 951.9 1252.3 948.8 1263.3 946.9 1276.3 946.2 1291.8 946.9 1304.3 948.8 1313.8 951.9 1317.9 955.6 1316.5 959.1 1310.8 962.1 1299.8 964.9 1287.8 966.1Z" fill="#00ffd3" fill-rule="evenodd"/>
<path d="M1292.3 964.1 1272.8 964.6 1259.3 963.3 1249.1 960.1 1246.5 958.1 1245.9 955.6 1248.6 952.6 1254.8 950.0 1263.3 948.4 1273.3 947.9 1298.3 949.8 1306.9 952.6 1310.4 955.6 1309.9 958.1 1306.1 960.6 1292.3 964.1Z" fill="#00ff60" fill-rule="evenodd"/>
<path d="M1278.3 963.1 1266.8 963.0 1257.8 961.6 1251.8 959.1 1250.2 957.6 1249.7 955.6 1251.8 953.1 1256.8 950.9 1272.3 949.1 1295.8 951.0 1301.6 953.1 1304.4 956.1 1302.9 959.1 1296.8 962.0 1278.3 963.1Z" fill="#66ff13" fill-rule="evenodd"/>
<path d="M1273.8 962.1 1265.3 961.8 1258.3 960.5 1253.6 958.1 1252.6 955.6 1254.3 953.4 1258.8 951.4 1271.3 950.0 1294.3 952.0 1298.7 953.6 1300.9 956.1 1299.7 959.1 1294.8 961.3 1273.8 962.1Z" fill="#c9ff00" fill-rule="evenodd"/>
<path d="M1274.3 961.1 1260.3 960.0 1256.1 958.1 1254.9 955.6 1256.5 953.6 1260.3 952.0 1271.3 950.8 1293.8 953.0 1297.5 954.6 1298.8 956.6 1297.3 959.1 1293.3 960.6 1274.3 961.1Z" fill="#f8d500" fill-rule="evenodd"/>
<path d="M1275.3 960.1 1262.3 959.6 1258.3 958.0 1256.9 955.6 1261.3 952.6 1270.8 951.5 1283.8 953.8 1292.8 953.8 1295.8 955.0 1296.9 956.6 1295.9 958.6 1292.8 959.8 1282.8 959.0 1275.3 960.1Z" fill="#ff6d00" fill-rule="evenodd"/>
<path d="M1272.3 959.6 1262.3 958.7 1259.3 957.1 1258.8 955.6 1262.5 953.1 1270.3 952.2 1277.3 953.3 1282.9 956.1 1278.8 958.3 1272.3 959.6ZM1293.3 958.6 1288.8 958.7 1284.3 956.6 1287.8 955.0 1292.3 954.8 1295.1 956.6 1293.3 958.6Z" fill="#ff0000" fill-rule="evenodd"/>
</g></g>
<path d="M1212.3,820.6 H1381.0 V988.3" fill="none" stroke="#8a8a8a" stroke-width="1.1"/>
<path d="M1212.3,820.6 V988.3 H1381.0" fill="none" stroke="#333" stroke-width="1.3"/>
<path d="M1212.3,825.2h-2.6 M1212.3,829.4h-2.6 M1212.3,833.0h-2.6 M1212.3,836.1h-2.6 M1212.3,838.8h-2.6 M1212.3,857.3h-2.6 M1212.3,866.7h-2.6 M1212.3,873.3h-2.6 M1212.3,878.5h-2.6 M1212.3,882.7h-2.6 M1212.3,886.3h-2.6 M1212.3,889.3h-2.6 M1212.3,892.1h-2.6 M1212.3,910.5h-2.6 M1212.3,919.9h-2.6 M1212.3,926.6h-2.6 M1212.3,931.7h-2.6 M1212.3,935.9h-2.6 M1212.3,939.5h-2.6 M1212.3,942.6h-2.6 M1212.3,945.3h-2.6 M1212.3,841.2h-5 M1212.3,894.5h-5 M1212.3,957.0h-5" stroke="#333" stroke-width="1.1" fill="none"/>
<path d="M1279.7,988.3v2.6 M1288.9,988.3v2.6 M1295.5,988.3v2.6 M1300.5,988.3v2.6 M1304.7,988.3v2.6 M1308.2,988.3v2.6 M1311.2,988.3v2.6 M1313.9,988.3v2.6 M1332.0,988.3v2.6 M1341.2,988.3v2.6 M1347.7,988.3v2.6 M1352.8,988.3v2.6 M1356.9,988.3v2.6 M1360.4,988.3v2.6 M1363.4,988.3v2.6 M1366.1,988.3v2.6 M1316.2,988.3v5 M1368.5,988.3v5 M1268.0,988.3v5" stroke="#333" stroke-width="1.1" fill="none"/>
<path d="M1255.0,988.3v2.5 M1256.7,988.3v2.3 M1258.1,988.3v2.3 M1259.2,988.3v3.6 M1260.3,988.3v3.1 M1261.6,988.3v2.8 M1262.9,988.3v2.4 M1264.4,988.3v2.3 M1265.5,988.3v2.2 M1266.6,988.3v2.7 M1268.2,988.3v2.7 M1269.2,988.3v2.5 M1270.9,988.3v2.3 M1272.3,988.3v2.7 M1273.8,988.3v2.6 M1275.2,988.3v2.9 M1276.6,988.3v3.5" stroke="#222" stroke-width="0.9" fill="none"/>
<rect x="1264.0" y="988.3" width="4" height="4.2" fill="#111"/>
<path d="M1212.3,948.0h-2.8 M1212.3,949.2h-2.4 M1212.3,950.8h-2.2 M1212.3,952.1h-3.5 M1212.3,953.1h-3.0 M1212.3,954.5h-2.2 M1212.3,955.7h-3.2 M1212.3,956.9h-3.2 M1212.3,957.9h-2.5 M1212.3,958.9h-2.9 M1212.3,960.6h-3.0 M1212.3,962.1h-2.7 M1212.3,963.6h-2.3 M1212.3,964.7h-3.1" stroke="#222" stroke-width="0.9" fill="none"/>
<rect x="1208.1" y="955.0" width="4.2" height="4" fill="#111"/>
<rect x="1230.50" y="891.30" width="63.00" height="51.10" fill="none" stroke="#222" stroke-width="1.3"/>
<rect x="1294.00" y="942.40" width="30.60" height="34.60" fill="none" stroke="#222" stroke-width="1.3"/>
<text x="1243.2" y="885.6" font-size="17.71" fill="#000">CD8</text>
<text x="1341.7" y="964.6" font-size="17.51" fill="#000">CD4</text>
<text x="1180.5" y="850.0" font-size="17.50" fill="#000">10<tspan font-size="10.5" dy="-6.3">4</tspan></text>
<text x="1180.5" y="903.0" font-size="17.50" fill="#000">10<tspan font-size="10.5" dy="-6.3">3</tspan></text>
<text x="1192.4" y="964.5" font-size="15.68" fill="#000">0</text>
<text x="1263.1" y="1011.2" font-size="16.63" fill="#000">0</text>
<text x="1310.0" y="1011.2" font-size="17.50" fill="#000">10<tspan font-size="10.5" dy="-6.3">3</tspan></text>
<text x="1216.1" y="1030.0" font-size="22.09" fill="#000">CD4-APC/Cy7</text>
<text transform="translate(1172.5,997.1) rotate(-90)" x="0.0" y="0" font-size="22.26" fill="#000">CD8a-PerCP/Cy5</text>
<line x1="815.00" y1="669.50" x2="826.50" y2="669.50" stroke="#000" stroke-width="2.6"/>
<path d="M824.5,661.5 L846.0,669.5 L824.5,677.5 Z" fill="#111"/>
<line x1="1098.75" y1="668.75" x2="1110.50" y2="668.75" stroke="#000" stroke-width="2.6"/>
<path d="M1108.5,660.8 L1130.0,668.8 L1108.5,676.8 Z" fill="#111"/>
<line x1="1287.50" y1="782.50" x2="1287.50" y2="794.50" stroke="#000" stroke-width="2.6"/>
<path d="M1278.8,792.5 L1287.5,812.5 L1296.2,792.5 Z" fill="#111"/>
<line x1="1122.00" y1="907.00" x2="1133.75" y2="907.00" stroke="#000" stroke-width="2.6"/>
<path d="M1124.0,899.0 L1102.5,907.0 L1124.0,915.0 Z" fill="#111"/>
<path d="M152.5 1173.6 148.5 1173.6 140.0 1171.1 133.0 1166.6 128.0 1161.6 126.0 1156.6 126.0 1150.6 129.0 1143.6 131.5 1141.1 140.5 1137.6 151.0 1137.1 167.0 1140.1 171.5 1144.6 173.0 1148.1 173.0 1157.1 169.5 1164.1 167.5 1166.6 159.5 1171.6 152.5 1173.6Z" fill="#0010ff" fill-rule="evenodd"/>
<clipPath id="c18"><path d="M152.5 1173.6 148.5 1173.6 140.0 1171.1 133.0 1166.6 128.0 1161.6 126.0 1156.6 126.0 1150.6 129.0 1143.6 131.5 1141.1 140.5 1137.6 151.0 1137.1 167.0 1140.1 171.5 1144.6 173.0 1148.1 173.0 1157.1 169.5 1164.1 167.5 1166.6 159.5 1171.6 152.5 1173.6Z" clip-rule="evenodd"/></clipPath>
<g clip-path="url(#c18)"><g filter="url(#bl)">
<path d="M151.5 1172.2 145.5 1171.2 137.5 1168.2 129.5 1161.1 127.5 1156.1 127.4 1151.6 129.6 1146.1 132.0 1142.7 141.0 1139.1 150.0 1138.5 166.5 1141.7 169.9 1145.1 171.6 1149.1 171.6 1156.1 168.1 1163.6 167.0 1165.2 159.0 1170.1 151.5 1172.2Z" fill="#0039ff" fill-rule="evenodd"/>
<path d="M152.0 1170.2 149.5 1170.4 141.0 1168.0 131.9 1161.6 129.2 1155.6 129.1 1152.1 133.0 1144.2 141.5 1140.8 149.5 1140.1 161.5 1142.3 167.4 1144.6 169.9 1149.6 170.0 1155.6 166.7 1162.6 158.0 1168.7 152.0 1170.2Z" fill="#0068ff" fill-rule="evenodd"/>
<path d="M151.5 1168.6 141.0 1166.2 133.0 1160.2 130.8 1155.1 130.8 1152.6 133.9 1145.6 142.0 1142.4 149.0 1141.7 166.0 1145.5 168.1 1149.6 168.3 1155.1 165.3 1161.6 157.0 1167.4 151.5 1168.6Z" fill="#00acff" fill-rule="evenodd"/>
<path d="M151.0 1167.1 141.5 1164.7 134.3 1159.1 132.5 1152.6 135.0 1147.0 142.5 1143.9 149.0 1143.3 158.0 1144.8 165.0 1147.1 166.5 1150.1 166.6 1155.1 163.7 1161.1 156.5 1165.8 151.0 1167.1Z" fill="#00e9f0" fill-rule="evenodd"/>
<path d="M150.5 1165.6 141.5 1163.0 135.5 1158.1 134.1 1153.1 136.0 1148.4 142.5 1145.6 149.0 1144.8 158.0 1146.3 164.0 1148.5 165.0 1154.6 162.4 1160.1 155.5 1164.5 150.5 1165.6Z" fill="#00ff9a" fill-rule="evenodd"/>
<path d="M152.5 1163.7 150.5 1164.1 143.0 1162.1 138.0 1158.5 135.6 1154.1 137.2 1149.6 143.0 1146.9 149.0 1146.1 154.5 1146.9 162.8 1149.6 163.4 1154.6 161.2 1159.1 152.5 1163.7Z" fill="#3bff31" fill-rule="evenodd"/>
<path d="M152.5 1162.2 150.5 1162.6 143.5 1160.9 139.0 1157.5 137.5 1154.1 139.5 1150.1 143.0 1148.3 149.0 1147.3 154.5 1148.1 160.8 1150.6 161.4 1154.6 160.0 1158.0 152.5 1162.2Z" fill="#acff00" fill-rule="evenodd"/>
<path d="M150.5 1159.7 145.0 1159.5 141.5 1156.6 141.9 1152.6 145.5 1149.4 151.5 1148.5 155.0 1149.6 156.7 1151.6 157.0 1154.1 155.8 1156.6 150.5 1159.7Z" fill="#f4e200" fill-rule="evenodd"/>
<path d="M148.5 1158.1 144.3 1156.6 144.1 1153.1 148.0 1150.3 153.0 1150.8 154.4 1152.6 154.1 1155.1 152.0 1157.1 148.5 1158.1Z" fill="#ff7900" fill-rule="evenodd"/>
<path d="M150.0 1156.1 146.5 1155.7 146.4 1153.1 149.0 1151.8 151.5 1152.3 152.0 1154.5 150.0 1156.1Z" fill="#ff0000" fill-rule="evenodd"/>
</g></g>
<g fill="#aaa"><circle cx="126.0" cy="1148.0" r="0.6"/><circle cx="129.0" cy="1148.0" r="0.6"/><circle cx="144.0" cy="1181.0" r="0.6"/><circle cx="157.0" cy="1181.0" r="0.6"/><circle cx="128.0" cy="1167.0" r="0.6"/></g>
<path d="M90.5,1103.6 H230.0 V1242.5" fill="none" stroke="#8a8a8a" stroke-width="1.1"/>
<path d="M90.5,1103.6 V1242.5 H230.0" fill="none" stroke="#333" stroke-width="1.3"/>
<path d="M90.5,1103.6h-1.8 M90.5,1106.3h-1.8 M90.5,1108.6h-1.8 M90.5,1110.4h-1.8 M90.5,1112.1h-1.8 M90.5,1113.5h-1.8 M90.5,1123.3h-1.8 M90.5,1128.3h-1.8 M90.5,1131.8h-1.8 M90.5,1134.5h-1.8 M90.5,1136.7h-1.8 M90.5,1138.6h-1.8 M90.5,1140.3h-1.8 M90.5,1141.7h-1.8 M90.5,1151.5h-1.8 M90.5,1156.5h-1.8 M90.5,1160.0h-1.8 M90.5,1162.7h-1.8 M90.5,1164.9h-1.8 M90.5,1166.8h-1.8 M90.5,1168.5h-1.8 M90.5,1169.9h-1.8 M90.5,1179.6h-1.8 M90.5,1184.6h-1.8 M90.5,1188.1h-1.8 M90.5,1190.8h-1.8 M90.5,1193.0h-1.8 M90.5,1194.9h-1.8 M90.5,1196.5h-1.8 M90.5,1198.0h-1.8 M90.5,1207.7h-1.8 M90.5,1212.6h-1.8 M90.5,1216.1h-1.8 M90.5,1218.9h-1.8 M90.5,1221.1h-1.8 M90.5,1223.0h-1.8 M90.5,1224.6h-1.8 M90.5,1226.0h-1.8 M90.5,1235.8h-1.8 M90.5,1240.7h-1.8 M90.5,1114.8h-3.5 M90.5,1143.0h-3.5 M90.5,1171.2h-3.5 M90.5,1199.2h-3.5 M90.5,1227.3h-3.5" stroke="#333" stroke-width="1.1" fill="none"/>
<path d="M93.4,1242.5v1.8 M96.2,1242.5v1.8 M98.4,1242.5v1.8 M100.3,1242.5v1.8 M101.9,1242.5v1.8 M103.3,1242.5v1.8 M113.1,1242.5v1.8 M118.1,1242.5v1.8 M121.6,1242.5v1.8 M124.3,1242.5v1.8 M126.6,1242.5v1.8 M128.5,1242.5v1.8 M130.1,1242.5v1.8 M131.6,1242.5v1.8 M141.4,1242.5v1.8 M146.3,1242.5v1.8 M149.9,1242.5v1.8 M152.6,1242.5v1.8 M154.8,1242.5v1.8 M156.7,1242.5v1.8 M158.4,1242.5v1.8 M159.8,1242.5v1.8 M169.5,1242.5v1.8 M174.4,1242.5v1.8 M177.9,1242.5v1.8 M180.6,1242.5v1.8 M182.8,1242.5v1.8 M184.6,1242.5v1.8 M186.3,1242.5v1.8 M187.7,1242.5v1.8 M197.3,1242.5v1.8 M202.2,1242.5v1.8 M205.7,1242.5v1.8 M208.4,1242.5v1.8 M210.6,1242.5v1.8 M212.5,1242.5v1.8 M214.1,1242.5v1.8 M215.5,1242.5v1.8 M225.2,1242.5v1.8 M104.6,1242.5v3.5 M132.8,1242.5v3.5 M161.1,1242.5v3.5 M188.9,1242.5v3.5 M216.8,1242.5v3.5" stroke="#333" stroke-width="1.1" fill="none"/>
<rect x="152.10" y="1123.40" width="25.90" height="26.10" fill="none" stroke="#333" stroke-width="1.2"/>
<text x="186.4" y="1124.1" font-size="17.80" fill="#000">Treg</text>
<text x="64.3" y="1121.6" font-size="15.00" fill="#000">10<tspan font-size="9.0" dy="-5.4">5</tspan></text>
<text x="64.3" y="1176.6" font-size="15.00" fill="#000">10<tspan font-size="9.0" dy="-5.4">3</tspan></text>
<text x="64.3" y="1233.4" font-size="15.00" fill="#000">10<tspan font-size="9.0" dy="-5.4">1</tspan></text>
<text x="96.8" y="1260.9" font-size="15.00" fill="#000">10<tspan font-size="9.0" dy="-5.4">1</tspan></text>
<text x="152.5" y="1260.9" font-size="15.00" fill="#000">10<tspan font-size="9.0" dy="-5.4">3</tspan></text>
<text x="207.5" y="1260.9" font-size="15.00" fill="#000">10<tspan font-size="9.0" dy="-5.4">5</tspan></text>
<text x="141.4" y="1098.9" font-size="21.60" fill="#000">PBS</text>
<path d="M333.8 1176.1 316.8 1175.1 311.8 1168.1 301.8 1165.1 292.8 1156.1 291.3 1152.6 292.8 1151.1 294.3 1151.1 301.8 1152.6 311.3 1146.1 323.8 1142.1 335.3 1143.6 337.3 1146.1 340.3 1156.6 340.8 1166.1 336.3 1174.1 333.8 1176.1Z" fill="#0010ff" fill-rule="evenodd"/>
<clipPath id="c19"><path d="M333.8 1176.1 316.8 1175.1 311.8 1168.1 301.8 1165.1 292.8 1156.1 291.3 1152.6 292.8 1151.1 294.3 1151.1 301.8 1152.6 311.3 1146.1 323.8 1142.1 335.3 1143.6 337.3 1146.1 340.3 1156.6 340.8 1166.1 336.3 1174.1 333.8 1176.1Z" clip-rule="evenodd"/></clipPath>
<g clip-path="url(#c19)"><g filter="url(#bl)">
<path d="M331.3 1174.6 317.3 1173.7 312.3 1167.5 302.1 1163.6 294.6 1155.6 293.6 1153.1 302.3 1153.8 311.8 1147.1 324.3 1143.3 334.8 1145.0 339.3 1157.1 339.6 1165.1 334.7 1173.6 331.3 1174.6Z" fill="#0039ff" fill-rule="evenodd"/>
<path d="M332.8 1172.8 318.8 1172.5 313.3 1166.2 303.3 1162.3 297.1 1155.6 302.8 1155.4 312.3 1148.6 322.8 1145.3 325.3 1144.9 333.8 1146.4 336.7 1153.6 338.1 1161.6 337.8 1165.1 332.8 1172.8Z" fill="#0068ff" fill-rule="evenodd"/>
<path d="M331.8 1171.2 319.8 1171.0 314.3 1165.1 304.3 1160.9 301.2 1157.6 305.3 1156.2 312.3 1150.3 318.8 1147.9 325.3 1146.4 332.8 1147.8 335.2 1154.1 336.4 1162.1 336.0 1165.1 331.8 1171.2Z" fill="#00acff" fill-rule="evenodd"/>
<path d="M330.8 1169.6 320.3 1169.3 314.8 1163.6 304.4 1158.6 312.3 1151.9 317.8 1149.5 325.3 1147.8 331.3 1149.0 333.7 1154.6 334.8 1162.1 334.4 1164.6 330.8 1169.6Z" fill="#00e9f0" fill-rule="evenodd"/>
<path d="M328.3 1168.1 321.3 1167.8 315.8 1162.7 307.9 1158.6 312.8 1153.1 317.8 1150.6 325.3 1149.0 330.3 1150.1 332.3 1154.6 333.0 1163.6 330.3 1168.0 328.3 1168.1Z" fill="#00ff9a" fill-rule="evenodd"/>
<path d="M326.8 1166.6 321.9 1166.1 310.7 1157.6 313.8 1153.8 318.3 1151.4 324.3 1150.1 329.3 1151.0 331.1 1155.1 331.4 1163.1 329.3 1166.4 326.8 1166.6Z" fill="#3bff31" fill-rule="evenodd"/>
<path d="M327.3 1164.7 322.8 1164.7 312.7 1157.1 315.3 1154.1 319.8 1151.8 324.3 1151.0 328.7 1152.1 330.0 1155.6 329.8 1162.9 327.3 1164.7Z" fill="#acff00" fill-rule="evenodd"/>
<path d="M321.8 1161.6 315.6 1158.6 314.2 1157.1 314.8 1156.1 317.8 1153.6 321.8 1152.1 325.3 1152.0 328.0 1153.1 328.6 1158.1 325.8 1160.5 321.8 1161.6Z" fill="#f4e200" fill-rule="evenodd"/>
<path d="M321.8 1159.6 317.5 1158.6 316.4 1156.1 321.3 1153.1 326.5 1153.6 327.0 1155.6 326.3 1157.3 321.8 1159.6Z" fill="#ff7900" fill-rule="evenodd"/>
<path d="M322.8 1157.6 319.8 1157.6 318.6 1155.6 321.3 1154.1 324.0 1154.1 324.5 1156.1 322.8 1157.6Z" fill="#ff0000" fill-rule="evenodd"/>
</g></g>
<path d="M261.3,1103.6 H401.3 V1242.5" fill="none" stroke="#8a8a8a" stroke-width="1.1"/>
<path d="M261.3,1103.6 V1242.5 H401.3" fill="none" stroke="#333" stroke-width="1.3"/>
<path d="M261.3,1103.6h-1.8 M261.3,1106.3h-1.8 M261.3,1108.6h-1.8 M261.3,1110.4h-1.8 M261.3,1112.1h-1.8 M261.3,1113.5h-1.8 M261.3,1123.3h-1.8 M261.3,1128.3h-1.8 M261.3,1131.8h-1.8 M261.3,1134.5h-1.8 M261.3,1136.7h-1.8 M261.3,1138.6h-1.8 M261.3,1140.3h-1.8 M261.3,1141.7h-1.8 M261.3,1151.5h-1.8 M261.3,1156.5h-1.8 M261.3,1160.0h-1.8 M261.3,1162.7h-1.8 M261.3,1164.9h-1.8 M261.3,1166.8h-1.8 M261.3,1168.5h-1.8 M261.3,1169.9h-1.8 M261.3,1179.6h-1.8 M261.3,1184.6h-1.8 M261.3,1188.1h-1.8 M261.3,1190.8h-1.8 M261.3,1193.0h-1.8 M261.3,1194.9h-1.8 M261.3,1196.5h-1.8 M261.3,1198.0h-1.8 M261.3,1207.7h-1.8 M261.3,1212.6h-1.8 M261.3,1216.1h-1.8 M261.3,1218.9h-1.8 M261.3,1221.1h-1.8 M261.3,1223.0h-1.8 M261.3,1224.6h-1.8 M261.3,1226.0h-1.8 M261.3,1235.8h-1.8 M261.3,1240.7h-1.8 M261.3,1114.8h-3.5 M261.3,1143.0h-3.5 M261.3,1171.2h-3.5 M261.3,1199.2h-3.5 M261.3,1227.3h-3.5" stroke="#333" stroke-width="1.1" fill="none"/>
<path d="M264.2,1242.5v1.8 M267.0,1242.5v1.8 M269.2,1242.5v1.8 M271.1,1242.5v1.8 M272.7,1242.5v1.8 M274.1,1242.5v1.8 M283.9,1242.5v1.8 M288.9,1242.5v1.8 M292.4,1242.5v1.8 M295.1,1242.5v1.8 M297.4,1242.5v1.8 M299.3,1242.5v1.8 M300.9,1242.5v1.8 M302.4,1242.5v1.8 M312.2,1242.5v1.8 M317.1,1242.5v1.8 M320.7,1242.5v1.8 M323.4,1242.5v1.8 M325.6,1242.5v1.8 M327.5,1242.5v1.8 M329.2,1242.5v1.8 M330.6,1242.5v1.8 M340.3,1242.5v1.8 M345.2,1242.5v1.8 M348.7,1242.5v1.8 M351.4,1242.5v1.8 M353.6,1242.5v1.8 M355.4,1242.5v1.8 M357.1,1242.5v1.8 M358.5,1242.5v1.8 M368.1,1242.5v1.8 M373.0,1242.5v1.8 M376.5,1242.5v1.8 M379.2,1242.5v1.8 M381.4,1242.5v1.8 M383.3,1242.5v1.8 M384.9,1242.5v1.8 M386.3,1242.5v1.8 M396.0,1242.5v1.8 M401.0,1242.5v1.8 M275.4,1242.5v3.5 M303.7,1242.5v3.5 M331.9,1242.5v3.5 M359.8,1242.5v3.5 M387.6,1242.5v3.5" stroke="#333" stroke-width="1.1" fill="none"/>
<rect x="323.60" y="1124.10" width="25.80" height="26.60" fill="none" stroke="#333" stroke-width="1.2"/>
<text x="357.4" y="1124.1" font-size="17.80" fill="#000">Treg</text>
<text x="235.1" y="1121.6" font-size="15.00" fill="#000">10<tspan font-size="9.0" dy="-5.4">5</tspan></text>
<text x="235.1" y="1176.6" font-size="15.00" fill="#000">10<tspan font-size="9.0" dy="-5.4">3</tspan></text>
<text x="235.1" y="1233.4" font-size="15.00" fill="#000">10<tspan font-size="9.0" dy="-5.4">1</tspan></text>
<text x="267.6" y="1260.9" font-size="15.00" fill="#000">10<tspan font-size="9.0" dy="-5.4">1</tspan></text>
<text x="323.3" y="1260.9" font-size="15.00" fill="#000">10<tspan font-size="9.0" dy="-5.4">3</tspan></text>
<text x="378.3" y="1260.9" font-size="15.00" fill="#000">10<tspan font-size="9.0" dy="-5.4">5</tspan></text>
<text x="289.6" y="1098.5" font-size="21.60" fill="#000">GM-CSF</text>
<path d="M495.3 1175.6 491.3 1175.6 485.3 1172.6 483.3 1170.6 478.8 1154.6 476.8 1150.1 473.8 1146.6 473.8 1144.6 475.3 1143.1 483.3 1139.6 490.8 1138.6 498.3 1139.1 506.3 1142.6 507.8 1151.6 510.8 1158.6 510.8 1162.6 507.3 1170.1 495.3 1175.6Z" fill="#0010ff" fill-rule="evenodd"/>
<clipPath id="c20"><path d="M495.3 1175.6 491.3 1175.6 485.3 1172.6 483.3 1170.6 478.8 1154.6 476.8 1150.1 473.8 1146.6 473.8 1144.6 475.3 1143.1 483.3 1139.6 490.8 1138.6 498.3 1139.1 506.3 1142.6 507.8 1151.6 510.8 1158.6 510.8 1162.6 507.3 1170.1 495.3 1175.6Z" clip-rule="evenodd"/></clipPath>
<g clip-path="url(#c20)"><g filter="url(#bl)">
<path d="M494.8 1174.7 491.8 1174.6 484.7 1170.1 480.3 1154.1 475.8 1145.1 484.3 1141.2 491.8 1139.9 497.8 1140.4 504.9 1143.6 506.6 1152.1 509.3 1159.6 508.7 1163.6 505.3 1169.7 494.8 1174.7Z" fill="#0039ff" fill-rule="evenodd"/>
<path d="M495.3 1172.7 492.3 1173.0 486.0 1169.1 483.2 1157.6 480.9 1150.6 478.3 1146.1 478.8 1145.6 484.8 1142.9 492.3 1141.6 497.3 1142.1 503.4 1144.6 507.5 1161.6 504.6 1168.1 495.3 1172.7Z" fill="#0068ff" fill-rule="evenodd"/>
<path d="M493.8 1171.6 487.3 1168.1 481.1 1146.6 487.3 1144.1 494.3 1143.2 502.2 1146.1 506.0 1160.6 503.8 1166.6 493.8 1171.6Z" fill="#00acff" fill-rule="evenodd"/>
<path d="M494.3 1170.1 491.8 1169.7 488.3 1167.1 483.3 1147.6 484.3 1146.8 494.3 1144.8 500.8 1147.1 504.2 1161.6 502.6 1165.6 494.3 1170.1Z" fill="#00e9f0" fill-rule="evenodd"/>
<path d="M493.8 1169.2 489.3 1166.5 485.5 1148.6 493.8 1146.3 499.5 1148.1 502.9 1160.6 501.8 1164.1 497.3 1167.9 493.8 1169.2Z" fill="#00ff9a" fill-rule="evenodd"/>
<path d="M494.3 1168.2 492.3 1167.8 490.0 1165.6 489.3 1157.6 487.5 1149.6 493.8 1147.7 498.4 1149.1 501.4 1160.6 498.7 1165.6 494.3 1168.2Z" fill="#3bff31" fill-rule="evenodd"/>
<path d="M495.3 1167.1 491.9 1166.6 490.4 1163.6 489.7 1151.6 490.5 1150.1 493.8 1148.9 496.8 1149.4 497.8 1150.4 500.1 1160.6 498.3 1164.6 495.3 1167.1Z" fill="#acff00" fill-rule="evenodd"/>
<path d="M495.3 1166.2 492.8 1166.3 491.2 1163.6 491.6 1153.1 492.8 1150.9 494.8 1150.0 497.3 1151.3 498.4 1155.6 498.5 1162.1 495.3 1166.2Z" fill="#f4e200" fill-rule="evenodd"/>
<path d="M494.3 1165.7 492.6 1165.1 492.0 1163.1 494.2 1159.1 492.8 1153.6 495.3 1151.4 496.8 1152.1 497.5 1154.1 497.3 1156.6 495.5 1159.1 497.2 1162.6 494.3 1165.7Z" fill="#ff7900" fill-rule="evenodd"/>
<path d="M495.8 1155.9 494.2 1155.1 494.8 1153.1 496.3 1153.7 495.8 1155.9ZM494.3 1164.7 492.8 1163.6 494.3 1161.9 495.8 1163.1 494.3 1164.7Z" fill="#ff0000" fill-rule="evenodd"/>
</g></g>
<path d="M432.3,1103.6 H571.5 V1242.5" fill="none" stroke="#8a8a8a" stroke-width="1.1"/>
<path d="M432.3,1103.6 V1242.5 H571.5" fill="none" stroke="#333" stroke-width="1.3"/>
<path d="M432.3,1103.6h-1.8 M432.3,1106.3h-1.8 M432.3,1108.6h-1.8 M432.3,1110.4h-1.8 M432.3,1112.1h-1.8 M432.3,1113.5h-1.8 M432.3,1123.3h-1.8 M432.3,1128.3h-1.8 M432.3,1131.8h-1.8 M432.3,1134.5h-1.8 M432.3,1136.7h-1.8 M432.3,1138.6h-1.8 M432.3,1140.3h-1.8 M432.3,1141.7h-1.8 M432.3,1151.5h-1.8 M432.3,1156.5h-1.8 M432.3,1160.0h-1.8 M432.3,1162.7h-1.8 M432.3,1164.9h-1.8 M432.3,1166.8h-1.8 M432.3,1168.5h-1.8 M432.3,1169.9h-1.8 M432.3,1179.6h-1.8 M432.3,1184.6h-1.8 M432.3,1188.1h-1.8 M432.3,1190.8h-1.8 M432.3,1193.0h-1.8 M432.3,1194.9h-1.8 M432.3,1196.5h-1.8 M432.3,1198.0h-1.8 M432.3,1207.7h-1.8 M432.3,1212.6h-1.8 M432.3,1216.1h-1.8 M432.3,1218.9h-1.8 M432.3,1221.1h-1.8 M432.3,1223.0h-1.8 M432.3,1224.6h-1.8 M432.3,1226.0h-1.8 M432.3,1235.8h-1.8 M432.3,1240.7h-1.8 M432.3,1114.8h-3.5 M432.3,1143.0h-3.5 M432.3,1171.2h-3.5 M432.3,1199.2h-3.5 M432.3,1227.3h-3.5" stroke="#333" stroke-width="1.1" fill="none"/>
<path d="M435.2,1242.5v1.8 M438.0,1242.5v1.8 M440.2,1242.5v1.8 M442.1,1242.5v1.8 M443.7,1242.5v1.8 M445.1,1242.5v1.8 M454.9,1242.5v1.8 M459.9,1242.5v1.8 M463.4,1242.5v1.8 M466.1,1242.5v1.8 M468.4,1242.5v1.8 M470.3,1242.5v1.8 M471.9,1242.5v1.8 M473.4,1242.5v1.8 M483.2,1242.5v1.8 M488.1,1242.5v1.8 M491.7,1242.5v1.8 M494.4,1242.5v1.8 M496.6,1242.5v1.8 M498.5,1242.5v1.8 M500.2,1242.5v1.8 M501.6,1242.5v1.8 M511.3,1242.5v1.8 M516.2,1242.5v1.8 M519.7,1242.5v1.8 M522.4,1242.5v1.8 M524.6,1242.5v1.8 M526.4,1242.5v1.8 M528.1,1242.5v1.8 M529.5,1242.5v1.8 M539.1,1242.5v1.8 M544.0,1242.5v1.8 M547.5,1242.5v1.8 M550.2,1242.5v1.8 M552.4,1242.5v1.8 M554.3,1242.5v1.8 M555.9,1242.5v1.8 M557.3,1242.5v1.8 M567.0,1242.5v1.8 M446.4,1242.5v3.5 M474.7,1242.5v3.5 M502.9,1242.5v3.5 M530.8,1242.5v3.5 M558.6,1242.5v3.5" stroke="#333" stroke-width="1.1" fill="none"/>
<rect x="494.30" y="1124.10" width="26.10" height="26.60" fill="none" stroke="#333" stroke-width="1.2"/>
<text x="528.1" y="1124.1" font-size="17.80" fill="#000">Treg</text>
<text x="406.1" y="1121.6" font-size="15.00" fill="#000">10<tspan font-size="9.0" dy="-5.4">5</tspan></text>
<text x="406.1" y="1176.6" font-size="15.00" fill="#000">10<tspan font-size="9.0" dy="-5.4">3</tspan></text>
<text x="406.1" y="1233.4" font-size="15.00" fill="#000">10<tspan font-size="9.0" dy="-5.4">1</tspan></text>
<text x="438.6" y="1260.9" font-size="15.00" fill="#000">10<tspan font-size="9.0" dy="-5.4">1</tspan></text>
<text x="494.3" y="1260.9" font-size="15.00" fill="#000">10<tspan font-size="9.0" dy="-5.4">3</tspan></text>
<text x="549.3" y="1260.9" font-size="15.00" fill="#000">10<tspan font-size="9.0" dy="-5.4">5</tspan></text>
<text x="436.4" y="1098.5" font-size="22.30" fill="#000">3T3/GM-CSF</text>
<path d="M153.8 1357.1 149.8 1356.6 145.3 1351.1 140.8 1348.1 120.3 1338.1 117.8 1336.1 117.8 1333.6 126.3 1328.1 145.3 1322.6 150.3 1322.6 167.8 1327.1 171.8 1332.1 169.8 1340.1 169.8 1349.1 167.3 1352.1 162.3 1355.1 153.8 1357.1Z" fill="#0010ff" fill-rule="evenodd"/>
<clipPath id="c21"><path d="M153.8 1357.1 149.8 1356.6 145.3 1351.1 140.8 1348.1 120.3 1338.1 117.8 1336.1 117.8 1333.6 126.3 1328.1 145.3 1322.6 150.3 1322.6 167.8 1327.1 171.8 1332.1 169.8 1340.1 169.8 1349.1 167.3 1352.1 162.3 1355.1 153.8 1357.1Z" clip-rule="evenodd"/></clipPath>
<g clip-path="url(#c21)"><g filter="url(#bl)">
<path d="M153.3 1355.2 150.8 1354.9 146.3 1350.0 127.8 1340.8 120.8 1336.6 119.3 1334.6 126.8 1329.5 145.8 1323.8 149.8 1323.9 167.3 1328.8 170.0 1332.6 168.1 1340.1 167.6 1349.1 161.8 1353.2 153.3 1355.2Z" fill="#0039ff" fill-rule="evenodd"/>
<path d="M152.3 1353.6 147.1 1348.6 132.3 1341.4 121.9 1334.6 127.3 1331.2 133.8 1328.6 146.3 1325.4 151.3 1325.9 166.3 1330.3 168.1 1333.1 166.4 1339.6 166.1 1348.1 160.9 1351.6 152.3 1353.6Z" fill="#0068ff" fill-rule="evenodd"/>
<path d="M153.8 1351.6 152.8 1351.7 146.3 1346.3 133.8 1340.6 125.1 1334.6 137.8 1328.5 146.8 1326.7 165.3 1331.8 166.3 1333.1 164.7 1339.6 164.5 1347.1 160.3 1350.1 153.8 1351.6Z" fill="#00acff" fill-rule="evenodd"/>
<path d="M154.3 1350.1 145.8 1344.3 135.3 1339.9 127.8 1334.6 139.3 1329.0 147.3 1328.1 164.3 1333.4 162.8 1346.4 159.8 1348.6 154.3 1350.1Z" fill="#00e9f0" fill-rule="evenodd"/>
<path d="M154.3 1348.7 146.6 1343.1 135.8 1338.9 131.1 1334.6 138.3 1330.3 145.3 1329.2 148.3 1329.5 162.3 1334.5 161.4 1345.6 158.3 1347.7 154.3 1348.7Z" fill="#00ff9a" fill-rule="evenodd"/>
<path d="M155.3 1347.1 154.3 1347.2 147.3 1341.8 137.3 1338.6 133.2 1335.1 138.3 1331.3 143.3 1330.2 147.8 1330.5 160.2 1335.6 160.1 1344.6 155.3 1347.1Z" fill="#3bff31" fill-rule="evenodd"/>
<path d="M155.8 1345.6 154.5 1345.6 148.3 1340.7 138.8 1338.3 135.0 1335.1 140.3 1331.5 147.8 1331.7 154.8 1335.6 157.8 1340.1 158.6 1344.1 155.8 1345.6Z" fill="#acff00" fill-rule="evenodd"/>
<path d="M147.3 1338.6 140.6 1338.1 136.7 1335.1 140.3 1332.4 146.3 1332.4 149.3 1334.1 149.0 1336.6 147.3 1338.6Z" fill="#f4e200" fill-rule="evenodd"/>
<path d="M144.8 1337.7 140.4 1337.1 138.2 1335.1 141.3 1333.1 146.1 1333.6 146.7 1335.6 144.8 1337.7Z" fill="#ff7900" fill-rule="evenodd"/>
<path d="M142.8 1336.7 139.7 1335.6 141.8 1334.2 144.6 1334.6 142.8 1336.7Z" fill="#ff0000" fill-rule="evenodd"/>
</g></g>
<g fill="#aaa"><circle cx="119.0" cy="1349.0" r="0.6"/><circle cx="151.0" cy="1366.0" r="0.6"/><circle cx="148.0" cy="1385.0" r="0.6"/><circle cx="155.0" cy="1363.0" r="0.6"/></g>
<path d="M89.8,1288.6 H229.4 V1427.5" fill="none" stroke="#8a8a8a" stroke-width="1.1"/>
<path d="M89.8,1288.6 V1427.5 H229.4" fill="none" stroke="#333" stroke-width="1.3"/>
<path d="M89.8,1288.6h-1.8 M89.8,1291.3h-1.8 M89.8,1293.6h-1.8 M89.8,1295.4h-1.8 M89.8,1297.1h-1.8 M89.8,1298.5h-1.8 M89.8,1308.3h-1.8 M89.8,1313.3h-1.8 M89.8,1316.8h-1.8 M89.8,1319.5h-1.8 M89.8,1321.7h-1.8 M89.8,1323.6h-1.8 M89.8,1325.3h-1.8 M89.8,1326.7h-1.8 M89.8,1336.5h-1.8 M89.8,1341.5h-1.8 M89.8,1345.0h-1.8 M89.8,1347.7h-1.8 M89.8,1349.9h-1.8 M89.8,1351.8h-1.8 M89.8,1353.5h-1.8 M89.8,1354.9h-1.8 M89.8,1364.6h-1.8 M89.8,1369.6h-1.8 M89.8,1373.1h-1.8 M89.8,1375.8h-1.8 M89.8,1378.0h-1.8 M89.8,1379.9h-1.8 M89.8,1381.5h-1.8 M89.8,1383.0h-1.8 M89.8,1392.7h-1.8 M89.8,1397.6h-1.8 M89.8,1401.1h-1.8 M89.8,1403.9h-1.8 M89.8,1406.1h-1.8 M89.8,1408.0h-1.8 M89.8,1409.6h-1.8 M89.8,1411.0h-1.8 M89.8,1420.8h-1.8 M89.8,1425.7h-1.8 M89.8,1299.8h-3.5 M89.8,1328.0h-3.5 M89.8,1356.2h-3.5 M89.8,1384.2h-3.5 M89.8,1412.3h-3.5" stroke="#333" stroke-width="1.1" fill="none"/>
<path d="M92.7,1427.5v1.8 M95.5,1427.5v1.8 M97.7,1427.5v1.8 M99.6,1427.5v1.8 M101.2,1427.5v1.8 M102.6,1427.5v1.8 M112.4,1427.5v1.8 M117.4,1427.5v1.8 M120.9,1427.5v1.8 M123.6,1427.5v1.8 M125.9,1427.5v1.8 M127.8,1427.5v1.8 M129.4,1427.5v1.8 M130.9,1427.5v1.8 M140.7,1427.5v1.8 M145.6,1427.5v1.8 M149.2,1427.5v1.8 M151.9,1427.5v1.8 M154.1,1427.5v1.8 M156.0,1427.5v1.8 M157.7,1427.5v1.8 M159.1,1427.5v1.8 M168.8,1427.5v1.8 M173.7,1427.5v1.8 M177.2,1427.5v1.8 M179.9,1427.5v1.8 M182.1,1427.5v1.8 M183.9,1427.5v1.8 M185.6,1427.5v1.8 M187.0,1427.5v1.8 M196.6,1427.5v1.8 M201.5,1427.5v1.8 M205.0,1427.5v1.8 M207.7,1427.5v1.8 M209.9,1427.5v1.8 M211.8,1427.5v1.8 M213.4,1427.5v1.8 M214.8,1427.5v1.8 M224.5,1427.5v1.8 M103.9,1427.5v3.5 M132.2,1427.5v3.5 M160.4,1427.5v3.5 M188.2,1427.5v3.5 M216.1,1427.5v3.5" stroke="#333" stroke-width="1.1" fill="none"/>
<rect x="151.40" y="1308.40" width="26.10" height="26.60" fill="none" stroke="#333" stroke-width="1.2"/>
<text x="186.4" y="1308.6" font-size="17.80" fill="#000">Treg</text>
<text x="63.6" y="1306.6" font-size="15.00" fill="#000">10<tspan font-size="9.0" dy="-5.4">5</tspan></text>
<text x="63.6" y="1361.6" font-size="15.00" fill="#000">10<tspan font-size="9.0" dy="-5.4">3</tspan></text>
<text x="63.6" y="1418.4" font-size="15.00" fill="#000">10<tspan font-size="9.0" dy="-5.4">1</tspan></text>
<text x="96.1" y="1445.9" font-size="15.00" fill="#000">10<tspan font-size="9.0" dy="-5.4">1</tspan></text>
<text x="151.8" y="1445.9" font-size="15.00" fill="#000">10<tspan font-size="9.0" dy="-5.4">3</tspan></text>
<text x="206.8" y="1445.9" font-size="15.00" fill="#000">10<tspan font-size="9.0" dy="-5.4">5</tspan></text>
<text x="149.0" y="1285.4" font-size="21.60" fill="#000">RT</text>
<path d="M318.3 1360.1 312.8 1359.6 308.8 1358.1 299.3 1349.6 293.8 1340.1 294.3 1332.6 295.3 1330.1 297.8 1328.1 305.3 1325.1 312.8 1324.1 327.8 1324.1 337.8 1327.1 341.8 1332.1 342.3 1338.1 341.3 1347.1 337.8 1354.1 333.8 1357.1 318.3 1360.1ZM262.8 1345.1 260.3 1344.1 260.3 1341.1 261.8 1339.6 263.8 1341.1 263.8 1344.1 262.8 1345.1Z" fill="#0010ff" fill-rule="evenodd"/>
<clipPath id="c22"><path d="M318.3 1360.1 312.8 1359.6 308.8 1358.1 299.3 1349.6 293.8 1340.1 294.3 1332.6 295.3 1330.1 297.8 1328.1 305.3 1325.1 312.8 1324.1 327.8 1324.1 337.8 1327.1 341.8 1332.1 342.3 1338.1 341.3 1347.1 337.8 1354.1 333.8 1357.1 318.3 1360.1ZM262.8 1345.1 260.3 1344.1 260.3 1341.1 261.8 1339.6 263.8 1341.1 263.8 1344.1 262.8 1345.1Z" clip-rule="evenodd"/></clipPath>
<g clip-path="url(#c22)"><g filter="url(#bl)">
<path d="M317.8 1358.7 309.3 1356.8 300.8 1349.6 295.1 1339.6 296.8 1330.6 305.8 1326.4 313.8 1325.3 327.3 1325.4 337.3 1328.5 340.4 1332.6 341.1 1337.1 340.1 1346.6 336.4 1353.6 333.3 1355.7 317.8 1358.7ZM261.8 1343.1 260.8 1342.4 261.8 1342.1 261.8 1343.1Z" fill="#0039ff" fill-rule="evenodd"/>
<path d="M316.8 1357.1 310.3 1355.3 302.2 1348.6 296.8 1339.1 298.3 1331.6 306.3 1328.1 314.3 1326.9 326.3 1326.9 336.5 1330.1 339.3 1334.8 339.0 1342.6 337.9 1347.6 335.0 1352.6 332.8 1354.0 316.8 1357.1Z" fill="#0068ff" fill-rule="evenodd"/>
<path d="M317.8 1355.1 311.3 1354.0 303.5 1347.6 298.5 1338.6 299.5 1333.1 306.8 1329.7 314.8 1328.4 326.3 1328.5 335.7 1331.6 337.6 1335.1 337.4 1342.6 336.3 1347.1 333.6 1351.6 317.8 1355.1Z" fill="#00acff" fill-rule="evenodd"/>
<path d="M316.8 1353.7 312.1 1352.6 304.8 1346.6 300.4 1339.1 300.8 1334.4 307.3 1331.2 315.8 1329.7 325.8 1329.9 334.3 1332.6 336.0 1335.6 335.8 1342.1 334.9 1346.6 332.3 1350.6 316.8 1353.7Z" fill="#00e9f0" fill-rule="evenodd"/>
<path d="M319.3 1351.6 313.3 1351.4 306.5 1346.1 302.0 1338.6 302.7 1335.1 309.3 1332.1 317.8 1330.8 325.8 1331.3 333.5 1334.1 334.3 1335.6 334.2 1344.6 331.8 1348.8 319.3 1351.6Z" fill="#00ff9a" fill-rule="evenodd"/>
<path d="M318.8 1350.2 313.8 1349.8 307.6 1345.1 304.4 1340.1 303.8 1336.6 309.8 1333.4 318.3 1331.8 325.3 1332.5 332.6 1335.6 333.2 1344.6 331.8 1347.1 330.3 1348.4 318.8 1350.2Z" fill="#3bff31" fill-rule="evenodd"/>
<path d="M318.3 1348.7 314.3 1348.3 308.6 1344.1 305.6 1339.1 305.7 1337.1 310.1 1334.6 318.3 1332.8 325.3 1333.7 331.0 1336.6 332.2 1343.6 331.3 1346.1 329.8 1347.3 318.3 1348.7Z" fill="#acff00" fill-rule="evenodd"/>
<path d="M329.3 1346.3 327.8 1345.6 325.8 1342.5 318.3 1344.8 312.8 1343.9 309.8 1341.1 309.8 1337.1 310.8 1335.6 316.3 1333.9 325.3 1334.9 326.7 1336.6 327.3 1340.7 330.8 1341.8 331.0 1344.6 329.3 1346.3Z" fill="#f4e200" fill-rule="evenodd"/>
<path d="M317.8 1342.6 313.0 1341.1 312.0 1339.1 312.5 1337.1 315.8 1334.8 322.5 1335.1 324.0 1337.1 323.6 1339.6 321.3 1341.7 317.8 1342.6Z" fill="#ff7900" fill-rule="evenodd"/>
<path d="M318.3 1340.6 315.5 1340.1 314.7 1338.1 316.8 1336.2 319.8 1336.1 321.2 1337.1 321.3 1338.6 318.3 1340.6Z" fill="#ff0000" fill-rule="evenodd"/>
</g></g>
<g fill="#aaa"><circle cx="275.0" cy="1341.0" r="0.6"/><circle cx="280.0" cy="1343.0" r="0.6"/><circle cx="283.0" cy="1339.0" r="0.6"/><circle cx="272.0" cy="1346.0" r="0.6"/><circle cx="298.0" cy="1363.0" r="0.6"/><circle cx="308.0" cy="1366.0" r="0.6"/><circle cx="324.0" cy="1370.0" r="0.6"/></g>
<path d="M260.8,1288.6 H400.1 V1427.5" fill="none" stroke="#8a8a8a" stroke-width="1.1"/>
<path d="M260.8,1288.6 V1427.5 H400.1" fill="none" stroke="#333" stroke-width="1.3"/>
<path d="M260.8,1288.6h-1.8 M260.8,1291.3h-1.8 M260.8,1293.6h-1.8 M260.8,1295.4h-1.8 M260.8,1297.1h-1.8 M260.8,1298.5h-1.8 M260.8,1308.3h-1.8 M260.8,1313.3h-1.8 M260.8,1316.8h-1.8 M260.8,1319.5h-1.8 M260.8,1321.7h-1.8 M260.8,1323.6h-1.8 M260.8,1325.3h-1.8 M260.8,1326.7h-1.8 M260.8,1336.5h-1.8 M260.8,1341.5h-1.8 M260.8,1345.0h-1.8 M260.8,1347.7h-1.8 M260.8,1349.9h-1.8 M260.8,1351.8h-1.8 M260.8,1353.5h-1.8 M260.8,1354.9h-1.8 M260.8,1364.6h-1.8 M260.8,1369.6h-1.8 M260.8,1373.1h-1.8 M260.8,1375.8h-1.8 M260.8,1378.0h-1.8 M260.8,1379.9h-1.8 M260.8,1381.5h-1.8 M260.8,1383.0h-1.8 M260.8,1392.7h-1.8 M260.8,1397.6h-1.8 M260.8,1401.1h-1.8 M260.8,1403.9h-1.8 M260.8,1406.1h-1.8 M260.8,1408.0h-1.8 M260.8,1409.6h-1.8 M260.8,1411.0h-1.8 M260.8,1420.8h-1.8 M260.8,1425.7h-1.8 M260.8,1299.8h-3.5 M260.8,1328.0h-3.5 M260.8,1356.2h-3.5 M260.8,1384.2h-3.5 M260.8,1412.3h-3.5" stroke="#333" stroke-width="1.1" fill="none"/>
<path d="M263.7,1427.5v1.8 M266.5,1427.5v1.8 M268.7,1427.5v1.8 M270.6,1427.5v1.8 M272.2,1427.5v1.8 M273.6,1427.5v1.8 M283.4,1427.5v1.8 M288.4,1427.5v1.8 M291.9,1427.5v1.8 M294.6,1427.5v1.8 M296.9,1427.5v1.8 M298.8,1427.5v1.8 M300.4,1427.5v1.8 M301.9,1427.5v1.8 M311.7,1427.5v1.8 M316.6,1427.5v1.8 M320.2,1427.5v1.8 M322.9,1427.5v1.8 M325.1,1427.5v1.8 M327.0,1427.5v1.8 M328.7,1427.5v1.8 M330.1,1427.5v1.8 M339.8,1427.5v1.8 M344.7,1427.5v1.8 M348.2,1427.5v1.8 M350.9,1427.5v1.8 M353.1,1427.5v1.8 M354.9,1427.5v1.8 M356.6,1427.5v1.8 M358.0,1427.5v1.8 M367.6,1427.5v1.8 M372.5,1427.5v1.8 M376.0,1427.5v1.8 M378.7,1427.5v1.8 M380.9,1427.5v1.8 M382.8,1427.5v1.8 M384.4,1427.5v1.8 M385.8,1427.5v1.8 M395.5,1427.5v1.8 M274.9,1427.5v3.5 M303.2,1427.5v3.5 M331.4,1427.5v3.5 M359.2,1427.5v3.5 M387.1,1427.5v3.5" stroke="#333" stroke-width="1.1" fill="none"/>
<rect x="322.80" y="1308.40" width="25.90" height="26.60" fill="none" stroke="#333" stroke-width="1.2"/>
<text x="357.4" y="1308.6" font-size="17.80" fill="#000">Treg</text>
<text x="234.6" y="1306.6" font-size="15.00" fill="#000">10<tspan font-size="9.0" dy="-5.4">5</tspan></text>
<text x="234.6" y="1361.6" font-size="15.00" fill="#000">10<tspan font-size="9.0" dy="-5.4">3</tspan></text>
<text x="234.6" y="1418.4" font-size="15.00" fill="#000">10<tspan font-size="9.0" dy="-5.4">1</tspan></text>
<text x="267.1" y="1445.9" font-size="15.00" fill="#000">10<tspan font-size="9.0" dy="-5.4">1</tspan></text>
<text x="322.8" y="1445.9" font-size="15.00" fill="#000">10<tspan font-size="9.0" dy="-5.4">3</tspan></text>
<text x="377.8" y="1445.9" font-size="15.00" fill="#000">10<tspan font-size="9.0" dy="-5.4">5</tspan></text>
<text x="253.8" y="1285.4" font-size="22.30" fill="#000">iPSC/GM-CSF</text>
<path d="M499.7 1358.9 497.2 1358.9 488.2 1353.9 475.7 1342.4 474.7 1340.4 475.2 1336.9 482.2 1331.4 491.7 1327.4 494.7 1327.4 507.2 1332.4 508.2 1333.4 508.2 1336.4 505.2 1346.4 502.7 1349.4 499.7 1350.4 499.2 1351.4 501.2 1355.4 499.7 1358.9ZM505.7 1358.4 504.2 1357.9 504.7 1356.4 506.2 1356.9 505.7 1358.4Z" fill="#0010ff" fill-rule="evenodd"/>
<clipPath id="c23"><path d="M499.7 1358.9 497.2 1358.9 488.2 1353.9 475.7 1342.4 474.7 1340.4 475.2 1336.9 482.2 1331.4 491.7 1327.4 494.7 1327.4 507.2 1332.4 508.2 1333.4 508.2 1336.4 505.2 1346.4 502.7 1349.4 499.7 1350.4 499.2 1351.4 501.2 1355.4 499.7 1358.9ZM505.7 1358.4 504.2 1357.9 504.7 1356.4 506.2 1356.9 505.7 1358.4Z" clip-rule="evenodd"/></clipPath>
<g clip-path="url(#c23)"><g filter="url(#bl)">
<path d="M498.2 1357.4 488.2 1352.4 477.4 1341.9 476.3 1339.4 477.7 1336.6 482.7 1332.6 492.2 1327.9 494.7 1327.9 500.7 1329.9 506.9 1333.9 504.2 1345.9 498.3 1351.4 499.7 1355.9 498.2 1357.4Z" fill="#0039ff" fill-rule="evenodd"/>
<path d="M496.7 1354.8 489.2 1351.1 478.1 1339.4 483.7 1334.0 492.7 1329.1 498.7 1330.3 505.4 1334.9 502.7 1345.4 497.5 1349.4 496.6 1351.4 496.7 1354.8Z" fill="#0068ff" fill-rule="evenodd"/>
<path d="M494.7 1352.0 490.2 1349.9 480.0 1339.4 487.7 1333.1 493.7 1330.1 499.7 1332.0 503.8 1335.9 500.9 1345.4 496.7 1347.9 494.7 1352.0Z" fill="#00acff" fill-rule="evenodd"/>
<path d="M493.2 1349.8 489.3 1346.9 482.5 1339.4 491.6 1331.9 494.7 1331.1 499.2 1332.8 502.4 1336.4 499.7 1344.4 496.1 1346.4 493.2 1349.8Z" fill="#00e9f0" fill-rule="evenodd"/>
<path d="M492.7 1347.6 484.8 1339.4 492.2 1332.6 496.2 1332.2 499.2 1333.9 501.1 1337.4 498.5 1343.4 492.7 1347.6Z" fill="#00ff9a" fill-rule="evenodd"/>
<path d="M492.7 1345.1 490.2 1343.5 487.0 1339.4 492.6 1333.4 496.2 1333.1 498.7 1334.7 500.2 1337.4 497.6 1342.4 492.7 1345.1Z" fill="#3bff31" fill-rule="evenodd"/>
<path d="M492.2 1343.5 488.8 1339.9 493.2 1334.1 496.7 1334.3 498.7 1336.4 498.8 1338.4 496.7 1341.6 492.2 1343.5Z" fill="#acff00" fill-rule="evenodd"/>
<path d="M493.7 1341.4 491.1 1339.4 493.1 1335.4 495.2 1334.9 497.0 1335.9 497.8 1338.4 495.8 1340.9 493.7 1341.4Z" fill="#f4e200" fill-rule="evenodd"/>
<path d="M495.7 1339.5 493.1 1338.9 494.1 1336.9 495.8 1337.4 495.7 1339.5Z" fill="#ff7900" fill-rule="evenodd"/>
</g></g>
<path d="M432.7,1287.4 H571.5 V1427.5" fill="none" stroke="#8a8a8a" stroke-width="1.1"/>
<path d="M432.7,1287.4 V1427.5 H571.5" fill="none" stroke="#333" stroke-width="1.3"/>
<path d="M432.7,1287.4h-1.8 M432.7,1290.1h-1.8 M432.7,1292.4h-1.8 M432.7,1294.2h-1.8 M432.7,1295.9h-1.8 M432.7,1297.3h-1.8 M432.7,1307.1h-1.8 M432.7,1312.1h-1.8 M432.7,1315.6h-1.8 M432.7,1318.3h-1.8 M432.7,1320.5h-1.8 M432.7,1322.4h-1.8 M432.7,1324.1h-1.8 M432.7,1325.5h-1.8 M432.7,1335.3h-1.8 M432.7,1340.3h-1.8 M432.7,1343.8h-1.8 M432.7,1346.5h-1.8 M432.7,1348.7h-1.8 M432.7,1350.6h-1.8 M432.7,1352.3h-1.8 M432.7,1353.7h-1.8 M432.7,1363.4h-1.8 M432.7,1368.4h-1.8 M432.7,1371.9h-1.8 M432.7,1374.6h-1.8 M432.7,1376.8h-1.8 M432.7,1378.7h-1.8 M432.7,1380.3h-1.8 M432.7,1381.8h-1.8 M432.7,1391.5h-1.8 M432.7,1396.4h-1.8 M432.7,1399.9h-1.8 M432.7,1402.7h-1.8 M432.7,1404.9h-1.8 M432.7,1406.8h-1.8 M432.7,1408.4h-1.8 M432.7,1409.8h-1.8 M432.7,1419.6h-1.8 M432.7,1424.5h-1.8 M432.7,1298.6h-3.5 M432.7,1326.8h-3.5 M432.7,1355.0h-3.5 M432.7,1383.0h-3.5 M432.7,1411.1h-3.5" stroke="#333" stroke-width="1.1" fill="none"/>
<path d="M435.6,1427.5v1.8 M438.4,1427.5v1.8 M440.6,1427.5v1.8 M442.5,1427.5v1.8 M444.1,1427.5v1.8 M445.5,1427.5v1.8 M455.3,1427.5v1.8 M460.3,1427.5v1.8 M463.8,1427.5v1.8 M466.5,1427.5v1.8 M468.8,1427.5v1.8 M470.7,1427.5v1.8 M472.3,1427.5v1.8 M473.8,1427.5v1.8 M483.6,1427.5v1.8 M488.5,1427.5v1.8 M492.1,1427.5v1.8 M494.8,1427.5v1.8 M497.0,1427.5v1.8 M498.9,1427.5v1.8 M500.6,1427.5v1.8 M502.0,1427.5v1.8 M511.7,1427.5v1.8 M516.6,1427.5v1.8 M520.1,1427.5v1.8 M522.8,1427.5v1.8 M525.0,1427.5v1.8 M526.8,1427.5v1.8 M528.5,1427.5v1.8 M529.9,1427.5v1.8 M539.5,1427.5v1.8 M544.4,1427.5v1.8 M547.9,1427.5v1.8 M550.6,1427.5v1.8 M552.8,1427.5v1.8 M554.7,1427.5v1.8 M556.3,1427.5v1.8 M557.7,1427.5v1.8 M567.4,1427.5v1.8 M446.8,1427.5v3.5 M475.1,1427.5v3.5 M503.3,1427.5v3.5 M531.1,1427.5v3.5 M559.0,1427.5v3.5" stroke="#333" stroke-width="1.1" fill="none"/>
<rect x="494.30" y="1307.20" width="26.50" height="26.10" fill="none" stroke="#333" stroke-width="1.2"/>
<text x="528.1" y="1307.6" font-size="17.80" fill="#000">Treg</text>
<text x="406.5" y="1305.4" font-size="15.00" fill="#000">10<tspan font-size="9.0" dy="-5.4">5</tspan></text>
<text x="406.5" y="1360.4" font-size="15.00" fill="#000">10<tspan font-size="9.0" dy="-5.4">3</tspan></text>
<text x="406.5" y="1417.2" font-size="15.00" fill="#000">10<tspan font-size="9.0" dy="-5.4">1</tspan></text>
<text x="439.0" y="1445.9" font-size="15.00" fill="#000">10<tspan font-size="9.0" dy="-5.4">1</tspan></text>
<text x="494.7" y="1445.9" font-size="15.00" fill="#000">10<tspan font-size="9.0" dy="-5.4">3</tspan></text>
<text x="549.7" y="1445.9" font-size="15.00" fill="#000">10<tspan font-size="9.0" dy="-5.4">5</tspan></text>
<text x="457.3" y="1285.4" font-size="22.30" fill="#000">iPSC/RT</text>
<line x1="53.30" y1="1456.00" x2="53.30" y2="1108.00" stroke="#000" stroke-width="2.4"/>
<path d="M47,1110.8 L53.3,1094.5 L59.6,1110.8 Z" fill="#111"/>
<line x1="52.20" y1="1455.00" x2="565.00" y2="1455.00" stroke="#000" stroke-width="2.4"/>
<path d="M562,1448.7 L578.5,1455 L562,1461.3 Z" fill="#111"/>
<text transform="translate(47.6,1315.5) rotate(-90)" x="0.0" y="0" font-size="22.19" fill="#000">Foxp3-PE</text>
<text x="278.6" y="1475.6" font-size="22.34" fill="#000">CD25-APC</text>
<text transform="translate(2.0,37.0) scale(1.0,1)" x="-2.7" y="0" font-size="59">a</text>
<text transform="translate(3.0,580.0) scale(1.1,1)" x="-2.8" y="0" font-size="63">b</text>
<text transform="translate(506.6,577.6) scale(1.13,1)" x="-2.7" y="0" font-size="61">c</text>
<text transform="translate(6.6,1101.8) scale(1.05,1)" x="-2.7" y="0" font-size="60">d</text>
<text transform="translate(1001.4,1104.0) scale(1.1,1)" x="-2.7" y="0" font-size="59">e</text>
<text transform="translate(1409.0,1102.6) scale(1.1,1)" x="-2.8" y="0" font-size="63">f</text>
<rect x="1554.45" y="403.30" width="30.90" height="26.20" fill="#333333" stroke="#000" stroke-width="4.6"/>
<rect x="1600.45" y="359.80" width="30.90" height="69.70" fill="#d4d4d4" stroke="#000" stroke-width="4.6"/>
<rect x="1647.05" y="348.30" width="30.90" height="81.20" fill="#5858f6" stroke="#000" stroke-width="4.6"/>
<rect x="1693.45" y="357.30" width="30.90" height="72.20" fill="#c3c3fd" stroke="#000" stroke-width="4.6"/>
<rect x="1740.30" y="314.80" width="30.90" height="114.70" fill="#f64444" stroke="#000" stroke-width="4.6"/>
<rect x="1787.30" y="246.05" width="30.90" height="183.45" fill="#fda5a5" stroke="#000" stroke-width="4.6"/>
<line x1="1802.75" y1="243.75" x2="1802.75" y2="225.50" stroke="#000" stroke-width="3.6"/>
<line x1="1794.25" y1="225.50" x2="1811.25" y2="225.50" stroke="#000" stroke-width="3.6"/>
<circle cx="1563.0" cy="407.5" r="8.6" fill="#fff" stroke="#000" stroke-width="3.6"/>
<circle cx="1576.8" cy="407.5" r="8.6" fill="#fff" stroke="#000" stroke-width="3.6"/>
<circle cx="1570.0" cy="405.0" r="8.6" fill="#fff" stroke="#000" stroke-width="3.6"/>
<circle cx="1609.2" cy="361.2" r="8.6" fill="#fff" stroke="#000" stroke-width="3.6"/>
<circle cx="1613.0" cy="355.0" r="8.6" fill="#fff" stroke="#000" stroke-width="3.6"/>
<circle cx="1623.0" cy="356.2" r="8.6" fill="#fff" stroke="#000" stroke-width="3.6"/>
<circle cx="1617.0" cy="358.0" r="8.6" fill="#fff" stroke="#000" stroke-width="3.6"/>
<rect x="1646.9" y="322.6" width="17.2" height="17.2" fill="#fff" stroke="#000" stroke-width="3.6"/>
<rect x="1661.9" y="337.6" width="17.2" height="17.2" fill="#fff" stroke="#000" stroke-width="3.6"/>
<rect x="1646.9" y="348.9" width="17.2" height="17.2" fill="#fff" stroke="#000" stroke-width="3.6"/>
<rect x="1693.2" y="350.1" width="17.2" height="17.2" fill="#fff" stroke="#000" stroke-width="3.6"/>
<rect x="1707.4" y="356.4" width="17.2" height="17.2" fill="#fff" stroke="#000" stroke-width="3.6"/>
<rect x="1700.7" y="378.9" width="17.2" height="17.2" fill="#fff" stroke="#000" stroke-width="3.6"/>
<path d="M1748.8,283.9 L1759.3,294.5 L1748.8,305.1 L1738.2,294.5 Z" fill="#fff" stroke="#000" stroke-width="3.6" stroke-linejoin="miter"/>
<path d="M1751.8,298.1 L1762.3,308.8 L1751.8,319.4 L1741.2,308.8 Z" fill="#fff" stroke="#000" stroke-width="3.6" stroke-linejoin="miter"/>
<path d="M1762.5,304.4 L1773.1,315.0 L1762.5,325.6 L1751.9,315.0 Z" fill="#fff" stroke="#000" stroke-width="3.6" stroke-linejoin="miter"/>
<path d="M1748.8,319.4 L1759.3,330.0 L1748.8,340.6 L1738.2,330.0 Z" fill="#fff" stroke="#000" stroke-width="3.6" stroke-linejoin="miter"/>
<path d="M1802.2,200.7 L1812.8,211.2 L1802.2,221.8 L1791.7,211.2 Z" fill="#fff" stroke="#000" stroke-width="3.6" stroke-linejoin="miter"/>
<path d="M1802.2,235.7 L1812.8,246.2 L1802.2,256.9 L1791.7,246.2 Z" fill="#fff" stroke="#000" stroke-width="3.6" stroke-linejoin="miter"/>
<path d="M1802.2,261.9 L1812.8,272.5 L1802.2,283.1 L1791.7,272.5 Z" fill="#fff" stroke="#000" stroke-width="3.6" stroke-linejoin="miter"/>
<line x1="1533.50" y1="166.40" x2="1533.50" y2="431.60" stroke="#000" stroke-width="4.2"/>
<line x1="1515.50" y1="429.50" x2="1839.00" y2="429.50" stroke="#000" stroke-width="4.2"/>
<line x1="1514.50" y1="429.50" x2="1533.50" y2="429.50" stroke="#000" stroke-width="4.2"/>
<line x1="1514.50" y1="364.25" x2="1533.50" y2="364.25" stroke="#000" stroke-width="4.2"/>
<line x1="1514.50" y1="299.00" x2="1533.50" y2="299.00" stroke="#000" stroke-width="4.2"/>
<line x1="1514.50" y1="233.75" x2="1533.50" y2="233.75" stroke="#000" stroke-width="4.2"/>
<line x1="1514.50" y1="168.50" x2="1533.50" y2="168.50" stroke="#000" stroke-width="4.2"/>
<text x="1509.0" y="438.2" font-size="25" text-anchor="end">0</text>
<text x="1509.0" y="307.8" font-size="25" text-anchor="end">20</text>
<text x="1509.0" y="177.2" font-size="25" text-anchor="end">40</text>
<line x1="1568.50" y1="429.50" x2="1568.50" y2="443.60" stroke="#000" stroke-width="4.2"/>
<line x1="1615.00" y1="429.50" x2="1615.00" y2="443.60" stroke="#000" stroke-width="4.2"/>
<line x1="1661.75" y1="429.50" x2="1661.75" y2="443.60" stroke="#000" stroke-width="4.2"/>
<line x1="1708.50" y1="429.50" x2="1708.50" y2="443.60" stroke="#000" stroke-width="4.2"/>
<line x1="1755.00" y1="429.50" x2="1755.00" y2="443.60" stroke="#000" stroke-width="4.2"/>
<line x1="1801.75" y1="429.50" x2="1801.75" y2="443.60" stroke="#000" stroke-width="4.2"/>
<path d="M1568.5,386.0 L1568.5,160.0 L1800.0,160.0 L1800.0,193.8" fill="none" stroke="#000" stroke-width="1.6"/>
<path d="M1712.0,216.0 L1712.0,176.0 L1800.0,176.0 L1800.0,176.0" fill="none" stroke="#000" stroke-width="1.6"/>
<path d="M1755.0,241.0 L1755.0,190.0 L1800.0,190.0 L1800.0,190.0" fill="none" stroke="#000" stroke-width="1.6"/>
<path d="M1568.5,246.0 L1568.5,246.0 L1755.5,246.0 L1755.5,270.0" fill="none" stroke="#000" stroke-width="1.6"/>
<path d="M1568.5,312.5 L1568.5,312.5 L1616.0,312.5 L1616.0,329.0" fill="none" stroke="#000" stroke-width="1.6"/>
<text x="1666.0" y="165.8" font-size="30.0" letter-spacing="2.61" stroke="#000" stroke-width="0.7">***</text>
<text x="1734.9" y="184.3" font-size="30.0" letter-spacing="2.61" stroke="#000" stroke-width="0.7">***</text>
<text x="1778.6" y="200.0" font-size="30" text-anchor="middle" stroke="#000" stroke-width="0.7">*</text>
<text x="1648.0" y="252.6" font-size="26.1" letter-spacing="0.00" stroke="#000" stroke-width="0.7">**</text>
<text x="1596.8" y="315.1" font-size="30" text-anchor="middle" stroke="#000" stroke-width="0.7">*</text>
<text x="1496.5" y="122.5" font-size="27.34" fill="#000">Tumor-infiltrating CD8<tspan font-size="16.4" dy="-9.8">+</tspan><tspan dy="9.8"> TILs</tspan></text>
<text transform="translate(1478.0,476.0) rotate(-90)" x="0.0" y="0" font-size="31.72" fill="#000">CD8<tspan font-size="19.0" dy="-11.4">+</tspan><tspan dy="11.4"> T cells of CD45</tspan><tspan font-size="19.0" dy="-11.4">+</tspan><tspan dy="11.4"> T (%)</tspan></text>
<rect x="1852.5" y="167.0" width="26.5" height="10.0" fill="#333333" stroke="#000" stroke-width="3"/>
<text x="1885.5" y="180.9" font-size="24.8">PBS</text>
<rect x="1852.5" y="204.0" width="26.5" height="10.0" fill="#d4d4d4" stroke="#000" stroke-width="3"/>
<text x="1885.5" y="217.9" font-size="24.8">GM-CSF</text>
<rect x="1852.5" y="242.0" width="26.5" height="10.0" fill="#5858f6" stroke="#000" stroke-width="3"/>
<text x="1885.5" y="255.9" font-size="24.8">3T3/GM-CSF</text>
<rect x="1852.5" y="280.0" width="26.5" height="10.0" fill="#c3c3fd" stroke="#000" stroke-width="3"/>
<text x="1885.5" y="293.9" font-size="24.8">RT</text>
<rect x="1852.5" y="318.0" width="26.5" height="10.0" fill="#f64444" stroke="#000" stroke-width="3"/>
<text x="1885.5" y="331.9" font-size="24.8">iPSC/GM-CSF</text>
<rect x="1852.5" y="356.0" width="26.5" height="10.0" fill="#fda5a5" stroke="#000" stroke-width="3"/>
<text x="1885.5" y="369.9" font-size="24.8">iPSC/RT</text>
<rect x="150.15" y="721.05" width="30.90" height="201.70" fill="#333333" stroke="#000" stroke-width="4.6"/>
<rect x="197.05" y="797.30" width="30.90" height="125.45" fill="#d4d4d4" stroke="#000" stroke-width="4.6"/>
<rect x="242.55" y="782.80" width="30.90" height="139.95" fill="#5858f6" stroke="#000" stroke-width="4.6"/>
<rect x="288.95" y="712.80" width="30.90" height="209.95" fill="#c3c3fd" stroke="#000" stroke-width="4.6"/>
<rect x="335.35" y="781.80" width="30.90" height="140.95" fill="#f64444" stroke="#000" stroke-width="4.6"/>
<rect x="381.55" y="779.80" width="30.90" height="142.95" fill="#fda5a5" stroke="#000" stroke-width="4.6"/>
<line x1="212.50" y1="795.00" x2="212.50" y2="750.00" stroke="#000" stroke-width="3.6"/>
<line x1="204.00" y1="750.00" x2="221.00" y2="750.00" stroke="#000" stroke-width="3.6"/>
<line x1="258.00" y1="780.50" x2="258.00" y2="760.00" stroke="#000" stroke-width="3.6"/>
<line x1="249.50" y1="760.00" x2="266.50" y2="760.00" stroke="#000" stroke-width="3.6"/>
<line x1="350.80" y1="779.50" x2="350.80" y2="753.00" stroke="#000" stroke-width="3.6"/>
<line x1="342.30" y1="753.00" x2="359.30" y2="753.00" stroke="#000" stroke-width="3.6"/>
<line x1="397.00" y1="777.50" x2="397.00" y2="729.00" stroke="#000" stroke-width="3.6"/>
<line x1="388.50" y1="729.00" x2="405.50" y2="729.00" stroke="#000" stroke-width="3.6"/>
<circle cx="158.8" cy="721.0" r="8.6" fill="#fff" stroke="#000" stroke-width="3.6"/>
<circle cx="165.5" cy="710.0" r="8.6" fill="#fff" stroke="#000" stroke-width="3.6"/>
<circle cx="172.5" cy="719.5" r="8.6" fill="#fff" stroke="#000" stroke-width="3.6"/>
<circle cx="205.0" cy="724.5" r="8.6" fill="#fff" stroke="#000" stroke-width="3.6"/>
<circle cx="219.0" cy="712.5" r="8.6" fill="#fff" stroke="#000" stroke-width="3.6"/>
<circle cx="205.0" cy="871.0" r="8.6" fill="#fff" stroke="#000" stroke-width="3.6"/>
<circle cx="219.0" cy="867.5" r="8.6" fill="#fff" stroke="#000" stroke-width="3.6"/>
<rect x="248.9" y="738.9" width="17.2" height="17.2" fill="#fff" stroke="#000" stroke-width="3.6"/>
<rect x="248.9" y="770.1" width="17.2" height="17.2" fill="#fff" stroke="#000" stroke-width="3.6"/>
<rect x="248.9" y="801.4" width="17.2" height="17.2" fill="#fff" stroke="#000" stroke-width="3.6"/>
<rect x="290.1" y="715.1" width="17.2" height="17.2" fill="#fff" stroke="#000" stroke-width="3.6"/>
<rect x="295.1" y="706.4" width="17.2" height="17.2" fill="#fff" stroke="#000" stroke-width="3.6"/>
<rect x="302.4" y="711.4" width="17.2" height="17.2" fill="#fff" stroke="#000" stroke-width="3.6"/>
<path d="M350.0,695.4 L360.6,706.0 L350.0,716.6 L339.4,706.0 Z" fill="#fff" stroke="#000" stroke-width="3.6" stroke-linejoin="miter"/>
<path d="M343.8,771.9 L354.4,782.5 L343.8,793.1 L333.1,782.5 Z" fill="#fff" stroke="#000" stroke-width="3.6" stroke-linejoin="miter"/>
<path d="M356.0,788.1 L366.6,798.8 L356.0,809.4 L345.4,798.8 Z" fill="#fff" stroke="#000" stroke-width="3.6" stroke-linejoin="miter"/>
<path d="M350.0,813.1 L360.6,823.8 L350.0,834.4 L339.4,823.8 Z" fill="#fff" stroke="#000" stroke-width="3.6" stroke-linejoin="miter"/>
<path d="M396.8,685.4 L407.4,696.0 L396.8,706.6 L386.1,696.0 Z" fill="#fff" stroke="#000" stroke-width="3.6" stroke-linejoin="miter"/>
<path d="M396.8,761.9 L407.4,772.5 L396.8,783.1 L386.1,772.5 Z" fill="#fff" stroke="#000" stroke-width="3.6" stroke-linejoin="miter"/>
<path d="M396.8,849.4 L407.4,860.0 L396.8,870.6 L386.1,860.0 Z" fill="#fff" stroke="#000" stroke-width="3.6" stroke-linejoin="miter"/>
<line x1="130.00" y1="660.65" x2="130.00" y2="924.85" stroke="#000" stroke-width="4.2"/>
<line x1="111.00" y1="922.75" x2="433.75" y2="922.75" stroke="#000" stroke-width="4.2"/>
<line x1="111.00" y1="922.75" x2="130.00" y2="922.75" stroke="#000" stroke-width="4.2"/>
<line x1="111.00" y1="870.75" x2="130.00" y2="870.75" stroke="#000" stroke-width="4.2"/>
<line x1="111.00" y1="818.75" x2="130.00" y2="818.75" stroke="#000" stroke-width="4.2"/>
<line x1="111.00" y1="766.75" x2="130.00" y2="766.75" stroke="#000" stroke-width="4.2"/>
<line x1="111.00" y1="714.75" x2="130.00" y2="714.75" stroke="#000" stroke-width="4.2"/>
<line x1="111.00" y1="662.75" x2="130.00" y2="662.75" stroke="#000" stroke-width="4.2"/>
<text x="103.8" y="931.9" font-size="26" text-anchor="end">0</text>
<text x="103.8" y="827.9" font-size="26" text-anchor="end">20</text>
<text x="103.8" y="723.9" font-size="26" text-anchor="end">40</text>
<line x1="164.00" y1="922.75" x2="164.00" y2="936.85" stroke="#000" stroke-width="4.2"/>
<line x1="210.75" y1="922.75" x2="210.75" y2="936.85" stroke="#000" stroke-width="4.2"/>
<line x1="257.00" y1="922.75" x2="257.00" y2="936.85" stroke="#000" stroke-width="4.2"/>
<line x1="303.75" y1="922.75" x2="303.75" y2="936.85" stroke="#000" stroke-width="4.2"/>
<line x1="350.00" y1="922.75" x2="350.00" y2="936.85" stroke="#000" stroke-width="4.2"/>
<line x1="396.75" y1="922.75" x2="396.75" y2="936.85" stroke="#000" stroke-width="4.2"/>
<text x="123.9" y="612.5" font-size="27.11" fill="#000">Tumor-infiltrating MDSCs</text>
<text transform="translate(63.8,907.9) rotate(-90)" x="0.0" y="0" font-size="31.55" fill="#000">Gr1<tspan font-size="18.9" dy="-11.4">+</tspan><tspan dy="11.4"> MDSC (%)</tspan></text>
<rect x="1555.55" y="888.30" width="30.90" height="35.20" fill="#333333" stroke="#000" stroke-width="4.6"/>
<rect x="1601.80" y="897.30" width="30.90" height="26.20" fill="#d4d4d4" stroke="#000" stroke-width="4.6"/>
<rect x="1648.30" y="857.30" width="30.90" height="66.20" fill="#5858f6" stroke="#000" stroke-width="4.6"/>
<rect x="1694.80" y="815.30" width="30.90" height="108.20" fill="#c3c3fd" stroke="#000" stroke-width="4.6"/>
<rect x="1740.80" y="824.80" width="30.90" height="98.70" fill="#f64444" stroke="#000" stroke-width="4.6"/>
<rect x="1787.55" y="768.30" width="30.90" height="155.20" fill="#fda5a5" stroke="#000" stroke-width="4.6"/>
<line x1="1571.00" y1="886.00" x2="1571.00" y2="874.00" stroke="#000" stroke-width="3.6"/>
<line x1="1562.50" y1="874.00" x2="1579.50" y2="874.00" stroke="#000" stroke-width="3.6"/>
<circle cx="1565.0" cy="895.0" r="8.6" fill="#fff" stroke="#000" stroke-width="3.6"/>
<circle cx="1578.0" cy="873.8" r="8.6" fill="#fff" stroke="#000" stroke-width="3.6"/>
<circle cx="1610.5" cy="906.0" r="8.6" fill="#fff" stroke="#000" stroke-width="3.6"/>
<circle cx="1617.5" cy="885.0" r="8.6" fill="#fff" stroke="#000" stroke-width="3.6"/>
<circle cx="1624.0" cy="891.0" r="8.6" fill="#fff" stroke="#000" stroke-width="3.6"/>
<rect x="1648.4" y="835.1" width="17.2" height="17.2" fill="#fff" stroke="#000" stroke-width="3.6"/>
<rect x="1656.4" y="842.4" width="17.2" height="17.2" fill="#fff" stroke="#000" stroke-width="3.6"/>
<rect x="1648.4" y="858.9" width="17.2" height="17.2" fill="#fff" stroke="#000" stroke-width="3.6"/>
<rect x="1661.9" y="848.9" width="17.2" height="17.2" fill="#fff" stroke="#000" stroke-width="3.6"/>
<rect x="1698.9" y="812.4" width="17.2" height="17.2" fill="#fff" stroke="#000" stroke-width="3.6"/>
<rect x="1694.4" y="831.4" width="17.2" height="17.2" fill="#fff" stroke="#000" stroke-width="3.6"/>
<rect x="1709.4" y="813.9" width="17.2" height="17.2" fill="#fff" stroke="#000" stroke-width="3.6"/>
<rect x="1710.4" y="828.9" width="17.2" height="17.2" fill="#fff" stroke="#000" stroke-width="3.6"/>
<path d="M1749.0,789.4 L1759.6,800.0 L1749.0,810.6 L1738.4,800.0 Z" fill="#fff" stroke="#000" stroke-width="3.6" stroke-linejoin="miter"/>
<path d="M1763.0,803.1 L1773.6,813.8 L1763.0,824.4 L1752.4,813.8 Z" fill="#fff" stroke="#000" stroke-width="3.6" stroke-linejoin="miter"/>
<path d="M1756.0,840.4 L1766.6,851.0 L1756.0,861.6 L1745.4,851.0 Z" fill="#fff" stroke="#000" stroke-width="3.6" stroke-linejoin="miter"/>
<path d="M1802.0,690.4 L1812.6,701.0 L1802.0,711.6 L1791.4,701.0 Z" fill="#fff" stroke="#000" stroke-width="3.6" stroke-linejoin="miter"/>
<path d="M1802.0,725.4 L1812.6,736.0 L1802.0,746.6 L1791.4,736.0 Z" fill="#fff" stroke="#000" stroke-width="3.6" stroke-linejoin="miter"/>
<path d="M1802.0,751.4 L1812.6,762.0 L1802.0,772.6 L1791.4,762.0 Z" fill="#fff" stroke="#000" stroke-width="3.6" stroke-linejoin="miter"/>
<path d="M1802.0,849.4 L1812.6,860.0 L1802.0,870.6 L1791.4,860.0 Z" fill="#fff" stroke="#000" stroke-width="3.6" stroke-linejoin="miter"/>
<line x1="1535.00" y1="661.40" x2="1535.00" y2="925.60" stroke="#000" stroke-width="4.2"/>
<line x1="1515.50" y1="923.50" x2="1839.00" y2="923.50" stroke="#000" stroke-width="4.2"/>
<line x1="1516.00" y1="923.50" x2="1535.00" y2="923.50" stroke="#000" stroke-width="4.2"/>
<line x1="1516.00" y1="871.50" x2="1535.00" y2="871.50" stroke="#000" stroke-width="4.2"/>
<line x1="1516.00" y1="819.50" x2="1535.00" y2="819.50" stroke="#000" stroke-width="4.2"/>
<line x1="1516.00" y1="767.50" x2="1535.00" y2="767.50" stroke="#000" stroke-width="4.2"/>
<line x1="1516.00" y1="715.50" x2="1535.00" y2="715.50" stroke="#000" stroke-width="4.2"/>
<line x1="1516.00" y1="663.50" x2="1535.00" y2="663.50" stroke="#000" stroke-width="4.2"/>
<text x="1514.5" y="933.0" font-size="27" text-anchor="end">0</text>
<text x="1514.5" y="829.0" font-size="27" text-anchor="end">10</text>
<text x="1514.5" y="725.0" font-size="27" text-anchor="end">20</text>
<line x1="1570.50" y1="923.50" x2="1570.50" y2="937.60" stroke="#000" stroke-width="4.2"/>
<line x1="1616.75" y1="923.50" x2="1616.75" y2="937.60" stroke="#000" stroke-width="4.2"/>
<line x1="1663.00" y1="923.50" x2="1663.00" y2="937.60" stroke="#000" stroke-width="4.2"/>
<line x1="1709.25" y1="923.50" x2="1709.25" y2="937.60" stroke="#000" stroke-width="4.2"/>
<line x1="1755.50" y1="923.50" x2="1755.50" y2="937.60" stroke="#000" stroke-width="4.2"/>
<line x1="1801.75" y1="923.50" x2="1801.75" y2="937.60" stroke="#000" stroke-width="4.2"/>
<path d="M1572.0,841.0 L1572.0,648.8 L1803.0,648.8 L1803.0,682.5" fill="none" stroke="#000" stroke-width="1.6"/>
<path d="M1709.0,760.0 L1709.0,665.5 L1803.0,665.5 L1803.0,665.5" fill="none" stroke="#000" stroke-width="1.6"/>
<path d="M1752.0,770.0 L1752.0,680.0 L1803.0,680.0 L1803.0,680.0" fill="none" stroke="#000" stroke-width="1.6"/>
<path d="M1572.0,775.0 L1572.0,775.0 L1710.5,775.0 L1710.5,790.0" fill="none" stroke="#000" stroke-width="1.6"/>
<text x="1664.9" y="653.1" font-size="30.0" letter-spacing="2.61" stroke="#000" stroke-width="0.7">***</text>
<text x="1748.9" y="673.1" font-size="30" text-anchor="middle" stroke="#000" stroke-width="0.7">*</text>
<text x="1779.6" y="687.9" font-size="30" text-anchor="middle" stroke="#000" stroke-width="0.7">*</text>
<text x="1630.4" y="780.9" font-size="30.0" letter-spacing="3.88" stroke="#000" stroke-width="0.7">**</text>
<text x="1506.0" y="612.0" font-size="27.28" fill="#000">Tumor-infiltrating CD4<tspan font-size="16.4" dy="-9.8">+</tspan><tspan dy="9.8"> TILs</tspan></text>
<text transform="translate(1478.0,960.0) rotate(-90)" x="0.0" y="0" font-size="31.56" fill="#000">CD4<tspan font-size="18.9" dy="-11.4">+</tspan><tspan dy="11.4"> T cells of CD45</tspan><tspan font-size="18.9" dy="-11.4">+</tspan><tspan dy="11.4"> T (%)</tspan></text>
<rect x="1852.5" y="657.0" width="26.5" height="10.0" fill="#333333" stroke="#000" stroke-width="3"/>
<text x="1885.5" y="670.9" font-size="24.8">PBS</text>
<rect x="1852.5" y="694.0" width="26.5" height="10.0" fill="#d4d4d4" stroke="#000" stroke-width="3"/>
<text x="1885.5" y="707.9" font-size="24.8">GM-CSF</text>
<rect x="1852.5" y="732.0" width="26.5" height="10.0" fill="#5858f6" stroke="#000" stroke-width="3"/>
<text x="1885.5" y="745.9" font-size="24.8">3T3/GM-CSF</text>
<rect x="1852.5" y="770.0" width="26.5" height="10.0" fill="#c3c3fd" stroke="#000" stroke-width="3"/>
<text x="1885.5" y="783.9" font-size="24.8">RT</text>
<rect x="1852.5" y="808.0" width="26.5" height="10.0" fill="#f64444" stroke="#000" stroke-width="3"/>
<text x="1885.5" y="821.9" font-size="24.8">iPSC/GM-CSF</text>
<rect x="1852.5" y="846.0" width="26.5" height="10.0" fill="#fda5a5" stroke="#000" stroke-width="3"/>
<text x="1885.5" y="859.9" font-size="24.8">iPSC/RT</text>
<rect x="690.00" y="1297.30" width="30.90" height="125.50" fill="#333333" stroke="#000" stroke-width="4.6"/>
<rect x="735.55" y="1293.30" width="30.90" height="129.50" fill="#d4d4d4" stroke="#000" stroke-width="4.6"/>
<rect x="780.70" y="1312.90" width="30.90" height="109.90" fill="#5858f6" stroke="#000" stroke-width="4.6"/>
<rect x="826.80" y="1304.30" width="30.90" height="118.50" fill="#c3c3fd" stroke="#000" stroke-width="4.6"/>
<rect x="872.75" y="1318.00" width="30.90" height="104.80" fill="#f64444" stroke="#000" stroke-width="4.6"/>
<rect x="918.55" y="1335.10" width="30.90" height="87.70" fill="#fda5a5" stroke="#000" stroke-width="4.6"/>
<line x1="705.45" y1="1295.00" x2="705.45" y2="1284.00" stroke="#000" stroke-width="3.6"/>
<line x1="696.95" y1="1284.00" x2="713.95" y2="1284.00" stroke="#000" stroke-width="3.6"/>
<line x1="751.00" y1="1291.00" x2="751.00" y2="1262.50" stroke="#000" stroke-width="3.6"/>
<line x1="742.50" y1="1262.50" x2="759.50" y2="1262.50" stroke="#000" stroke-width="3.6"/>
<line x1="796.15" y1="1310.60" x2="796.15" y2="1288.00" stroke="#000" stroke-width="3.6"/>
<line x1="787.65" y1="1288.00" x2="804.65" y2="1288.00" stroke="#000" stroke-width="3.6"/>
<line x1="842.25" y1="1302.00" x2="842.25" y2="1281.40" stroke="#000" stroke-width="3.6"/>
<line x1="833.75" y1="1281.40" x2="850.75" y2="1281.40" stroke="#000" stroke-width="3.6"/>
<line x1="934.00" y1="1332.80" x2="934.00" y2="1305.00" stroke="#000" stroke-width="3.6"/>
<line x1="925.50" y1="1305.00" x2="942.50" y2="1305.00" stroke="#000" stroke-width="3.6"/>
<circle cx="704.6" cy="1233.6" r="8.6" fill="#fff" stroke="#000" stroke-width="3.6"/>
<circle cx="704.6" cy="1273.3" r="8.6" fill="#fff" stroke="#000" stroke-width="3.6"/>
<circle cx="711.4" cy="1324.7" r="8.6" fill="#fff" stroke="#000" stroke-width="3.6"/>
<circle cx="698.4" cy="1344.4" r="8.6" fill="#fff" stroke="#000" stroke-width="3.6"/>
<circle cx="758.2" cy="1236.3" r="8.6" fill="#fff" stroke="#000" stroke-width="3.6"/>
<circle cx="744.6" cy="1250.9" r="8.6" fill="#fff" stroke="#000" stroke-width="3.6"/>
<circle cx="758.2" cy="1327.4" r="8.6" fill="#fff" stroke="#000" stroke-width="3.6"/>
<circle cx="744.6" cy="1344.4" r="8.6" fill="#fff" stroke="#000" stroke-width="3.6"/>
<rect x="787.4" y="1192.2" width="17.2" height="17.2" fill="#fff" stroke="#000" stroke-width="3.6"/>
<rect x="787.4" y="1268.8" width="17.2" height="17.2" fill="#fff" stroke="#000" stroke-width="3.6"/>
<rect x="787.4" y="1313.4" width="17.2" height="17.2" fill="#fff" stroke="#000" stroke-width="3.6"/>
<rect x="782.4" y="1364.7" width="17.2" height="17.2" fill="#fff" stroke="#000" stroke-width="3.6"/>
<rect x="794.7" y="1364.7" width="17.2" height="17.2" fill="#fff" stroke="#000" stroke-width="3.6"/>
<rect x="833.9" y="1253.9" width="17.2" height="17.2" fill="#fff" stroke="#000" stroke-width="3.6"/>
<rect x="827.1" y="1316.1" width="17.2" height="17.2" fill="#fff" stroke="#000" stroke-width="3.6"/>
<rect x="840.7" y="1306.6" width="17.2" height="17.2" fill="#fff" stroke="#000" stroke-width="3.6"/>
<path d="M888.0,1258.6 L898.6,1269.2 L888.0,1279.8 L877.4,1269.2 Z" fill="#fff" stroke="#000" stroke-width="3.6" stroke-linejoin="miter"/>
<path d="M888.0,1293.2 L898.6,1303.8 L888.0,1314.4 L877.4,1303.8 Z" fill="#fff" stroke="#000" stroke-width="3.6" stroke-linejoin="miter"/>
<path d="M894.7,1322.2 L905.3,1332.8 L894.7,1343.4 L884.1,1332.8 Z" fill="#fff" stroke="#000" stroke-width="3.6" stroke-linejoin="miter"/>
<path d="M881.2,1342.4 L891.8,1353.0 L881.2,1363.6 L870.6,1353.0 Z" fill="#fff" stroke="#000" stroke-width="3.6" stroke-linejoin="miter"/>
<path d="M933.6,1272.2 L944.2,1282.8 L933.6,1293.4 L923.0,1282.8 Z" fill="#fff" stroke="#000" stroke-width="3.6" stroke-linejoin="miter"/>
<path d="M933.6,1331.6 L944.2,1342.2 L933.6,1352.8 L923.0,1342.2 Z" fill="#fff" stroke="#000" stroke-width="3.6" stroke-linejoin="miter"/>
<path d="M933.6,1359.2 L944.2,1369.8 L933.6,1380.4 L923.0,1369.8 Z" fill="#fff" stroke="#000" stroke-width="3.6" stroke-linejoin="miter"/>
<line x1="669.50" y1="1163.90" x2="669.50" y2="1424.90" stroke="#000" stroke-width="4.2"/>
<line x1="650.60" y1="1422.80" x2="971.00" y2="1422.80" stroke="#000" stroke-width="4.2"/>
<line x1="650.50" y1="1422.80" x2="669.50" y2="1422.80" stroke="#000" stroke-width="4.2"/>
<line x1="650.50" y1="1337.20" x2="669.50" y2="1337.20" stroke="#000" stroke-width="4.2"/>
<line x1="650.50" y1="1251.60" x2="669.50" y2="1251.60" stroke="#000" stroke-width="4.2"/>
<line x1="650.50" y1="1166.00" x2="669.50" y2="1166.00" stroke="#000" stroke-width="4.2"/>
<text x="642.5" y="1431.5" font-size="25" text-anchor="end">0</text>
<text x="642.5" y="1346.0" font-size="25" text-anchor="end">1</text>
<text x="642.5" y="1260.3" font-size="25" text-anchor="end">2</text>
<text x="642.5" y="1174.8" font-size="25" text-anchor="end">3</text>
<line x1="703.80" y1="1422.80" x2="703.80" y2="1436.90" stroke="#000" stroke-width="4.2"/>
<line x1="750.00" y1="1422.80" x2="750.00" y2="1436.90" stroke="#000" stroke-width="4.2"/>
<line x1="795.70" y1="1422.80" x2="795.70" y2="1436.90" stroke="#000" stroke-width="4.2"/>
<line x1="842.00" y1="1422.80" x2="842.00" y2="1436.90" stroke="#000" stroke-width="4.2"/>
<line x1="887.70" y1="1422.80" x2="887.70" y2="1436.90" stroke="#000" stroke-width="4.2"/>
<line x1="933.60" y1="1422.80" x2="933.60" y2="1436.90" stroke="#000" stroke-width="4.2"/>
<text x="629.8" y="1108.4" font-size="27.41" fill="#000">Tumor-infiltrating Foxp3<tspan font-size="16.4" dy="-9.9">+</tspan><tspan dy="9.9"> Treg</tspan></text>
<text transform="translate(616.0,1476.0) rotate(-90)" x="0.0" y="0" font-size="32.20" fill="#000">Treg T cells of CD45<tspan font-size="19.3" dy="-11.6">+</tspan><tspan dy="11.6"> T (%)</tspan></text>
<rect x="1126.75" y="1415.60" width="30.90" height="8.50" fill="#333333" stroke="#000" stroke-width="4.6"/>
<rect x="1173.15" y="1392.90" width="30.90" height="31.20" fill="#d4d4d4" stroke="#000" stroke-width="4.6"/>
<rect x="1218.95" y="1351.80" width="30.90" height="72.30" fill="#5858f6" stroke="#000" stroke-width="4.6"/>
<rect x="1265.10" y="1392.90" width="30.90" height="31.20" fill="#c3c3fd" stroke="#000" stroke-width="4.6"/>
<rect x="1310.90" y="1364.50" width="30.90" height="59.60" fill="#f64444" stroke="#000" stroke-width="4.6"/>
<rect x="1357.05" y="1291.60" width="30.90" height="132.50" fill="#fda5a5" stroke="#000" stroke-width="4.6"/>
<line x1="1326.35" y1="1362.20" x2="1326.35" y2="1350.00" stroke="#000" stroke-width="3.6"/>
<line x1="1317.85" y1="1350.00" x2="1334.85" y2="1350.00" stroke="#000" stroke-width="3.6"/>
<line x1="1372.50" y1="1289.30" x2="1372.50" y2="1240.80" stroke="#000" stroke-width="3.6"/>
<line x1="1364.00" y1="1240.80" x2="1381.00" y2="1240.80" stroke="#000" stroke-width="3.6"/>
<circle cx="1136.2" cy="1416.0" r="8.6" fill="#fff" stroke="#000" stroke-width="3.6"/>
<circle cx="1143.3" cy="1407.6" r="8.6" fill="#fff" stroke="#000" stroke-width="3.6"/>
<circle cx="1149.0" cy="1412.0" r="8.6" fill="#fff" stroke="#000" stroke-width="3.6"/>
<circle cx="1181.0" cy="1382.0" r="8.6" fill="#fff" stroke="#000" stroke-width="3.6"/>
<circle cx="1195.8" cy="1371.6" r="8.6" fill="#fff" stroke="#000" stroke-width="3.6"/>
<circle cx="1181.0" cy="1402.0" r="8.6" fill="#fff" stroke="#000" stroke-width="3.6"/>
<circle cx="1195.2" cy="1400.5" r="8.6" fill="#fff" stroke="#000" stroke-width="3.6"/>
<rect x="1218.4" y="1305.4" width="17.2" height="17.2" fill="#fff" stroke="#000" stroke-width="3.6"/>
<rect x="1232.0" y="1324.4" width="17.2" height="17.2" fill="#fff" stroke="#000" stroke-width="3.6"/>
<rect x="1225.4" y="1388.4" width="17.2" height="17.2" fill="#fff" stroke="#000" stroke-width="3.6"/>
<rect x="1270.9" y="1377.8" width="17.2" height="17.2" fill="#fff" stroke="#000" stroke-width="3.6"/>
<rect x="1263.8" y="1394.8" width="17.2" height="17.2" fill="#fff" stroke="#000" stroke-width="3.6"/>
<rect x="1278.6" y="1390.4" width="17.2" height="17.2" fill="#fff" stroke="#000" stroke-width="3.6"/>
<path d="M1319.3,1334.6 L1329.9,1345.2 L1319.3,1355.8 L1308.7,1345.2 Z" fill="#fff" stroke="#000" stroke-width="3.6" stroke-linejoin="miter"/>
<path d="M1332.0,1330.4 L1342.6,1341.0 L1332.0,1351.6 L1321.4,1341.0 Z" fill="#fff" stroke="#000" stroke-width="3.6" stroke-linejoin="miter"/>
<path d="M1319.3,1371.4 L1329.9,1382.0 L1319.3,1392.6 L1308.7,1382.0 Z" fill="#fff" stroke="#000" stroke-width="3.6" stroke-linejoin="miter"/>
<path d="M1333.4,1370.1 L1344.0,1380.7 L1333.4,1391.3 L1322.8,1380.7 Z" fill="#fff" stroke="#000" stroke-width="3.6" stroke-linejoin="miter"/>
<path d="M1371.8,1187.0 L1382.4,1197.6 L1371.8,1208.2 L1361.2,1197.6 Z" fill="#fff" stroke="#000" stroke-width="3.6" stroke-linejoin="miter"/>
<path d="M1371.8,1304.8 L1382.4,1315.4 L1371.8,1326.0 L1361.2,1315.4 Z" fill="#fff" stroke="#000" stroke-width="3.6" stroke-linejoin="miter"/>
<path d="M1371.8,1340.3 L1382.4,1350.9 L1371.8,1361.5 L1361.2,1350.9 Z" fill="#fff" stroke="#000" stroke-width="3.6" stroke-linejoin="miter"/>
<line x1="1107.30" y1="1163.40" x2="1107.30" y2="1426.20" stroke="#000" stroke-width="4.2"/>
<line x1="1089.40" y1="1424.10" x2="1408.60" y2="1424.10" stroke="#000" stroke-width="4.2"/>
<line x1="1088.30" y1="1424.10" x2="1107.30" y2="1424.10" stroke="#000" stroke-width="4.2"/>
<line x1="1088.30" y1="1337.90" x2="1107.30" y2="1337.90" stroke="#000" stroke-width="4.2"/>
<line x1="1088.30" y1="1251.70" x2="1107.30" y2="1251.70" stroke="#000" stroke-width="4.2"/>
<line x1="1088.30" y1="1165.50" x2="1107.30" y2="1165.50" stroke="#000" stroke-width="4.2"/>
<text x="1085.0" y="1433.0" font-size="25.5" text-anchor="end">0</text>
<text x="1085.0" y="1346.8" font-size="25.5" text-anchor="end">20</text>
<text x="1085.0" y="1260.6" font-size="25.5" text-anchor="end">40</text>
<text x="1085.0" y="1174.4" font-size="25.5" text-anchor="end">60</text>
<line x1="1141.90" y1="1424.10" x2="1141.90" y2="1438.20" stroke="#000" stroke-width="4.2"/>
<line x1="1187.30" y1="1424.10" x2="1187.30" y2="1438.20" stroke="#000" stroke-width="4.2"/>
<line x1="1233.60" y1="1424.10" x2="1233.60" y2="1438.20" stroke="#000" stroke-width="4.2"/>
<line x1="1279.50" y1="1424.10" x2="1279.50" y2="1438.20" stroke="#000" stroke-width="4.2"/>
<line x1="1325.50" y1="1424.10" x2="1325.50" y2="1438.20" stroke="#000" stroke-width="4.2"/>
<line x1="1371.80" y1="1424.10" x2="1371.80" y2="1438.20" stroke="#000" stroke-width="4.2"/>
<path d="M1141.9,1389.0 L1141.9,1142.3 L1372.6,1142.3 L1372.6,1182.0" fill="none" stroke="#000" stroke-width="1.6"/>
<path d="M1281.0,1365.0 L1281.0,1158.8 L1372.6,1158.8 L1372.6,1158.8" fill="none" stroke="#000" stroke-width="1.6"/>
<path d="M1325.8,1314.0 L1325.8,1174.0 L1372.6,1174.0 L1372.6,1174.0" fill="none" stroke="#000" stroke-width="1.6"/>
<text x="1236.4" y="1149.9" font-size="30.0" letter-spacing="3.23" stroke="#000" stroke-width="0.7">***</text>
<text x="1320.4" y="1166.9" font-size="30.0" letter-spacing="3.73" stroke="#000" stroke-width="0.7">**</text>
<text x="1352.8" y="1182.8" font-size="30" text-anchor="middle" stroke="#000" stroke-width="0.7">*</text>
<text x="1161.2" y="1110.5" font-size="27.23" fill="#000">CD8/Treg ratio</text>
<text transform="translate(1045.0,1407.9) rotate(-90)" x="0.0" y="0" font-size="31.69" fill="#000">CD8/Treg ratio</text>
<rect x="1554.25" y="1313.30" width="30.90" height="108.50" fill="#333333" stroke="#000" stroke-width="4.6"/>
<rect x="1599.90" y="1287.90" width="30.90" height="133.90" fill="#d4d4d4" stroke="#000" stroke-width="4.6"/>
<rect x="1645.55" y="1330.50" width="30.90" height="91.30" fill="#5858f6" stroke="#000" stroke-width="4.6"/>
<rect x="1692.00" y="1270.00" width="30.90" height="151.80" fill="#c3c3fd" stroke="#000" stroke-width="4.6"/>
<rect x="1738.25" y="1301.50" width="30.90" height="120.30" fill="#f64444" stroke="#000" stroke-width="4.6"/>
<rect x="1783.95" y="1221.30" width="30.90" height="200.50" fill="#fda5a5" stroke="#000" stroke-width="4.6"/>
<line x1="1569.70" y1="1311.00" x2="1569.70" y2="1291.30" stroke="#000" stroke-width="3.6"/>
<line x1="1561.20" y1="1291.30" x2="1578.20" y2="1291.30" stroke="#000" stroke-width="3.6"/>
<line x1="1615.35" y1="1285.60" x2="1615.35" y2="1275.70" stroke="#000" stroke-width="3.6"/>
<line x1="1606.85" y1="1275.70" x2="1623.85" y2="1275.70" stroke="#000" stroke-width="3.6"/>
<line x1="1661.00" y1="1328.20" x2="1661.00" y2="1326.80" stroke="#000" stroke-width="3.6"/>
<line x1="1652.50" y1="1326.80" x2="1669.50" y2="1326.80" stroke="#000" stroke-width="3.6"/>
<circle cx="1568.9" cy="1253.8" r="8.6" fill="#fff" stroke="#000" stroke-width="3.6"/>
<circle cx="1568.9" cy="1319.7" r="8.6" fill="#fff" stroke="#000" stroke-width="3.6"/>
<circle cx="1562.3" cy="1333.9" r="8.6" fill="#fff" stroke="#000" stroke-width="3.6"/>
<circle cx="1576.0" cy="1333.9" r="8.6" fill="#fff" stroke="#000" stroke-width="3.6"/>
<circle cx="1614.8" cy="1226.9" r="8.6" fill="#fff" stroke="#000" stroke-width="3.6"/>
<circle cx="1614.8" cy="1265.7" r="8.6" fill="#fff" stroke="#000" stroke-width="3.6"/>
<circle cx="1622.2" cy="1314.8" r="8.6" fill="#fff" stroke="#000" stroke-width="3.6"/>
<circle cx="1608.6" cy="1328.2" r="8.6" fill="#fff" stroke="#000" stroke-width="3.6"/>
<rect x="1646.2" y="1287.5" width="17.2" height="17.2" fill="#fff" stroke="#000" stroke-width="3.6"/>
<rect x="1658.2" y="1306.2" width="17.2" height="17.2" fill="#fff" stroke="#000" stroke-width="3.6"/>
<rect x="1658.2" y="1328.9" width="17.2" height="17.2" fill="#fff" stroke="#000" stroke-width="3.6"/>
<rect x="1646.2" y="1346.5" width="17.2" height="17.2" fill="#fff" stroke="#000" stroke-width="3.6"/>
<rect x="1698.4" y="1257.1" width="17.2" height="17.2" fill="#fff" stroke="#000" stroke-width="3.6"/>
<rect x="1705.8" y="1268.5" width="17.2" height="17.2" fill="#fff" stroke="#000" stroke-width="3.6"/>
<rect x="1692.8" y="1277.0" width="17.2" height="17.2" fill="#fff" stroke="#000" stroke-width="3.6"/>
<path d="M1759.0,1263.7 L1769.6,1274.3 L1759.0,1284.9 L1748.4,1274.3 Z" fill="#fff" stroke="#000" stroke-width="3.6" stroke-linejoin="miter"/>
<path d="M1744.8,1279.3 L1755.4,1289.9 L1744.8,1300.5 L1734.2,1289.9 Z" fill="#fff" stroke="#000" stroke-width="3.6" stroke-linejoin="miter"/>
<path d="M1759.0,1284.9 L1769.6,1295.5 L1759.0,1306.1 L1748.4,1295.5 Z" fill="#fff" stroke="#000" stroke-width="3.6" stroke-linejoin="miter"/>
<path d="M1752.5,1324.7 L1763.1,1335.3 L1752.5,1345.9 L1741.9,1335.3 Z" fill="#fff" stroke="#000" stroke-width="3.6" stroke-linejoin="miter"/>
<path d="M1798.7,1168.0 L1809.3,1178.6 L1798.7,1189.2 L1788.1,1178.6 Z" fill="#fff" stroke="#000" stroke-width="3.6" stroke-linejoin="miter"/>
<path d="M1798.7,1191.3 L1809.3,1201.9 L1798.7,1212.5 L1788.1,1201.9 Z" fill="#fff" stroke="#000" stroke-width="3.6" stroke-linejoin="miter"/>
<path d="M1805.8,1229.6 L1816.4,1240.2 L1805.8,1250.8 L1795.2,1240.2 Z" fill="#fff" stroke="#000" stroke-width="3.6" stroke-linejoin="miter"/>
<path d="M1791.6,1239.5 L1802.2,1250.1 L1791.6,1260.7 L1781.0,1250.1 Z" fill="#fff" stroke="#000" stroke-width="3.6" stroke-linejoin="miter"/>
<line x1="1532.80" y1="1161.50" x2="1532.80" y2="1423.90" stroke="#000" stroke-width="4.2"/>
<line x1="1515.80" y1="1421.80" x2="1838.00" y2="1421.80" stroke="#000" stroke-width="4.2"/>
<line x1="1513.80" y1="1421.80" x2="1532.80" y2="1421.80" stroke="#000" stroke-width="4.2"/>
<line x1="1513.80" y1="1357.25" x2="1532.80" y2="1357.25" stroke="#000" stroke-width="4.2"/>
<line x1="1513.80" y1="1292.70" x2="1532.80" y2="1292.70" stroke="#000" stroke-width="4.2"/>
<line x1="1513.80" y1="1228.15" x2="1532.80" y2="1228.15" stroke="#000" stroke-width="4.2"/>
<line x1="1513.80" y1="1163.60" x2="1532.80" y2="1163.60" stroke="#000" stroke-width="4.2"/>
<text x="1513.0" y="1430.9" font-size="26" text-anchor="end">0</text>
<text x="1513.0" y="1301.8" font-size="26" text-anchor="end">200</text>
<text x="1513.0" y="1172.7" font-size="26" text-anchor="end">400</text>
<line x1="1568.30" y1="1421.80" x2="1568.30" y2="1435.90" stroke="#000" stroke-width="4.2"/>
<line x1="1614.30" y1="1421.80" x2="1614.30" y2="1435.90" stroke="#000" stroke-width="4.2"/>
<line x1="1660.50" y1="1421.80" x2="1660.50" y2="1435.90" stroke="#000" stroke-width="4.2"/>
<line x1="1706.00" y1="1421.80" x2="1706.00" y2="1435.90" stroke="#000" stroke-width="4.2"/>
<line x1="1752.50" y1="1421.80" x2="1752.50" y2="1435.90" stroke="#000" stroke-width="4.2"/>
<line x1="1798.70" y1="1421.80" x2="1798.70" y2="1435.90" stroke="#000" stroke-width="4.2"/>
<path d="M1570.3,1231.7 L1570.3,1137.2 L1800.0,1137.2 L1800.0,1161.6" fill="none" stroke="#000" stroke-width="1.6"/>
<path d="M1729.8,1245.9 L1729.8,1155.0 L1800.0,1155.0 L1800.0,1155.0" fill="none" stroke="#000" stroke-width="1.6"/>
<line x1="1690.90" y1="1245.90" x2="1766.60" y2="1245.90" stroke="#000" stroke-width="1.6"/>
<text x="1676.7" y="1142.3" font-size="30" text-anchor="middle" stroke="#000" stroke-width="0.7">*</text>
<text x="1769.0" y="1160.6" font-size="30" text-anchor="middle" stroke="#000" stroke-width="0.7">*</text>
<text x="1575.0" y="1108.8" font-size="26.89" fill="#000">IFNγ<tspan font-size="16.1" dy="-9.7">+</tspan><tspan dy="9.7">CD8</tspan><tspan font-size="16.1" dy="-9.7">+</tspan><tspan dy="9.7"> TILs</tspan></text>
<text transform="translate(1455.0,1370.4) rotate(-90)" x="0.0" y="0" font-size="30.51" fill="#000">IFNγ (MFI)</text>
<rect x="1850.5" y="1156.6" width="26.6" height="10.0" fill="#333333" stroke="#000" stroke-width="3"/>
<text x="1883.7" y="1170.5" font-size="24.8">PBS</text>
<rect x="1850.5" y="1194.7" width="26.6" height="10.0" fill="#d4d4d4" stroke="#000" stroke-width="3"/>
<text x="1883.7" y="1208.6" font-size="24.8">GM-CSF</text>
<rect x="1850.5" y="1231.9" width="26.6" height="10.0" fill="#5858f6" stroke="#000" stroke-width="3"/>
<text x="1883.7" y="1245.8" font-size="24.8">3T3/GM-CSF</text>
<rect x="1850.5" y="1269.8" width="26.6" height="10.0" fill="#c3c3fd" stroke="#000" stroke-width="3"/>
<text x="1883.7" y="1283.7" font-size="24.8">RT</text>
<rect x="1850.5" y="1307.6" width="26.6" height="10.0" fill="#f64444" stroke="#000" stroke-width="3"/>
<text x="1883.7" y="1321.5" font-size="24.8">iPSC/GM-CSF</text>
<rect x="1850.5" y="1345.5" width="26.6" height="10.0" fill="#fda5a5" stroke="#000" stroke-width="3"/>
<text x="1883.7" y="1359.4" font-size="24.8">iPSC/RT</text>
</svg></body></html>
